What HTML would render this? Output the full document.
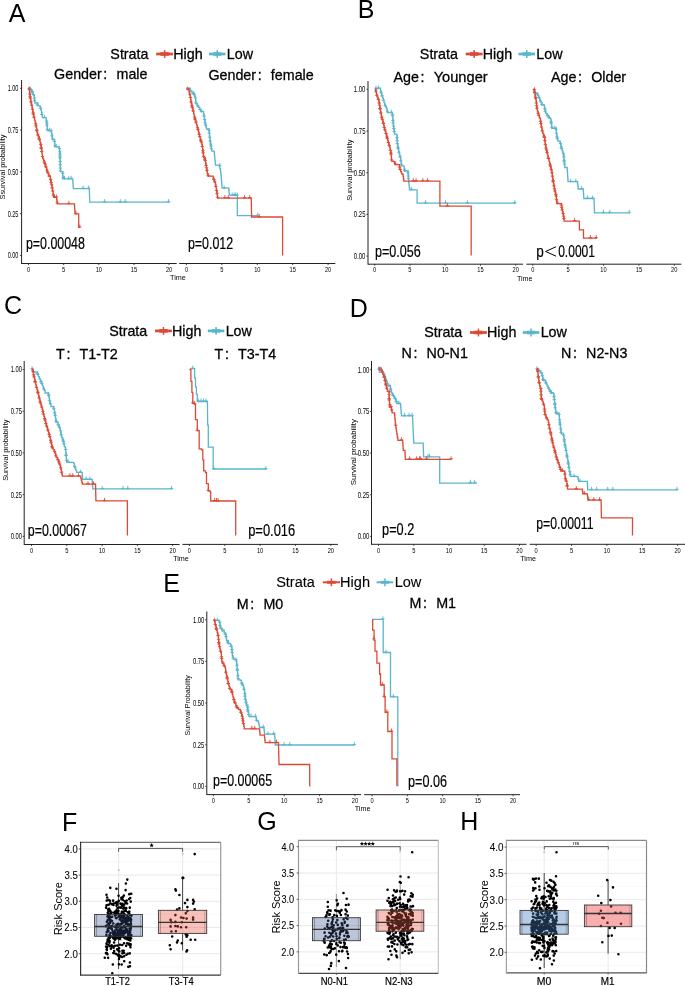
<!DOCTYPE html>
<html><head><meta charset="utf-8"><style>
html,body{margin:0;padding:0;background:#fff;width:685px;height:986px;overflow:hidden;position:relative}
</style></head><body>
<svg width="685" height="986" viewBox="0 0 685 986" style="position:absolute;left:0;top:0;font-family:'Liberation Sans', sans-serif;will-change:transform">
<rect width="685" height="986" fill="#fff"/>
<text x="8.75" y="21.90" font-size="25" text-anchor="start" fill="#000" >A</text>
<text x="357.85" y="17.50" font-size="25" text-anchor="start" fill="#000" >B</text>
<text x="4.03" y="313.90" font-size="25" text-anchor="start" fill="#000" >C</text>
<text x="349.85" y="317.20" font-size="25" text-anchor="start" fill="#000" >D</text>
<text x="163.25" y="591.70" font-size="25" text-anchor="start" fill="#000" >E</text>
<text x="62.05" y="830.70" font-size="25" text-anchor="start" fill="#000" >F</text>
<text x="257.24" y="829.60" font-size="25" text-anchor="start" fill="#000" >G</text>
<text x="460.15" y="829.70" font-size="25" text-anchor="start" fill="#000" >H</text>
<text x="110.35" y="58.70" font-size="14.80" textLength="38.15" lengthAdjust="spacingAndGlyphs" stroke="#000" stroke-width="0.28">Strata</text>
<line x1="156.20" y1="54.00" x2="173.10" y2="54.00" stroke="#DC4A35" stroke-width="2.7"/>
<line x1="160.40" y1="54.00" x2="168.90" y2="54.00" stroke="#DC4A35" stroke-width="3.60"/>
<line x1="164.65" y1="50.10" x2="164.65" y2="57.90" stroke="#DC4A35" stroke-width="1.5"/>
<text x="173.23" y="58.70" font-size="14.80" textLength="29.41" lengthAdjust="spacingAndGlyphs" stroke="#000" stroke-width="0.28">High</text>
<line x1="209.01" y1="54.00" x2="225.51" y2="54.00" stroke="#5BB6CC" stroke-width="2.7"/>
<line x1="213.21" y1="54.00" x2="221.31" y2="54.00" stroke="#5BB6CC" stroke-width="3.60"/>
<line x1="217.26" y1="50.10" x2="217.26" y2="57.90" stroke="#5BB6CC" stroke-width="1.5"/>
<text x="226.84" y="58.70" font-size="14.80" textLength="26.23" lengthAdjust="spacingAndGlyphs" stroke="#000" stroke-width="0.28">Low</text>
<text x="419.85" y="58.70" font-size="14.80" textLength="38.15" lengthAdjust="spacingAndGlyphs" stroke="#000" stroke-width="0.28">Strata</text>
<line x1="465.70" y1="54.00" x2="482.60" y2="54.00" stroke="#DC4A35" stroke-width="2.7"/>
<line x1="469.90" y1="54.00" x2="478.40" y2="54.00" stroke="#DC4A35" stroke-width="3.60"/>
<line x1="474.15" y1="50.10" x2="474.15" y2="57.90" stroke="#DC4A35" stroke-width="1.5"/>
<text x="482.73" y="58.70" font-size="14.80" textLength="29.41" lengthAdjust="spacingAndGlyphs" stroke="#000" stroke-width="0.28">High</text>
<line x1="518.51" y1="54.00" x2="535.01" y2="54.00" stroke="#5BB6CC" stroke-width="2.7"/>
<line x1="522.71" y1="54.00" x2="530.81" y2="54.00" stroke="#5BB6CC" stroke-width="3.60"/>
<line x1="526.76" y1="50.10" x2="526.76" y2="57.90" stroke="#5BB6CC" stroke-width="1.5"/>
<text x="536.34" y="58.70" font-size="14.80" textLength="26.23" lengthAdjust="spacingAndGlyphs" stroke="#000" stroke-width="0.28">Low</text>
<text x="109.15" y="335.60" font-size="14.80" textLength="38.15" lengthAdjust="spacingAndGlyphs" stroke="#000" stroke-width="0.28">Strata</text>
<line x1="155.00" y1="330.90" x2="171.90" y2="330.90" stroke="#DC4A35" stroke-width="2.7"/>
<line x1="159.20" y1="330.90" x2="167.70" y2="330.90" stroke="#DC4A35" stroke-width="3.60"/>
<line x1="163.45" y1="327.00" x2="163.45" y2="334.80" stroke="#DC4A35" stroke-width="1.5"/>
<text x="172.03" y="335.60" font-size="14.80" textLength="29.41" lengthAdjust="spacingAndGlyphs" stroke="#000" stroke-width="0.28">High</text>
<line x1="207.81" y1="330.90" x2="224.31" y2="330.90" stroke="#5BB6CC" stroke-width="2.7"/>
<line x1="212.01" y1="330.90" x2="220.11" y2="330.90" stroke="#5BB6CC" stroke-width="3.60"/>
<line x1="216.06" y1="327.00" x2="216.06" y2="334.80" stroke="#5BB6CC" stroke-width="1.5"/>
<text x="225.64" y="335.60" font-size="14.80" textLength="26.23" lengthAdjust="spacingAndGlyphs" stroke="#000" stroke-width="0.28">Low</text>
<text x="424.15" y="337.20" font-size="14.80" textLength="38.15" lengthAdjust="spacingAndGlyphs" stroke="#000" stroke-width="0.28">Strata</text>
<line x1="470.00" y1="332.50" x2="486.90" y2="332.50" stroke="#DC4A35" stroke-width="2.7"/>
<line x1="474.20" y1="332.50" x2="482.70" y2="332.50" stroke="#DC4A35" stroke-width="3.60"/>
<line x1="478.45" y1="328.60" x2="478.45" y2="336.40" stroke="#DC4A35" stroke-width="1.5"/>
<text x="487.03" y="337.20" font-size="14.80" textLength="29.41" lengthAdjust="spacingAndGlyphs" stroke="#000" stroke-width="0.28">High</text>
<line x1="522.81" y1="332.50" x2="539.31" y2="332.50" stroke="#5BB6CC" stroke-width="2.7"/>
<line x1="527.01" y1="332.50" x2="535.11" y2="332.50" stroke="#5BB6CC" stroke-width="3.60"/>
<line x1="531.06" y1="328.60" x2="531.06" y2="336.40" stroke="#5BB6CC" stroke-width="1.5"/>
<text x="540.64" y="337.20" font-size="14.80" textLength="26.23" lengthAdjust="spacingAndGlyphs" stroke="#000" stroke-width="0.28">Low</text>
<text x="276.14" y="587.00" font-size="15.06" textLength="38.82" lengthAdjust="spacingAndGlyphs" stroke="#000" stroke-width="0.1">Strata</text>
<line x1="322.79" y1="582.30" x2="339.99" y2="582.30" stroke="#DC4A35" stroke-width="2.0"/>
<line x1="326.99" y1="582.30" x2="335.79" y2="582.30" stroke="#DC4A35" stroke-width="2.90"/>
<line x1="331.39" y1="578.40" x2="331.39" y2="586.20" stroke="#DC4A35" stroke-width="1.5"/>
<text x="340.12" y="587.00" font-size="15.06" textLength="29.92" lengthAdjust="spacingAndGlyphs" stroke="#000" stroke-width="0.1">High</text>
<line x1="376.52" y1="582.30" x2="393.31" y2="582.30" stroke="#5BB6CC" stroke-width="2.0"/>
<line x1="380.72" y1="582.30" x2="389.11" y2="582.30" stroke="#5BB6CC" stroke-width="2.90"/>
<line x1="384.92" y1="578.40" x2="384.92" y2="586.20" stroke="#5BB6CC" stroke-width="1.5"/>
<text x="394.66" y="587.00" font-size="15.06" textLength="26.69" lengthAdjust="spacingAndGlyphs" stroke="#000" stroke-width="0.1">Low</text>
<text x="54.08" y="78.90" font-size="14.80" textLength="47.70" lengthAdjust="spacingAndGlyphs" stroke="#000" stroke-width="0.28">Gender</text>
<text x="103.37" y="78.90" font-size="14.80" textLength="3.97" lengthAdjust="spacingAndGlyphs" stroke="#000" stroke-width="0.28">:</text>
<text x="116.51" y="78.90" font-size="14.80" textLength="30.99" lengthAdjust="spacingAndGlyphs" stroke="#000" stroke-width="0.28">male</text>
<text x="208.38" y="80.40" font-size="14.80" textLength="47.70" lengthAdjust="spacingAndGlyphs" stroke="#000" stroke-width="0.28">Gender</text>
<text x="257.67" y="80.40" font-size="14.80" textLength="3.97" lengthAdjust="spacingAndGlyphs" stroke="#000" stroke-width="0.28">:</text>
<text x="270.81" y="80.40" font-size="14.80" textLength="42.92" lengthAdjust="spacingAndGlyphs" stroke="#000" stroke-width="0.28">female</text>
<text x="393.47" y="82.00" font-size="14.80" textLength="25.44" lengthAdjust="spacingAndGlyphs" stroke="#000" stroke-width="0.28">Age</text>
<text x="420.50" y="82.00" font-size="14.80" textLength="3.97" lengthAdjust="spacingAndGlyphs" stroke="#000" stroke-width="0.28">:</text>
<text x="433.65" y="82.00" font-size="14.80" textLength="54.06" lengthAdjust="spacingAndGlyphs" stroke="#000" stroke-width="0.28">Younger</text>
<text x="550.97" y="82.00" font-size="14.80" textLength="25.44" lengthAdjust="spacingAndGlyphs" stroke="#000" stroke-width="0.28">Age</text>
<text x="578.00" y="82.00" font-size="14.80" textLength="3.97" lengthAdjust="spacingAndGlyphs" stroke="#000" stroke-width="0.28">:</text>
<text x="591.15" y="82.00" font-size="14.80" textLength="34.97" lengthAdjust="spacingAndGlyphs" stroke="#000" stroke-width="0.28">Older</text>
<text x="56.08" y="359.20" font-size="14.80" textLength="8.74" lengthAdjust="spacingAndGlyphs" stroke="#000" stroke-width="0.28">T</text>
<text x="66.40" y="359.20" font-size="14.80" textLength="3.97" lengthAdjust="spacingAndGlyphs" stroke="#000" stroke-width="0.28">:</text>
<text x="79.54" y="359.20" font-size="14.80" textLength="38.14" lengthAdjust="spacingAndGlyphs" stroke="#000" stroke-width="0.28">T1-T2</text>
<text x="214.58" y="359.40" font-size="14.80" textLength="8.74" lengthAdjust="spacingAndGlyphs" stroke="#000" stroke-width="0.28">T</text>
<text x="224.90" y="359.40" font-size="14.80" textLength="3.97" lengthAdjust="spacingAndGlyphs" stroke="#000" stroke-width="0.28">:</text>
<text x="238.04" y="359.40" font-size="14.80" textLength="38.14" lengthAdjust="spacingAndGlyphs" stroke="#000" stroke-width="0.28">T3-T4</text>
<text x="401.53" y="358.20" font-size="14.80" textLength="10.33" lengthAdjust="spacingAndGlyphs" stroke="#000" stroke-width="0.28">N</text>
<text x="413.44" y="358.20" font-size="14.80" textLength="3.97" lengthAdjust="spacingAndGlyphs" stroke="#000" stroke-width="0.28">:</text>
<text x="426.58" y="358.20" font-size="14.80" textLength="41.32" lengthAdjust="spacingAndGlyphs" stroke="#000" stroke-width="0.28">N0-N1</text>
<text x="561.03" y="358.20" font-size="14.80" textLength="10.33" lengthAdjust="spacingAndGlyphs" stroke="#000" stroke-width="0.28">N</text>
<text x="572.94" y="358.20" font-size="14.80" textLength="3.97" lengthAdjust="spacingAndGlyphs" stroke="#000" stroke-width="0.28">:</text>
<text x="586.08" y="358.20" font-size="14.80" textLength="41.32" lengthAdjust="spacingAndGlyphs" stroke="#000" stroke-width="0.28">N2-N3</text>
<text x="236.83" y="608.70" font-size="14.80" textLength="11.91" lengthAdjust="spacingAndGlyphs" stroke="#000" stroke-width="0.28">M</text>
<text x="250.33" y="608.70" font-size="14.80" textLength="3.97" lengthAdjust="spacingAndGlyphs" stroke="#000" stroke-width="0.28">:</text>
<text x="263.47" y="608.70" font-size="14.80" textLength="19.86" lengthAdjust="spacingAndGlyphs" stroke="#000" stroke-width="0.28">M0</text>
<text x="409.53" y="608.00" font-size="14.80" textLength="11.91" lengthAdjust="spacingAndGlyphs" stroke="#000" stroke-width="0.28">M</text>
<text x="423.03" y="608.00" font-size="14.80" textLength="3.97" lengthAdjust="spacingAndGlyphs" stroke="#000" stroke-width="0.28">:</text>
<text x="436.17" y="608.00" font-size="14.80" textLength="19.86" lengthAdjust="spacingAndGlyphs" stroke="#000" stroke-width="0.28">M1</text>
<line x1="21.60" y1="80.00" x2="21.60" y2="264.00" stroke="#222" stroke-width="1.0" />
<line x1="20.00" y1="88.30" x2="21.60" y2="88.30" stroke="#222" stroke-width="0.8" />
<text x="7.67" y="91.25" font-size="8.4" fill="#000" textLength="10.75" lengthAdjust="spacingAndGlyphs">1.00</text>
<line x1="20.00" y1="130.10" x2="21.60" y2="130.10" stroke="#222" stroke-width="0.8" />
<text x="7.68" y="133.05" font-size="8.4" fill="#000" textLength="10.75" lengthAdjust="spacingAndGlyphs">0.75</text>
<line x1="20.00" y1="171.90" x2="21.60" y2="171.90" stroke="#222" stroke-width="0.8" />
<text x="7.67" y="174.85" font-size="8.4" fill="#000" textLength="10.75" lengthAdjust="spacingAndGlyphs">0.50</text>
<line x1="20.00" y1="213.70" x2="21.60" y2="213.70" stroke="#222" stroke-width="0.8" />
<text x="7.68" y="216.65" font-size="8.4" fill="#000" textLength="10.75" lengthAdjust="spacingAndGlyphs">0.25</text>
<line x1="20.00" y1="255.50" x2="21.60" y2="255.50" stroke="#222" stroke-width="0.8" />
<text x="7.67" y="258.45" font-size="8.4" fill="#000" textLength="10.75" lengthAdjust="spacingAndGlyphs">0.00</text>
<line x1="21.60" y1="263.50" x2="176.70" y2="263.50" stroke="#222" stroke-width="1.0" />
<line x1="28.50" y1="263.50" x2="28.50" y2="265.10" stroke="#222" stroke-width="0.8" />
<text x="28.50" y="271.75" font-size="7.7" text-anchor="middle" fill="#000" transform-origin="28.50 263.50" style="transform:scaleX(0.74)">0</text>
<line x1="63.65" y1="263.50" x2="63.65" y2="265.10" stroke="#222" stroke-width="0.8" />
<text x="63.65" y="271.75" font-size="7.7" text-anchor="middle" fill="#000" transform-origin="63.65 263.50" style="transform:scaleX(0.74)">5</text>
<line x1="98.80" y1="263.50" x2="98.80" y2="265.10" stroke="#222" stroke-width="0.8" />
<text x="98.80" y="271.75" font-size="7.7" text-anchor="middle" fill="#000" transform-origin="98.80 263.50" style="transform:scaleX(0.74)">10</text>
<line x1="133.95" y1="263.50" x2="133.95" y2="265.10" stroke="#222" stroke-width="0.8" />
<text x="133.95" y="271.75" font-size="7.7" text-anchor="middle" fill="#000" transform-origin="133.95 263.50" style="transform:scaleX(0.74)">15</text>
<line x1="169.10" y1="263.50" x2="169.10" y2="265.10" stroke="#222" stroke-width="0.8" />
<text x="169.10" y="271.75" font-size="7.7" text-anchor="middle" fill="#000" transform-origin="169.10 263.50" style="transform:scaleX(0.74)">20</text>
<line x1="179.20" y1="263.50" x2="335.30" y2="263.50" stroke="#222" stroke-width="1.0" />
<line x1="186.50" y1="263.50" x2="186.50" y2="265.10" stroke="#222" stroke-width="0.8" />
<text x="186.50" y="271.75" font-size="7.7" text-anchor="middle" fill="#000" transform-origin="186.50 263.50" style="transform:scaleX(0.74)">0</text>
<line x1="221.90" y1="263.50" x2="221.90" y2="265.10" stroke="#222" stroke-width="0.8" />
<text x="221.90" y="271.75" font-size="7.7" text-anchor="middle" fill="#000" transform-origin="221.90 263.50" style="transform:scaleX(0.74)">5</text>
<line x1="257.30" y1="263.50" x2="257.30" y2="265.10" stroke="#222" stroke-width="0.8" />
<text x="257.30" y="271.75" font-size="7.7" text-anchor="middle" fill="#000" transform-origin="257.30 263.50" style="transform:scaleX(0.74)">10</text>
<line x1="292.70" y1="263.50" x2="292.70" y2="265.10" stroke="#222" stroke-width="0.8" />
<text x="292.70" y="271.75" font-size="7.7" text-anchor="middle" fill="#000" transform-origin="292.70 263.50" style="transform:scaleX(0.74)">15</text>
<line x1="328.10" y1="263.50" x2="328.10" y2="265.10" stroke="#222" stroke-width="0.8" />
<text x="328.10" y="271.75" font-size="7.7" text-anchor="middle" fill="#000" transform-origin="328.10 263.50" style="transform:scaleX(0.74)">20</text>
<text x="0" y="0" font-size="7.3" text-anchor="middle" transform="translate(5.20,167.00) rotate(-90)">Ssurvival probability</text>
<text x="177.95" y="280.00" font-size="7.2" text-anchor="middle" fill="#000" >Time</text>
<line x1="368.00" y1="81.00" x2="368.00" y2="264.70" stroke="#222" stroke-width="1.0" />
<line x1="366.40" y1="89.30" x2="368.00" y2="89.30" stroke="#222" stroke-width="0.8" />
<text x="353.85" y="92.25" font-size="8.4" fill="#000" textLength="11.58" lengthAdjust="spacingAndGlyphs">1.00</text>
<line x1="366.40" y1="131.00" x2="368.00" y2="131.00" stroke="#222" stroke-width="0.8" />
<text x="353.87" y="133.95" font-size="8.4" fill="#000" textLength="11.58" lengthAdjust="spacingAndGlyphs">0.75</text>
<line x1="366.40" y1="172.70" x2="368.00" y2="172.70" stroke="#222" stroke-width="0.8" />
<text x="353.85" y="175.65" font-size="8.4" fill="#000" textLength="11.58" lengthAdjust="spacingAndGlyphs">0.50</text>
<line x1="366.40" y1="214.40" x2="368.00" y2="214.40" stroke="#222" stroke-width="0.8" />
<text x="353.87" y="217.35" font-size="8.4" fill="#000" textLength="11.58" lengthAdjust="spacingAndGlyphs">0.25</text>
<line x1="366.40" y1="256.10" x2="368.00" y2="256.10" stroke="#222" stroke-width="0.8" />
<text x="353.85" y="259.05" font-size="8.4" fill="#000" textLength="11.58" lengthAdjust="spacingAndGlyphs">0.00</text>
<line x1="368.00" y1="264.20" x2="523.10" y2="264.20" stroke="#222" stroke-width="1.0" />
<line x1="374.70" y1="264.20" x2="374.70" y2="265.80" stroke="#222" stroke-width="0.8" />
<text x="374.70" y="272.45" font-size="7.7" text-anchor="middle" fill="#000" transform-origin="374.70 264.20" style="transform:scaleX(0.74)">0</text>
<line x1="409.95" y1="264.20" x2="409.95" y2="265.80" stroke="#222" stroke-width="0.8" />
<text x="409.95" y="272.45" font-size="7.7" text-anchor="middle" fill="#000" transform-origin="409.95 264.20" style="transform:scaleX(0.74)">5</text>
<line x1="445.20" y1="264.20" x2="445.20" y2="265.80" stroke="#222" stroke-width="0.8" />
<text x="445.20" y="272.45" font-size="7.7" text-anchor="middle" fill="#000" transform-origin="445.20 264.20" style="transform:scaleX(0.74)">10</text>
<line x1="480.45" y1="264.20" x2="480.45" y2="265.80" stroke="#222" stroke-width="0.8" />
<text x="480.45" y="272.45" font-size="7.7" text-anchor="middle" fill="#000" transform-origin="480.45 264.20" style="transform:scaleX(0.74)">15</text>
<line x1="515.70" y1="264.20" x2="515.70" y2="265.80" stroke="#222" stroke-width="0.8" />
<text x="515.70" y="272.45" font-size="7.7" text-anchor="middle" fill="#000" transform-origin="515.70 264.20" style="transform:scaleX(0.74)">20</text>
<line x1="526.40" y1="264.20" x2="681.40" y2="264.20" stroke="#222" stroke-width="1.0" />
<line x1="532.80" y1="264.20" x2="532.80" y2="265.80" stroke="#222" stroke-width="0.8" />
<text x="532.80" y="272.45" font-size="7.7" text-anchor="middle" fill="#000" transform-origin="532.80 264.20" style="transform:scaleX(0.74)">0</text>
<line x1="568.17" y1="264.20" x2="568.17" y2="265.80" stroke="#222" stroke-width="0.8" />
<text x="568.17" y="272.45" font-size="7.7" text-anchor="middle" fill="#000" transform-origin="568.17 264.20" style="transform:scaleX(0.74)">5</text>
<line x1="603.55" y1="264.20" x2="603.55" y2="265.80" stroke="#222" stroke-width="0.8" />
<text x="603.55" y="272.45" font-size="7.7" text-anchor="middle" fill="#000" transform-origin="603.55 264.20" style="transform:scaleX(0.74)">10</text>
<line x1="638.92" y1="264.20" x2="638.92" y2="265.80" stroke="#222" stroke-width="0.8" />
<text x="638.92" y="272.45" font-size="7.7" text-anchor="middle" fill="#000" transform-origin="638.92 264.20" style="transform:scaleX(0.74)">15</text>
<line x1="674.30" y1="264.20" x2="674.30" y2="265.80" stroke="#222" stroke-width="0.8" />
<text x="674.30" y="272.45" font-size="7.7" text-anchor="middle" fill="#000" transform-origin="674.30 264.20" style="transform:scaleX(0.74)">20</text>
<text x="0" y="0" font-size="7.3" text-anchor="middle" transform="translate(352.40,170.20) rotate(-90)">Survival probability</text>
<text x="524.75" y="280.70" font-size="7.2" text-anchor="middle" fill="#000" >Time</text>
<line x1="24.20" y1="361.00" x2="24.20" y2="545.00" stroke="#222" stroke-width="1.0" />
<line x1="22.60" y1="369.50" x2="24.20" y2="369.50" stroke="#222" stroke-width="0.8" />
<text x="10.65" y="372.45" font-size="8.4" fill="#000" textLength="11.37" lengthAdjust="spacingAndGlyphs">1.00</text>
<line x1="22.60" y1="411.23" x2="24.20" y2="411.23" stroke="#222" stroke-width="0.8" />
<text x="10.67" y="414.18" font-size="8.4" fill="#000" textLength="11.37" lengthAdjust="spacingAndGlyphs">0.75</text>
<line x1="22.60" y1="452.95" x2="24.20" y2="452.95" stroke="#222" stroke-width="0.8" />
<text x="10.65" y="455.90" font-size="8.4" fill="#000" textLength="11.37" lengthAdjust="spacingAndGlyphs">0.50</text>
<line x1="22.60" y1="494.67" x2="24.20" y2="494.67" stroke="#222" stroke-width="0.8" />
<text x="10.67" y="497.62" font-size="8.4" fill="#000" textLength="11.37" lengthAdjust="spacingAndGlyphs">0.25</text>
<line x1="22.60" y1="536.40" x2="24.20" y2="536.40" stroke="#222" stroke-width="0.8" />
<text x="10.65" y="539.35" font-size="8.4" fill="#000" textLength="11.37" lengthAdjust="spacingAndGlyphs">0.00</text>
<line x1="24.20" y1="544.50" x2="179.60" y2="544.50" stroke="#222" stroke-width="1.0" />
<line x1="31.50" y1="544.50" x2="31.50" y2="546.10" stroke="#222" stroke-width="0.8" />
<text x="31.50" y="552.75" font-size="7.7" text-anchor="middle" fill="#000" transform-origin="31.50 544.50" style="transform:scaleX(0.74)">0</text>
<line x1="66.80" y1="544.50" x2="66.80" y2="546.10" stroke="#222" stroke-width="0.8" />
<text x="66.80" y="552.75" font-size="7.7" text-anchor="middle" fill="#000" transform-origin="66.80 544.50" style="transform:scaleX(0.74)">5</text>
<line x1="102.10" y1="544.50" x2="102.10" y2="546.10" stroke="#222" stroke-width="0.8" />
<text x="102.10" y="552.75" font-size="7.7" text-anchor="middle" fill="#000" transform-origin="102.10 544.50" style="transform:scaleX(0.74)">10</text>
<line x1="137.40" y1="544.50" x2="137.40" y2="546.10" stroke="#222" stroke-width="0.8" />
<text x="137.40" y="552.75" font-size="7.7" text-anchor="middle" fill="#000" transform-origin="137.40 544.50" style="transform:scaleX(0.74)">15</text>
<line x1="172.70" y1="544.50" x2="172.70" y2="546.10" stroke="#222" stroke-width="0.8" />
<text x="172.70" y="552.75" font-size="7.7" text-anchor="middle" fill="#000" transform-origin="172.70 544.50" style="transform:scaleX(0.74)">20</text>
<line x1="182.40" y1="544.40" x2="337.90" y2="544.40" stroke="#222" stroke-width="1.0" />
<line x1="189.40" y1="544.40" x2="189.40" y2="546.00" stroke="#222" stroke-width="0.8" />
<text x="189.40" y="552.65" font-size="7.7" text-anchor="middle" fill="#000" transform-origin="189.40 544.40" style="transform:scaleX(0.74)">0</text>
<line x1="224.75" y1="544.40" x2="224.75" y2="546.00" stroke="#222" stroke-width="0.8" />
<text x="224.75" y="552.65" font-size="7.7" text-anchor="middle" fill="#000" transform-origin="224.75 544.40" style="transform:scaleX(0.74)">5</text>
<line x1="260.10" y1="544.40" x2="260.10" y2="546.00" stroke="#222" stroke-width="0.8" />
<text x="260.10" y="552.65" font-size="7.7" text-anchor="middle" fill="#000" transform-origin="260.10 544.40" style="transform:scaleX(0.74)">10</text>
<line x1="295.45" y1="544.40" x2="295.45" y2="546.00" stroke="#222" stroke-width="0.8" />
<text x="295.45" y="552.65" font-size="7.7" text-anchor="middle" fill="#000" transform-origin="295.45 544.40" style="transform:scaleX(0.74)">15</text>
<line x1="330.80" y1="544.40" x2="330.80" y2="546.00" stroke="#222" stroke-width="0.8" />
<text x="330.80" y="552.65" font-size="7.7" text-anchor="middle" fill="#000" transform-origin="330.80 544.40" style="transform:scaleX(0.74)">20</text>
<text x="0" y="0" font-size="7.3" text-anchor="middle" transform="translate(8.00,450.20) rotate(-90)">Survival probability</text>
<text x="181.00" y="561.00" font-size="7.2" text-anchor="middle" fill="#000" >Time</text>
<line x1="371.50" y1="361.00" x2="371.50" y2="544.80" stroke="#222" stroke-width="1.0" />
<line x1="369.90" y1="369.70" x2="371.50" y2="369.70" stroke="#222" stroke-width="0.8" />
<text x="357.75" y="372.65" font-size="8.4" fill="#000" textLength="11.58" lengthAdjust="spacingAndGlyphs">1.00</text>
<line x1="369.90" y1="411.38" x2="371.50" y2="411.38" stroke="#222" stroke-width="0.8" />
<text x="357.77" y="414.32" font-size="8.4" fill="#000" textLength="11.58" lengthAdjust="spacingAndGlyphs">0.75</text>
<line x1="369.90" y1="453.05" x2="371.50" y2="453.05" stroke="#222" stroke-width="0.8" />
<text x="357.75" y="456.00" font-size="8.4" fill="#000" textLength="11.58" lengthAdjust="spacingAndGlyphs">0.50</text>
<line x1="369.90" y1="494.72" x2="371.50" y2="494.72" stroke="#222" stroke-width="0.8" />
<text x="357.77" y="497.67" font-size="8.4" fill="#000" textLength="11.58" lengthAdjust="spacingAndGlyphs">0.25</text>
<line x1="369.90" y1="536.40" x2="371.50" y2="536.40" stroke="#222" stroke-width="0.8" />
<text x="357.75" y="539.35" font-size="8.4" fill="#000" textLength="11.58" lengthAdjust="spacingAndGlyphs">0.00</text>
<line x1="371.50" y1="544.30" x2="526.60" y2="544.30" stroke="#222" stroke-width="1.0" />
<line x1="378.50" y1="544.30" x2="378.50" y2="545.90" stroke="#222" stroke-width="0.8" />
<text x="378.50" y="552.55" font-size="7.7" text-anchor="middle" fill="#000" transform-origin="378.50 544.30" style="transform:scaleX(0.74)">0</text>
<line x1="413.75" y1="544.30" x2="413.75" y2="545.90" stroke="#222" stroke-width="0.8" />
<text x="413.75" y="552.55" font-size="7.7" text-anchor="middle" fill="#000" transform-origin="413.75 544.30" style="transform:scaleX(0.74)">5</text>
<line x1="449.00" y1="544.30" x2="449.00" y2="545.90" stroke="#222" stroke-width="0.8" />
<text x="449.00" y="552.55" font-size="7.7" text-anchor="middle" fill="#000" transform-origin="449.00 544.30" style="transform:scaleX(0.74)">10</text>
<line x1="484.25" y1="544.30" x2="484.25" y2="545.90" stroke="#222" stroke-width="0.8" />
<text x="484.25" y="552.55" font-size="7.7" text-anchor="middle" fill="#000" transform-origin="484.25 544.30" style="transform:scaleX(0.74)">15</text>
<line x1="519.50" y1="544.30" x2="519.50" y2="545.90" stroke="#222" stroke-width="0.8" />
<text x="519.50" y="552.55" font-size="7.7" text-anchor="middle" fill="#000" transform-origin="519.50 544.30" style="transform:scaleX(0.74)">20</text>
<line x1="529.60" y1="544.30" x2="685.00" y2="544.30" stroke="#222" stroke-width="1.0" />
<line x1="536.20" y1="544.30" x2="536.20" y2="545.90" stroke="#222" stroke-width="0.8" />
<text x="536.20" y="552.55" font-size="7.7" text-anchor="middle" fill="#000" transform-origin="536.20 544.30" style="transform:scaleX(0.74)">0</text>
<line x1="571.55" y1="544.30" x2="571.55" y2="545.90" stroke="#222" stroke-width="0.8" />
<text x="571.55" y="552.55" font-size="7.7" text-anchor="middle" fill="#000" transform-origin="571.55 544.30" style="transform:scaleX(0.74)">5</text>
<line x1="606.90" y1="544.30" x2="606.90" y2="545.90" stroke="#222" stroke-width="0.8" />
<text x="606.90" y="552.55" font-size="7.7" text-anchor="middle" fill="#000" transform-origin="606.90 544.30" style="transform:scaleX(0.74)">10</text>
<line x1="642.25" y1="544.30" x2="642.25" y2="545.90" stroke="#222" stroke-width="0.8" />
<text x="642.25" y="552.55" font-size="7.7" text-anchor="middle" fill="#000" transform-origin="642.25 544.30" style="transform:scaleX(0.74)">15</text>
<line x1="677.60" y1="544.30" x2="677.60" y2="545.90" stroke="#222" stroke-width="0.8" />
<text x="677.60" y="552.55" font-size="7.7" text-anchor="middle" fill="#000" transform-origin="677.60 544.30" style="transform:scaleX(0.74)">20</text>
<text x="0" y="0" font-size="7.9" text-anchor="middle" transform="translate(355.70,452.20) rotate(-90)">Survival probability</text>
<text x="528.10" y="560.80" font-size="7.2" text-anchor="middle" fill="#000" >Time</text>
<line x1="206.80" y1="611.50" x2="206.80" y2="795.10" stroke="#222" stroke-width="1.0" />
<line x1="205.20" y1="619.70" x2="206.80" y2="619.70" stroke="#222" stroke-width="0.8" />
<text x="192.95" y="622.65" font-size="8.4" fill="#000" textLength="11.37" lengthAdjust="spacingAndGlyphs">1.00</text>
<line x1="205.20" y1="661.38" x2="206.80" y2="661.38" stroke="#222" stroke-width="0.8" />
<text x="192.97" y="664.33" font-size="8.4" fill="#000" textLength="11.37" lengthAdjust="spacingAndGlyphs">0.75</text>
<line x1="205.20" y1="703.05" x2="206.80" y2="703.05" stroke="#222" stroke-width="0.8" />
<text x="192.95" y="706.00" font-size="8.4" fill="#000" textLength="11.37" lengthAdjust="spacingAndGlyphs">0.50</text>
<line x1="205.20" y1="744.73" x2="206.80" y2="744.73" stroke="#222" stroke-width="0.8" />
<text x="192.97" y="747.68" font-size="8.4" fill="#000" textLength="11.37" lengthAdjust="spacingAndGlyphs">0.25</text>
<line x1="205.20" y1="786.40" x2="206.80" y2="786.40" stroke="#222" stroke-width="0.8" />
<text x="192.95" y="789.35" font-size="8.4" fill="#000" textLength="11.37" lengthAdjust="spacingAndGlyphs">0.00</text>
<line x1="206.80" y1="794.60" x2="361.00" y2="794.60" stroke="#222" stroke-width="1.0" />
<line x1="213.40" y1="794.60" x2="213.40" y2="796.20" stroke="#222" stroke-width="0.8" />
<text x="213.40" y="802.85" font-size="7.7" text-anchor="middle" fill="#000" transform-origin="213.40 794.60" style="transform:scaleX(0.74)">0</text>
<line x1="248.80" y1="794.60" x2="248.80" y2="796.20" stroke="#222" stroke-width="0.8" />
<text x="248.80" y="802.85" font-size="7.7" text-anchor="middle" fill="#000" transform-origin="248.80 794.60" style="transform:scaleX(0.74)">5</text>
<line x1="284.20" y1="794.60" x2="284.20" y2="796.20" stroke="#222" stroke-width="0.8" />
<text x="284.20" y="802.85" font-size="7.7" text-anchor="middle" fill="#000" transform-origin="284.20 794.60" style="transform:scaleX(0.74)">10</text>
<line x1="319.60" y1="794.60" x2="319.60" y2="796.20" stroke="#222" stroke-width="0.8" />
<text x="319.60" y="802.85" font-size="7.7" text-anchor="middle" fill="#000" transform-origin="319.60 794.60" style="transform:scaleX(0.74)">15</text>
<line x1="355.00" y1="794.60" x2="355.00" y2="796.20" stroke="#222" stroke-width="0.8" />
<text x="355.00" y="802.85" font-size="7.7" text-anchor="middle" fill="#000" transform-origin="355.00 794.60" style="transform:scaleX(0.74)">20</text>
<line x1="364.20" y1="794.70" x2="520.00" y2="794.70" stroke="#222" stroke-width="1.0" />
<line x1="372.10" y1="794.70" x2="372.10" y2="796.30" stroke="#222" stroke-width="0.8" />
<text x="372.10" y="802.95" font-size="7.7" text-anchor="middle" fill="#000" transform-origin="372.10 794.70" style="transform:scaleX(0.74)">0</text>
<line x1="407.35" y1="794.70" x2="407.35" y2="796.30" stroke="#222" stroke-width="0.8" />
<text x="407.35" y="802.95" font-size="7.7" text-anchor="middle" fill="#000" transform-origin="407.35 794.70" style="transform:scaleX(0.74)">5</text>
<line x1="442.60" y1="794.70" x2="442.60" y2="796.30" stroke="#222" stroke-width="0.8" />
<text x="442.60" y="802.95" font-size="7.7" text-anchor="middle" fill="#000" transform-origin="442.60 794.70" style="transform:scaleX(0.74)">10</text>
<line x1="477.85" y1="794.70" x2="477.85" y2="796.30" stroke="#222" stroke-width="0.8" />
<text x="477.85" y="802.95" font-size="7.7" text-anchor="middle" fill="#000" transform-origin="477.85 794.70" style="transform:scaleX(0.74)">15</text>
<line x1="513.10" y1="794.70" x2="513.10" y2="796.30" stroke="#222" stroke-width="0.8" />
<text x="513.10" y="802.95" font-size="7.7" text-anchor="middle" fill="#000" transform-origin="513.10 794.70" style="transform:scaleX(0.74)">20</text>
<text x="0" y="0" font-size="7.1" text-anchor="middle" transform="translate(190.30,705.30) rotate(-90)">Survival Probability</text>
<text x="362.60" y="811.10" font-size="7.2" text-anchor="middle" fill="#000" >Time</text>
<path d="M28.40,87.90H30.20V89.95H32.00V92.00H33.10V94.55H34.20V97.10H34.43V99.07H34.67V101.03H34.90V103.00H37.90V105.90H40.10V107.40H40.80V109.95H41.50V112.50H41.85V115.05H42.20V117.60H45.90V117.90H46.25V119.95H46.60V122.00H46.80V124.17H47.00V126.35H47.20V128.52H47.40V130.70L51.00,130.70H51.38V132.90H51.75V135.10H52.12V137.30H52.50V139.50H54.70V142.40L55.00,146.80L59.00,146.80H59.27V148.73H59.53V150.67H59.80V152.60H59.88V154.71H59.96V156.82H60.03V158.93H60.11V161.04H60.19V163.16H60.27V165.27H60.34V167.38H60.42V169.49H60.50V171.60H62.70V172.30L63.00,178.80L72.60,178.80H72.77V181.25H72.95V183.70H73.12V186.15H73.30V188.60L89.30,188.60H89.37V190.87H89.43V193.13H89.50V195.40H89.57V197.67H89.63V199.93H89.70V202.20L169.60,202.20" fill="none" stroke="#5BB6CC" stroke-width="1.3" stroke-linejoin="miter"/>
<path d="M62.80,178.30H66.20M64.50,175.80V179.50M81.40,188.10H84.80M83.10,185.60V189.30M86.90,188.10H90.30M88.60,185.60V189.30M102.90,201.70H106.30M104.60,199.20V202.90M118.60,201.70H122.00M120.30,199.20V202.90M123.50,201.70H126.90M125.20,199.20V202.90M166.80,201.70H170.20M168.50,199.20V202.90M28.22,89.13H31.62M29.92,86.63V90.33M29.86,91.00H33.26M31.56,88.50V92.20M30.76,92.57H34.16M32.46,90.07V93.77M31.68,94.71H35.08M33.38,92.21V95.91M32.68,98.11H36.08M34.38,95.61V99.31M32.99,100.74H36.39M34.69,98.24V101.94M35.55,104.77H38.95M37.25,102.27V105.97M38.82,108.45H42.22M40.52,105.95V109.65M40.13,114.43H43.53M41.83,111.93V115.63M42.66,117.28H46.06M44.36,114.78V118.48M44.84,121.12H48.24M46.54,118.62V122.32M45.03,122.96H48.43M46.73,120.46V124.16M45.24,125.22H48.64M46.94,122.72V126.42M45.63,129.49H49.03M47.33,126.99V130.69M47.93,130.20H51.33M49.63,127.70V131.40M49.43,130.93H52.83M51.13,128.43V132.13M50.25,135.80H53.65M51.95,133.30V137.00M50.79,138.95H54.19M52.49,136.45V140.15M52.58,141.35H55.98M54.28,138.85V142.55M53.27,145.87H56.67M54.97,143.37V147.07M54.54,146.30H57.94M56.24,143.80V147.50M57.59,148.42H60.99M59.29,145.92V149.62M58.06,151.81H61.46M59.76,149.31V153.01M58.17,153.96H61.57M59.87,151.46V155.16M58.25,156.10H61.65M59.95,153.60V157.30M58.31,157.80H61.71M60.01,155.30V159.00M58.44,161.42H61.84M60.14,158.92V162.62M58.56,164.62H61.96M60.26,162.12V165.82M58.69,168.15H62.09M60.39,165.65V169.35M58.80,171.01H62.20M60.50,168.51V172.21M61.07,173.35H64.47M62.77,170.85V174.55M61.28,177.86H64.68M62.98,175.36V179.06M62.13,178.30H65.53M63.83,175.80V179.50M67.08,178.30H70.48M68.78,175.80V179.50M69.46,178.30H72.86M71.16,175.80V179.50" fill="none" stroke="#5BB6CC" stroke-width="0.9"/>
<path d="M28.50,88.30H29.10V89.10H29.40V91.44H29.70V93.78H30.00V96.12H30.30V98.46H30.60V100.80H31.07V103.00H31.53V105.20H32.00V107.40H32.38V109.44H32.76V111.48H33.14V113.52H33.52V115.56H33.90V117.60H34.50V120.03H35.10V122.47H35.70V124.90H36.12V127.28H36.55V129.65H36.98V132.03H37.40V134.40H38.35V136.95H39.30V139.50H39.80V141.43H40.30V143.37H40.80V145.30H41.12V147.50H41.43V149.70H41.75V151.90H42.07V154.10H42.38V156.30H42.70V158.50H43.55V160.65H44.40V162.80H45.13V165.23H45.87V167.67H46.60V170.10H47.33V172.07H48.07V174.03H48.80V176.00H50.30V178.80H50.72V180.98H51.15V183.15H51.58V185.32H52.00V187.50H52.32V189.48H52.64V191.46H52.96V193.44H53.28V195.42H53.60V197.40L56.40,197.40H56.70V199.57H57.00V201.73H57.30V203.90L74.40,203.90H74.52V205.88H74.64V207.86H74.76V209.84H74.88V211.82H75.00V213.80L78.70,213.80L78.70,227.40L79.80,227.40" fill="none" stroke="#DC4A35" stroke-width="1.3" stroke-linejoin="miter"/>
<path d="M67.20,203.40H70.60M68.90,200.90V204.60M74.20,213.30H77.60M75.90,210.80V214.50M78.10,226.90H81.50M79.80,224.40V228.10M27.45,88.99H30.85M29.15,86.49V90.19M28.09,94.00H31.49M29.79,91.50V95.20M28.44,96.68H31.84M30.14,94.18V97.88M28.62,98.12H32.02M30.32,95.62V99.32M29.25,101.93H32.65M30.95,99.43V103.13M29.91,105.08H33.31M31.61,102.58V106.28M30.71,109.12H34.11M32.41,106.62V110.32M31.43,112.98H34.83M33.13,110.48V114.18M31.63,114.02H35.03M33.33,111.52V115.22M32.23,117.20H35.63M33.93,114.70V118.40M33.85,123.80H37.25M35.55,121.30V125.00M34.25,125.77H37.65M35.95,123.27V126.97M35.00,129.98H38.40M36.70,127.48V131.18M35.13,130.74H38.53M36.83,128.24V131.94M36.12,135.04H39.52M37.82,132.54V136.24M37.34,138.29H40.74M39.04,135.79V139.49M37.77,139.66H41.17M39.47,137.16V140.86M39.06,144.64H42.46M40.76,142.14V145.84M39.53,147.77H42.93M41.23,145.27V148.97M39.59,148.20H42.99M41.29,145.70V149.40M40.06,151.48H43.46M41.76,148.98V152.68M40.78,156.49H44.18M42.48,153.99V157.69M42.60,162.04H46.00M44.30,159.54V163.24M43.12,163.69H46.52M44.82,161.19V164.89M44.04,166.74H47.44M45.74,164.24V167.94M45.36,170.85H48.76M47.06,168.35V172.05M46.03,172.64H49.43M47.73,170.14V173.84M47.43,176.12H50.83M49.13,173.62V177.32M48.85,179.57H52.25M50.55,177.07V180.77M49.45,182.64H52.85M51.15,180.14V183.84M49.87,184.78H53.27M51.57,182.28V185.98M50.42,187.76H53.82M52.12,185.26V188.96M50.95,191.02H54.35M52.65,188.52V192.22M51.61,195.12H55.01M53.31,192.62V196.32M52.71,196.90H56.11M54.41,194.40V198.10M54.71,196.97H58.11M56.41,194.47V198.17M55.53,202.87H58.93M57.23,200.37V204.07" fill="none" stroke="#DC4A35" stroke-width="0.9"/>
<path d="M186.70,88.10H190.20V91.00H191.95V92.75H193.70V94.50H194.55V96.25H195.40V98.00H195.60V99.97H195.80V101.93H196.00V103.90H197.20V105.65H198.40V107.40H199.55V109.40H200.70V111.40H203.60V113.80H203.90V115.85H204.20V117.90H204.60V120.23H205.00V122.57H205.40V124.90H205.95V126.95H206.50V129.00H208.90V129.50H209.07V131.47H209.23V133.43H209.40V135.40H209.70V137.72H210.00V140.05H210.30V142.38H210.60V144.70H211.00V146.87H211.40V149.03H211.80V151.20H214.10V151.70H214.32V153.95H214.53V156.20H214.75V158.45H214.97V160.70H215.18V162.95H215.40V165.20H219.10V166.00H219.80V168.55H220.50V171.10H220.77V173.53H221.03V175.97H221.30V178.40H221.48V180.75H221.65V183.10H221.82V185.45H222.00V187.80H228.60V188.60H228.83V190.77H229.07V192.93H229.30V195.10H237.30V195.90L237.30,215.60L257.80,215.60" fill="none" stroke="#5BB6CC" stroke-width="1.3" stroke-linejoin="miter"/>
<path d="M218.10,165.50H221.50M219.80,163.00V166.70M222.50,188.10H225.90M224.20,185.60V189.30M230.50,195.00H233.90M232.20,192.50V196.20M232.50,195.00H235.90M234.20,192.50V196.20M233.90,195.00H237.30M235.60,192.50V196.20M235.60,195.00H239.00M237.30,192.50V196.20M256.10,215.10H259.50M257.80,212.60V216.30M188.35,90.37H191.75M190.05,87.87V91.57M191.82,93.82H195.22M193.52,91.32V95.02M192.10,94.20H195.50M193.80,91.70V95.40M193.73,97.75H197.13M195.43,95.25V98.95M194.25,102.91H197.65M195.95,100.41V104.11M196.07,105.98H199.47M197.77,103.48V107.18M198.24,109.58H201.64M199.94,107.08V110.78M199.89,111.64H203.29M201.59,109.14V112.84M202.26,115.78H205.66M203.96,113.28V116.98M202.86,119.52H206.26M204.56,117.02V120.72M203.45,122.93H206.85M205.15,120.43V124.13M203.87,125.05H207.27M205.57,122.55V126.25M207.31,130.27H210.71M209.01,127.77V131.47M207.55,133.11H210.95M209.25,130.61V134.31M207.99,137.14H211.39M209.69,134.64V138.34M208.50,141.08H211.90M210.20,138.58V142.28M208.88,144.04H212.28M210.58,141.54V145.24M209.23,145.97H212.63M210.93,143.47V147.17M209.77,148.90H213.17M211.47,146.40V150.10" fill="none" stroke="#5BB6CC" stroke-width="0.9"/>
<path d="M186.50,88.30H187.30V88.90H189.00V92.20H189.60V94.50H190.20V96.80H190.57V99.17H190.93V101.53H191.30V103.90H191.90V106.40H192.50V108.90H193.10V111.40H193.67V113.93H194.23V116.47H194.80V119.00H195.40V120.97H196.00V122.93H196.60V124.90H197.20V127.23H197.80V129.57H198.40V131.90H198.97V134.23H199.53V136.57H200.10V138.90H200.70V140.83H201.30V142.77H201.90V144.70H202.27V147.03H202.63V149.37H203.00V151.70H203.20V153.67H203.40V155.63H203.60V157.60H205.20V160.80H205.57V163.00H205.95V165.20H206.32V167.40H206.70V169.60H207.05V171.80H207.40V174.00H208.10V176.20L212.50,176.20H213.25V178.35H214.00V180.50H214.70V182.35H215.40V184.20H215.80V186.63H216.20V189.07H216.60V191.50H216.93V193.70H217.27V195.90H217.60V198.10L251.20,198.10H251.24V200.20H251.29V202.30H251.33V204.40H251.38V206.50H251.42V208.60H251.47V210.70H251.51V212.80H251.56V214.90H251.60V217.00L282.60,217.00L282.60,255.40" fill="none" stroke="#DC4A35" stroke-width="1.3" stroke-linejoin="miter"/>
<path d="M223.20,197.60H226.60M224.90,195.10V198.80M226.60,197.60H230.00M228.30,195.10V198.80M242.90,197.60H246.30M244.60,195.10V198.80M248.00,197.60H251.40M249.70,195.10V198.80M257.50,216.50H260.90M259.20,214.00V217.70M186.00,89.19H189.40M187.70,86.69V90.39M187.95,94.20H191.35M189.65,91.70V95.40M188.70,97.61H192.10M190.40,95.11V98.81M189.38,101.99H192.78M191.08,99.49V103.19M190.16,105.75H193.56M191.86,103.25V106.95M190.56,107.40H193.96M192.26,104.90V108.60M191.41,110.95H194.81M193.11,108.45V112.15M192.96,117.88H196.36M194.66,115.38V119.08M193.33,119.27H196.73M195.03,116.77V120.47M194.21,122.14H197.61M195.91,119.64V123.34M195.80,127.88H199.20M197.50,125.38V129.08M196.22,129.55H199.62M197.92,127.05V130.75M197.41,134.33H200.81M199.11,131.83V135.53M197.95,136.57H201.35M199.65,134.07V137.77M198.98,140.25H202.38M200.68,137.75V141.45M199.44,141.74H202.84M201.14,139.24V142.94M200.55,146.42H203.95M202.25,143.92V147.62M201.23,150.74H204.63M202.93,148.24V151.94M201.46,152.74H204.86M203.16,150.24V153.94M201.82,156.34H205.22M203.52,153.84V157.54M202.97,159.25H206.37M204.67,156.75V160.45M203.53,160.49H206.93M205.23,157.99V161.69M204.38,165.46H207.78M206.08,162.96V166.66M204.80,167.90H208.20M206.50,165.40V169.10M205.21,170.43H208.61M206.91,167.93V171.63M206.54,175.70H209.94M208.24,173.20V176.90M212.10,179.42H215.50M213.80,176.92V180.62M212.96,181.75H216.36M214.66,179.25V182.95M214.13,186.32H217.53M215.83,183.82V187.52M214.83,190.56H218.23M216.53,188.06V191.76M215.26,193.36H218.66M216.96,190.86V194.56M215.86,197.34H219.26M217.56,194.84V198.54" fill="none" stroke="#DC4A35" stroke-width="0.9"/>
<path d="M375.30,88.70H378.20V88.10H380.50V91.00H381.10V93.35H381.70V95.70H382.55V98.05H383.40V100.40H384.00V102.70H384.60V105.00H385.50V106.75H386.40V108.50H386.95V110.55H387.50V112.60L392.20,112.60H392.40V114.73H392.60V116.87H392.80V119.00H393.00V121.33H393.20V123.67H393.40V126.00H393.67V128.05H393.95V130.10H394.23V132.15H394.50V134.20H396.90V135.40H397.02V137.72H397.15V140.05H397.27V142.38H397.40V144.70H397.80V147.03H398.20V149.37H398.60V151.70H399.20V154.03H399.80V156.37H400.40V158.70H400.77V161.07H401.13V163.43H401.50V165.80H403.90V166.30H404.20V168.65H404.50V171.00H408.00V171.60H408.12V173.80H408.25V176.00H408.38V178.20H408.50V180.40H408.75V182.78H409.00V185.15H409.25V187.53H409.50V189.90L417.10,189.90L417.10,203.20L515.80,203.20" fill="none" stroke="#5BB6CC" stroke-width="1.3" stroke-linejoin="miter"/>
<path d="M409.70,189.40H413.10M411.40,186.90V190.60M423.90,202.70H427.30M425.60,200.20V203.90M443.80,202.70H447.20M445.50,200.20V203.90M465.70,202.70H469.10M467.40,200.20V203.90M513.10,202.70H516.50M514.80,200.20V203.90M374.28,88.06H377.68M375.98,85.56V89.26M376.74,87.90H380.14M378.44,85.40V89.10M379.28,92.36H382.68M380.98,89.86V93.56M380.26,95.93H383.66M381.96,93.43V97.13M381.78,100.21H385.18M383.48,97.71V101.41M383.62,105.91H387.02M385.32,103.41V107.11M385.71,111.76H389.11M387.41,109.26V112.96M389.56,112.10H392.96M391.26,109.60V113.30M390.73,114.55H394.13M392.43,112.05V115.75M390.87,116.01H394.27M392.57,113.51V117.21M391.26,120.38H394.66M392.96,117.88V121.58M391.48,122.97H394.88M393.18,120.47V124.17M391.76,125.97H395.16M393.46,123.47V127.17M392.11,128.52H395.51M393.81,126.02V129.72M392.51,131.55H395.91M394.21,129.05V132.75M395.35,137.78H398.75M397.05,135.28V138.98M395.50,140.57H398.90M397.20,138.07V141.77M395.67,143.60H399.07M397.37,141.10V144.80M396.18,147.00H399.58M397.88,144.50V148.20M396.42,148.38H399.82M398.12,145.88V149.58M397.18,152.28H400.58M398.88,149.78V153.48M398.36,156.89H401.76M400.06,154.39V158.09M399.10,160.80H402.50M400.80,158.30V162.00M399.72,164.78H403.12M401.42,162.28V165.98M402.73,169.94H406.13M404.43,167.44V171.14M403.10,170.55H406.50M404.80,168.05V171.75M406.40,172.88H409.80M408.10,170.38V174.08M406.58,176.00H409.98M408.28,173.50V177.20M406.72,178.45H410.12M408.42,175.95V179.65" fill="none" stroke="#5BB6CC" stroke-width="0.9"/>
<path d="M374.70,89.30L375.30,89.30H375.87V91.80H376.43V94.30H377.00V96.80H377.90V98.85H378.80V100.90H379.14V103.12H379.48V105.34H379.82V107.56H380.16V109.78H380.50V112.00H380.90V113.97H381.30V115.93H381.70V117.90H382.27V119.83H382.83V121.77H383.40V123.70H383.80V125.63H384.20V127.57H384.60V129.50H385.20V131.47H385.80V133.43H386.40V135.40H386.97V137.73H387.53V140.07H388.10V142.40H388.70V144.33H389.30V146.27H389.90V148.20H390.27V150.17H390.63V152.13H391.00V154.10H391.20V156.43H391.40V158.77H391.60V161.10H393.40V161.70H394.50V163.40H395.10V164.60L399.20,164.60H399.50V166.95H399.80V169.30H400.65V171.60H401.50V173.90H402.80V174.50H403.13V176.73H403.47V178.97H403.80V181.20L439.90,181.20L439.90,206.10L471.20,206.10L471.20,255.40" fill="none" stroke="#DC4A35" stroke-width="1.3" stroke-linejoin="miter"/>
<path d="M411.60,180.70H415.00M413.30,178.20V181.90M414.40,180.70H417.80M416.10,178.20V181.90M421.10,180.70H424.50M422.80,178.20V181.90M425.80,180.70H429.20M427.50,178.20V181.90M445.70,205.60H449.10M447.40,203.10V206.80M374.13,91.14H377.53M375.83,88.64V92.34M375.08,95.33H378.48M376.78,92.83V96.53M376.73,99.56H380.13M378.43,97.06V100.76M377.50,103.02H380.90M379.20,100.52V104.22M377.84,105.23H381.24M379.54,102.73V106.43M378.34,108.51H381.74M380.04,106.01V109.71M378.39,108.81H381.79M380.09,106.31V110.01M379.08,112.87H382.48M380.78,110.37V114.07M379.97,117.23H383.37M381.67,114.73V118.43M380.55,119.28H383.95M382.25,116.78V120.48M381.62,122.91H385.02M383.32,120.41V124.11M381.77,123.53H385.17M383.47,121.03V124.73M382.58,127.46H385.98M384.28,124.96V128.66M383.12,129.73H386.52M384.82,127.23V130.93M384.29,133.55H387.69M385.99,131.05V134.75M385.19,136.91H388.59M386.89,134.41V138.11M385.56,138.45H388.96M387.26,135.95V139.65M386.60,142.53H390.00M388.30,140.03V143.73M387.55,145.61H390.95M389.25,143.11V146.81M388.70,150.40H392.10M390.40,147.90V151.60M389.17,152.91H392.57M390.87,150.41V154.11M389.35,154.16H392.75M391.05,151.66V155.36M389.84,159.89H393.24M391.54,157.39V161.09M393.97,164.10H397.37M395.67,161.60V165.30M397.87,167.00H401.27M399.57,164.50V168.20M398.32,169.38H401.72M400.02,166.88V170.58" fill="none" stroke="#DC4A35" stroke-width="0.9"/>
<path d="M533.30,89.30H533.85V91.30H534.40V93.30H537.90V95.70H538.80V98.05H539.70V100.40H540.85V102.70H542.00V105.00H544.40V107.40H544.77V109.33H545.13V111.27H545.50V113.20H546.70V114.95H547.90V116.70H549.35V118.45H550.80V120.20H551.07V122.25H551.35V124.30H551.62V126.35H551.90V128.40L556.00,128.40H556.20V130.73H556.40V133.07H556.60V135.40H557.00V137.33H557.40V139.27H557.80V141.20H560.10V142.40H560.50V144.33H560.90V146.27H561.30V148.20H562.07V150.53H562.83V152.87H563.60V155.20H563.80V157.25H564.00V159.30H564.20V161.35H564.40V163.40H564.60V165.45H564.80V167.50L567.10,167.50H567.25V169.87H567.40V172.23H567.55V174.60H567.70V176.97H567.85V179.33H568.00V181.70L577.20,181.70H577.53V184.13H577.87V186.57H578.20V189.00L583.10,189.00H583.27V191.38H583.45V193.75H583.62V196.12H583.80V198.50L594.00,198.50H594.07V200.54H594.14V202.59H594.21V204.63H594.29V206.67H594.36V208.71H594.43V210.76H594.50V212.80L629.80,212.80" fill="none" stroke="#5BB6CC" stroke-width="1.3" stroke-linejoin="miter"/>
<path d="M569.00,181.20H572.40M570.70,178.70V182.40M574.10,181.20H577.50M575.80,178.70V182.40M579.90,188.50H583.30M581.60,186.00V189.70M585.70,198.00H589.10M587.40,195.50V199.20M590.90,198.00H594.30M592.60,195.50V199.20M601.80,212.30H605.20M603.50,209.80V213.50M608.10,212.30H611.50M609.80,209.80V213.50M627.60,212.30H631.00M629.30,209.80V213.50M532.47,91.97H535.87M534.17,89.47V93.17M535.58,94.77H538.98M537.28,92.27V95.97M537.07,97.48H540.47M538.77,94.98V98.68M538.60,101.10H542.00M540.30,98.60V102.30M540.30,104.50H543.70M542.00,102.00V105.70M543.06,108.82H546.46M544.76,106.32V110.02M543.51,111.16H546.91M545.21,108.66V112.36M545.62,115.36H549.02M547.32,112.86V116.56M547.28,117.51H550.68M548.98,115.01V118.71M549.38,121.81H552.78M551.08,119.31V123.01M549.57,123.18H552.97M551.27,120.68V124.38M550.13,127.36H553.53M551.83,124.86V128.56M553.19,127.90H556.59M554.89,125.40V129.10M554.42,129.35H557.82M556.12,126.85V130.55M554.76,133.28H558.16M556.46,130.78V134.48M555.31,136.88H558.71M557.01,134.38V138.08M555.62,138.36H559.02M557.32,135.86V139.56M558.73,143.51H562.13M560.43,141.01V144.71M559.48,147.13H562.88M561.18,144.63V148.33M559.91,148.63H563.31M561.61,146.13V149.83M561.67,154.01H565.07M563.37,151.51V155.21M562.11,156.81H565.51M563.81,154.31V158.01M562.45,160.37H565.85M564.15,157.87V161.57M562.60,161.88H566.00M564.30,159.38V163.08M562.83,164.21H566.23M564.53,161.71V165.41" fill="none" stroke="#5BB6CC" stroke-width="0.9"/>
<path d="M532.80,89.30L534.40,89.30H534.60V91.43H534.80V93.57H535.00V95.70H535.40V97.63H535.80V99.57H536.20V101.50H536.40V103.83H536.60V106.17H536.80V108.50H537.37V110.83H537.93V113.17H538.50V115.50H539.40V117.85H540.30V120.20H540.67V122.53H541.03V124.87H541.40V127.20H541.80V129.17H542.20V131.13H542.60V133.10H543.50V135.40H544.40V137.70H544.67V139.75H544.95V141.80H545.23V143.85H545.50V145.90H545.90V147.83H546.30V149.77H546.70V151.70H547.27V154.03H547.83V156.37H548.40V158.70H549.00V161.07H549.60V163.43H550.20V165.80H550.77V168.13H551.33V170.47H551.90V172.80H552.20V175.03H552.50V177.25H552.80V179.47H553.10V181.70H553.48V183.88H553.85V186.05H554.23V188.22H554.60V190.40H555.10V192.37H555.60V194.33H556.10V196.30H556.33V198.73H556.57V201.17H556.80V203.60L561.20,203.60H561.43V205.53H561.67V207.47H561.90V209.40H562.40V211.37H562.90V213.33H563.40V215.30H563.63V217.23H563.87V219.17H564.10V221.10L579.40,221.10L579.40,229.90L583.50,229.90L583.50,238.10L596.90,238.10" fill="none" stroke="#DC4A35" stroke-width="1.3" stroke-linejoin="miter"/>
<path d="M572.90,220.60H576.30M574.60,218.10V221.80M588.70,237.60H592.10M590.40,235.10V238.80M594.50,237.60H597.90M596.20,235.10V238.80M532.80,89.84H536.20M534.50,87.34V91.04M533.05,92.48H536.45M534.75,89.98V93.68M533.69,97.09H537.09M535.39,94.59V98.29M533.94,98.31H537.34M535.64,95.81V99.51M534.66,102.88H538.06M536.36,100.38V104.08M534.91,105.78H538.31M536.61,103.28V106.98M535.15,108.20H538.55M536.85,105.70V109.40M536.38,113.28H539.78M538.08,110.78V114.48M536.87,115.18H540.27M538.57,112.68V116.38M538.84,121.22H542.24M540.54,118.72V122.42M539.19,123.44H542.59M540.89,120.94V124.64M539.75,126.97H543.15M541.45,124.47V128.17M540.55,130.90H543.95M542.25,128.40V132.10M542.39,136.40H545.79M544.09,133.90V137.60M542.75,137.54H546.15M544.45,135.04V138.74M543.15,140.54H546.55M544.85,138.04V141.74M543.66,144.38H547.06M545.36,141.88V145.58M544.37,148.15H547.77M546.07,145.65V149.35M544.75,149.97H548.15M546.45,147.47V151.17M545.34,152.59H548.74M547.04,150.09V153.79M546.68,158.12H550.08M548.38,155.62V159.32M546.74,158.37H550.14M548.44,155.87V159.57M548.37,164.80H551.77M550.07,162.30V166.00M548.75,166.31H552.15M550.45,163.81V167.51M549.47,169.30H552.87M551.17,166.80V170.50M550.25,172.65H553.65M551.95,170.15V173.85M550.72,176.18H554.12M552.42,173.68V177.38M551.33,180.65H554.73M553.03,178.15V181.85M551.49,181.72H554.89M553.19,179.22V182.92M552.19,185.79H555.59M553.89,183.29V186.99M552.72,188.85H556.12M554.42,186.35V190.05M553.18,191.00H556.58M554.88,188.50V192.20M554.06,194.47H557.46M555.76,191.97V195.67M554.42,196.03H557.82M556.12,193.53V197.23M554.77,199.67H558.17M556.47,197.17V200.87M556.01,203.10H559.41M557.71,200.60V204.30M559.74,205.07H563.14M561.44,202.57V206.27M560.00,207.24H563.40M561.70,204.74V208.44M560.44,209.83H563.84M562.14,207.33V211.03M561.39,213.58H564.79M563.09,211.08V214.78M561.86,216.11H565.26M563.56,213.61V217.31M562.15,218.57H565.55M563.85,216.07V219.77" fill="none" stroke="#DC4A35" stroke-width="0.9"/>
<path d="M31.70,368.50H32.55V370.25H33.40V372.00H37.50V374.30H38.40V376.65H39.30V379.00H40.45V381.35H41.60V383.70H42.50V386.05H43.40V388.40H44.25V390.70H45.10V393.00H48.60V395.40H49.00V397.73H49.40V400.07H49.80V402.40H50.35V404.45H50.90V406.50H53.30V407.00H53.85V409.35H54.40V411.70H54.76V413.80H55.12V415.90H55.48V418.00H55.84V420.10H56.20V422.20H57.90V424.60H58.70V426.53H59.50V428.47H60.30V430.40H60.70V432.73H61.10V435.07H61.50V437.40H62.35V439.15H63.20V440.90H63.60V442.87H64.00V444.83H64.40V446.80H65.50V449.10H65.70V451.30H65.90V453.50H66.10V455.70H66.30V457.90H66.50V460.10H66.70V462.30H73.70V463.30H74.20V465.65H74.70V468.00H75.65V470.20H76.60V472.40L82.30,472.40L82.60,479.40L92.10,479.40H92.25V481.77H92.40V484.15H92.55V486.52H92.70V488.90L172.40,488.90" fill="none" stroke="#5BB6CC" stroke-width="1.3" stroke-linejoin="miter"/>
<path d="M66.30,461.80H69.70M68.00,459.30V463.00M73.00,466.50H76.40M74.70,464.00V467.70M78.70,471.90H82.10M80.40,469.40V473.10M84.40,478.90H87.80M86.10,476.40V480.10M88.20,478.90H91.60M89.90,476.40V480.10M100.50,488.40H103.90M102.20,485.90V489.60M121.40,488.40H124.80M123.10,485.90V489.60M126.10,488.40H129.50M127.80,485.90V489.60M169.80,488.40H173.20M171.50,485.90V489.60M30.39,368.79H33.79M32.09,366.29V369.99M35.65,373.71H39.05M37.35,371.21V374.91M36.03,374.39H39.43M37.73,371.89V375.59M39.22,381.81H42.62M40.92,379.31V383.01M40.05,383.60H43.45M41.75,381.10V384.80M42.12,389.04H45.52M43.82,386.54V390.24M46.90,394.90H50.30M48.60,392.40V396.10M47.03,395.63H50.43M48.73,393.13V396.83M47.89,400.65H51.29M49.59,398.15V401.85M48.61,403.78H52.01M50.31,401.28V404.98M52.10,408.63H55.50M53.80,406.13V409.83M53.00,412.93H56.40M54.70,410.43V414.13M53.42,415.37H56.82M55.12,412.87V416.57M54.40,421.11H57.80M56.10,418.61V422.31M54.65,421.91H58.05M56.35,419.41V423.11M56.48,424.78H59.88M58.18,422.28V425.98M57.42,427.06H60.82M59.12,424.56V428.26M58.76,430.83H62.16M60.46,428.33V432.03M59.44,434.83H62.84M61.14,432.33V436.03M61.33,440.06H64.73M63.03,437.56V441.26M61.73,441.52H65.13M63.43,439.02V442.72M62.17,443.69H65.57M63.87,441.19V444.89M63.88,449.45H67.28M65.58,446.95V450.65M64.40,455.17H67.80M66.10,452.67V456.37M64.42,455.41H67.82M66.12,452.91V456.61M64.89,460.55H68.29M66.59,458.05V461.75" fill="none" stroke="#5BB6CC" stroke-width="0.9"/>
<path d="M31.50,369.50L32.30,369.50H32.85V371.90H33.40V374.30H33.85V376.35H34.30V378.40H34.75V380.45H35.20V382.50H35.77V384.83H36.33V387.17H36.90V389.50H37.50V391.83H38.10V394.17H38.70V396.50H39.27V398.83H39.83V401.17H40.40V403.50H41.00V405.47H41.60V407.43H42.20V409.40H42.77V411.73H43.33V414.07H43.90V416.40H44.50V418.73H45.10V421.07H45.70V423.40H46.27V425.33H46.83V427.27H47.40V429.20H48.00V431.17H48.60V433.13H49.20V435.10H49.77V437.43H50.33V439.77H50.90V442.10H51.30V444.03H51.70V445.97H52.10V447.90H53.25V449.65H54.40V451.40H55.00V453.37H55.60V455.33H56.20V457.30H57.35V459.35H58.50V461.40H59.13V463.30H59.77V465.20H60.40V467.10H60.90V469.45H61.40V471.80H61.85V474.00H62.30V476.20L80.40,476.20H80.85V478.30H81.30V480.40H81.80V482.30H82.30V484.20L95.50,484.20H95.55V486.29H95.60V488.38H95.65V490.46H95.70V492.55H95.75V494.64H95.80V496.72H95.85V498.81H95.90V500.90L127.40,500.90L127.40,535.40" fill="none" stroke="#DC4A35" stroke-width="1.3" stroke-linejoin="miter"/>
<path d="M68.20,475.70H71.60M69.90,473.20V476.90M71.10,475.70H74.50M72.80,473.20V476.90M76.80,475.70H80.20M78.50,473.20V476.90M86.30,483.70H89.70M88.00,481.20V484.90M91.90,483.70H95.30M93.60,481.20V484.90M102.80,500.40H106.20M104.50,497.90V501.60M31.11,371.22H34.51M32.81,368.72V372.42M31.92,374.82H35.32M33.62,372.32V376.02M32.38,376.91H35.78M34.08,374.41V378.11M33.42,381.64H36.82M35.12,379.14V382.84M33.51,382.02H36.91M35.21,379.52V383.22M34.78,387.26H38.18M36.48,384.76V388.46M36.01,392.14H39.41M37.71,389.64V393.34M36.17,392.78H39.57M37.87,390.28V393.98M37.47,397.94H40.87M39.17,395.44V399.14M38.37,401.66H41.77M40.07,399.16V402.86M38.74,403.12H42.14M40.44,400.62V404.32M39.94,407.07H43.34M41.64,404.57V408.27M41.10,411.36H44.50M42.80,408.86V412.56M41.73,413.98H45.13M43.43,411.48V415.18M42.85,418.44H46.25M44.55,415.94V419.64M43.24,419.95H46.64M44.94,417.45V421.15M44.20,423.59H47.60M45.90,421.09V424.79M44.94,426.12H48.34M46.64,423.62V427.32M46.16,430.19H49.56M47.86,427.69V431.39M47.43,434.38H50.83M49.13,431.88V435.58M48.00,436.67H51.40M49.70,434.17V437.87M49.01,440.81H52.41M50.71,438.31V442.01M49.43,442.71H52.83M51.13,440.21V443.91M50.25,446.66H53.65M51.95,444.16V447.86M50.63,447.76H54.03M52.33,445.26V448.96M52.96,451.76H56.36M54.66,449.26V452.96M54.21,455.84H57.61M55.91,453.34V457.04M56.17,459.78H59.57M57.87,457.28V460.98M57.20,462.10H60.60M58.90,459.60V463.30M57.83,464.00H61.23M59.53,461.50V465.20M58.97,467.85H62.37M60.67,465.35V469.05M59.89,472.22H63.29M61.59,469.72V473.42" fill="none" stroke="#DC4A35" stroke-width="0.9"/>
<path d="M190.00,368.60L193.70,368.60H194.60V377.80H195.50V386.90H196.40V394.20H197.30V401.50L207.40,401.50L207.70,425.20H208.30V447.10L212.80,447.10H213.20V469.00L266.70,469.00" fill="none" stroke="#5BB6CC" stroke-width="1.3" stroke-linejoin="miter"/>
<path d="M191.10,368.10H194.50M192.80,365.60V369.30M196.50,401.00H199.90M198.20,398.50V402.20M199.30,401.00H202.70M201.00,398.50V402.20M201.80,401.00H205.20M203.50,398.50V402.20M204.30,401.00H207.70M206.00,398.50V402.20M212.10,468.50H215.50M213.80,466.00V469.70M264.10,468.50H267.50M265.80,466.00V469.70" fill="none" stroke="#5BB6CC" stroke-width="0.9"/>
<path d="M189.40,369.50L190.00,369.60H190.90V381.40H191.90V392.40H192.80V403.30H194.60V404.20H195.50V419.70H197.30V430.70H199.20V448.90H201.50V449.90H202.80V459.90H203.70V470.80H205.50V472.70H206.50V483.60H208.30V490.90H210.10V491.80H210.70V501.00L235.70,501.00L235.70,535.60" fill="none" stroke="#DC4A35" stroke-width="1.3" stroke-linejoin="miter"/>
<path d="M213.00,500.50H216.40M214.70,498.00V501.70M214.80,500.50H218.20M216.50,498.00V501.70M216.30,500.50H219.70M218.00,498.00V501.70M206.60,490.40H210.00M208.30,487.90V491.60M195.60,430.20H199.00M197.30,427.70V431.40M192.90,403.70H196.30M194.60,401.20V404.90M191.10,402.80H194.50M192.80,400.30V404.00" fill="none" stroke="#DC4A35" stroke-width="0.9"/>
<path d="M378.70,367.30H379.00V369.65H379.30V372.00H383.30V373.20H383.90V374.95H384.50V376.70H385.40V379.05H386.30V381.40H387.15V383.40H388.00V385.40H390.40V388.40H390.95V390.70H391.50V393.00H392.40V394.75H393.30V396.50H394.45V398.25H395.60V400.00H396.20V401.75H396.80V403.50L400.30,403.50H400.50V405.47H400.70V407.43H400.90V409.40H401.07V411.53H401.23V413.67H401.40V415.80L412.50,415.80H412.59V417.89H412.67V419.97H412.76V422.06H412.84V424.14H412.93V426.23H413.01V428.31H413.10V430.40H413.20V432.53H413.30V434.67H413.40V436.80H413.50V438.93H413.60V441.07H413.70V443.20L423.10,443.20H423.18V445.47H423.27V447.73H423.35V450.00H423.43V452.27H423.52V454.53H423.60V456.80L439.70,456.80L439.70,483.10H476.20V482.80" fill="none" stroke="#5BB6CC" stroke-width="1.3" stroke-linejoin="miter"/>
<path d="M402.70,415.30H406.10M404.40,412.80V416.50M407.30,415.30H410.70M409.00,412.80V416.50M410.30,415.30H413.70M412.00,412.80V416.50M426.30,456.30H429.70M428.00,453.80V457.50M427.80,456.30H431.20M429.50,453.80V457.50M468.70,482.30H472.10M470.40,479.80V483.50M473.00,482.30H476.40M474.70,479.80V483.50M377.28,369.03H380.68M378.98,366.53V370.23M380.23,372.29H383.63M381.93,369.79V373.49M382.40,375.03H385.80M384.10,372.53V376.23M383.06,376.87H386.46M384.76,374.37V378.07M384.62,380.94H388.02M386.32,378.44V382.14M387.20,386.02H390.60M388.90,383.52V387.22M389.00,389.16H392.40M390.70,386.66V390.36M391.26,395.34H394.66M392.96,392.84V396.54M393.19,398.42H396.59M394.89,395.92V399.62M394.62,401.61H398.02M396.32,399.11V402.81M397.05,403.00H400.45M398.75,400.50V404.20" fill="none" stroke="#5BB6CC" stroke-width="0.9"/>
<path d="M378.50,369.70H379.30V367.90H381.00V369.70H381.90V372.00H382.80V374.30H383.65V376.65H384.50V379.00H384.90V380.97H385.30V382.93H385.70V384.90H386.27V387.03H386.83V389.17H387.40V391.30H389.20V391.90L389.20,400.00H389.40V402.33H389.60V404.67H389.80V407.00H391.50V409.40H391.80V411.15H392.10V412.90L394.40,412.90H394.60V415.23H394.80V417.57H395.00V419.90H395.20V421.83H395.40V423.77H395.60V425.70H395.90V427.75H396.20V429.80H396.50V431.85H396.80V433.90H397.17V436.03H397.53V438.17H397.90V440.30L402.60,440.30H402.72V442.30H402.84V444.30H402.96V446.30H403.08V448.30H403.20V450.30H404.90V450.80H405.00V452.93H405.10V455.05H405.20V457.18H405.30V459.30L451.10,459.30" fill="none" stroke="#DC4A35" stroke-width="1.3" stroke-linejoin="miter"/>
<path d="M407.90,458.80H411.30M409.60,456.30V460.00M414.90,458.80H418.30M416.60,456.30V460.00M417.80,458.80H421.20M419.50,456.30V460.00M419.00,458.80H422.40M420.70,456.30V460.00M424.90,458.80H428.30M426.60,456.30V460.00M449.40,458.80H452.80M451.10,456.30V460.00M399.70,439.80H403.10M401.40,437.30V441.00M393.90,425.20H397.30M395.60,422.70V426.40M389.20,406.50H392.60M390.90,404.00V407.70M379.77,370.39H383.17M381.47,367.89V371.59M382.26,377.02H385.66M383.96,374.52V378.22M383.21,380.52H386.61M384.91,378.02V381.72M383.91,383.96H387.31M385.61,381.46V385.16M384.16,384.99H387.56M385.86,382.49V386.19M385.05,388.34H388.45M386.75,385.84V389.54M387.50,391.80H390.90M389.20,389.30V393.00M387.50,394.71H390.90M389.20,392.21V395.91M387.50,398.78H390.90M389.20,396.28V399.98M387.54,399.96H390.94M389.24,397.46V401.16M387.96,404.86H391.36M389.66,402.36V406.06M388.46,407.01H391.86M390.16,404.51V408.21M389.98,409.93H393.38M391.68,407.43V411.13" fill="none" stroke="#DC4A35" stroke-width="0.9"/>
<path d="M536.70,369.10H539.00V370.80H540.45V372.55H541.90V374.30H542.30V376.27H542.70V378.23H543.10V380.20H545.40V382.50H546.30V384.25H547.20V386.00H548.05V387.75H548.90V389.50H549.80V391.25H550.70V393.00H553.60V393.60H553.90V396.25H554.20V398.90H554.40V400.83H554.60V402.77H554.80V404.70H555.07V406.90H555.35V409.10H555.62V411.30H555.90V413.50H558.90V414.10H559.12V416.20H559.34V418.30H559.56V420.40H559.78V422.50H560.00V424.60H560.30V426.93H560.60V429.25H560.90V431.57H561.20V433.90H563.50V435.10H563.80V437.43H564.10V439.75H564.40V442.07H564.70V444.40H565.10V446.37H565.50V448.33H565.90V450.30H566.35V453.05H566.80V455.80H567.27V458.23H567.73V460.67H568.20V463.10H568.47V465.07H568.73V467.03H569.00V469.00H569.47V471.43H569.93V473.87H570.40V476.30H577.70V477.00H578.10V479.20H578.50V481.40H587.20V482.10H587.37V484.67H587.53V487.23H587.70V489.80L677.60,489.80" fill="none" stroke="#5BB6CC" stroke-width="1.3" stroke-linejoin="miter"/>
<path d="M572.40,476.10H575.80M574.10,473.60V477.30M578.20,481.10H581.60M579.90,478.60V482.30M589.90,489.30H593.30M591.60,486.80V490.50M595.00,489.30H598.40M596.70,486.80V490.50M606.00,489.30H609.40M607.70,486.80V490.50M611.10,489.30H614.50M612.80,486.80V490.50M675.30,489.30H678.70M677.00,486.80V490.50M535.25,368.78H538.65M536.95,366.28V369.98M539.34,372.76H542.74M541.04,370.26V373.96M540.59,375.72H543.99M542.29,373.22V376.92M541.36,379.52H544.76M543.06,377.02V380.72M542.02,380.32H545.42M543.72,377.82V381.52M544.16,382.90H547.56M545.86,380.40V384.10M546.75,388.07H550.15M548.45,385.57V389.27M548.39,391.30H551.79M550.09,388.80V392.50M549.88,392.68H553.28M551.58,390.18V393.88M552.31,396.73H555.71M554.01,394.23V397.93M552.62,399.55H556.02M554.32,397.05V400.75M553.03,403.55H556.43M554.73,401.05V404.75M553.14,404.55H556.54M554.84,402.05V405.75M553.55,407.79H556.95M555.25,405.29V408.99M554.16,412.71H557.56M555.86,410.21V413.91M555.27,413.21H558.67M556.97,410.71V414.41M557.30,414.51H560.70M559.00,412.01V415.71M557.86,419.91H561.26M559.56,417.41V421.11M558.16,422.81H561.56M559.86,420.31V424.01M558.36,424.56H561.76M560.06,422.06V425.76M558.92,428.91H562.32M560.62,426.41V430.11M559.37,432.36H562.77M561.07,429.86V433.56M561.87,435.11H565.27M563.57,432.61V436.31M562.46,439.72H565.86M564.16,437.22V440.92M562.65,441.18H566.05M564.35,438.68V442.38M563.20,444.89H566.60M564.90,442.39V446.09M563.65,447.10H567.05M565.35,444.60V448.30M564.29,450.36H567.69M565.99,447.86V451.56M565.09,455.24H568.49M566.79,452.74V456.44M565.38,456.77H568.78M567.08,454.27V457.97M566.49,462.57H569.89M568.19,460.07V463.77M566.68,463.89H570.08M568.38,461.39V465.09M567.14,467.34H570.54M568.84,464.84V468.54M567.91,471.68H571.31M569.61,469.18V472.88M568.48,474.66H571.88M570.18,472.16V475.86" fill="none" stroke="#5BB6CC" stroke-width="0.9"/>
<path d="M536.20,369.70H537.30V368.50H537.57V370.82H537.85V373.15H538.12V375.48H538.40V377.80H538.70V379.85H539.00V381.90H539.30V383.95H539.60V386.00H540.20V387.75H540.80V389.50H540.92V391.85H541.05V394.20H541.17V396.55H541.30V398.90H542.20V401.20H543.10V403.50H543.70V405.25H544.30V407.00H544.47V409.37H544.63V411.73H544.80V414.10H545.40V415.85H546.00V417.60H547.20V419.90H548.40V422.20H548.77V424.53H549.13V426.87H549.50V429.20H550.10V431.55H550.70V433.90H551.10V435.83H551.50V437.77H551.90V439.70H552.27V441.67H552.63V443.63H553.00V445.60H553.70V447.80H554.40V450.00H554.95V452.20H555.50V454.40H556.05V456.60H556.60V458.80H557.33V460.73H558.07V462.67H558.80V464.60H559.50V466.80H560.20V469.00H560.90V471.20L564.60,471.20H564.77V473.20H564.95V475.20H565.12V477.20H565.30V479.20H566.05V481.40H566.80V483.60H567.15V486.35H567.50V489.10L582.10,489.10H582.45V491.45H582.80V493.80H587.20V494.50H587.47V496.37H587.73V498.23H588.00V500.10L601.10,500.10L601.40,517.90L632.50,517.90L632.50,535.40" fill="none" stroke="#DC4A35" stroke-width="1.3" stroke-linejoin="miter"/>
<path d="M574.60,488.60H578.00M576.30,486.10V489.80M582.60,493.30H586.00M584.30,490.80V494.50M587.00,499.60H590.40M588.70,497.10V500.80M592.10,499.60H595.50M593.80,497.10V500.80M597.90,499.60H601.30M599.60,497.10V500.80M535.95,370.99H539.35M537.65,368.49V372.19M535.97,371.14H539.37M537.67,368.64V372.34M536.60,376.48H540.00M538.30,373.98V377.68M536.76,377.73H540.16M538.46,375.23V378.93M537.49,382.73H540.89M539.19,380.23V383.93M537.51,382.81H540.91M539.21,380.31V384.01M538.96,388.58H542.36M540.66,386.08V389.78M539.21,391.13H542.61M540.91,388.63V392.33M539.41,394.82H542.81M541.11,392.32V396.02M539.60,398.40H543.00M541.30,395.90V399.60M540.03,399.50H543.43M541.73,397.00V400.70M541.81,404.18H545.21M543.51,401.68V405.38M542.78,409.01H546.18M544.48,406.51V410.21M542.92,411.05H546.32M544.62,408.55V412.25M543.42,414.52H546.82M545.12,412.02V415.72M544.85,418.15H548.25M546.55,415.65V419.35M547.17,424.70H550.57M548.87,422.20V425.90M547.73,428.26H551.13M549.43,425.76V429.46M548.76,432.45H552.16M550.46,429.95V433.65M549.13,434.05H552.53M550.83,431.55V435.25M550.15,438.98H553.55M551.85,436.48V440.18M550.48,440.71H553.88M552.18,438.21V441.91M550.88,442.83H554.28M552.58,440.33V444.03M551.94,447.10H555.34M553.64,444.60V448.30M553.01,450.73H556.41M554.71,448.23V451.93M553.49,452.66H556.89M555.19,450.16V453.86M554.58,457.02H557.98M556.28,454.52V458.22M555.30,459.34H558.70M557.00,456.84V460.54M556.63,462.85H560.03M558.33,460.35V464.05M558.08,467.17H561.48M559.78,464.67V468.37M558.83,469.53H562.23M560.53,467.03V470.73M560.70,470.70H564.10M562.40,468.20V471.90M563.20,474.15H566.60M564.90,471.65V475.35M563.60,478.68H567.00M565.30,476.18V479.88M564.34,480.86H567.74M566.04,478.36V482.06M565.43,485.70H568.83M567.13,483.20V486.90M565.46,485.90H568.86M567.16,483.40V487.10" fill="none" stroke="#DC4A35" stroke-width="0.9"/>
<path d="M213.70,620.30L216.00,620.30H219.50V621.20H219.70V623.40H219.90V625.60H220.10V627.80H221.80V630.20H224.20V633.10H225.90V636.00H226.20V638.35H226.50V640.70H228.30V643.60H230.60V645.90H231.80V648.90H232.00V651.23H232.20V653.57H232.40V655.90H232.95V657.65H233.50V659.40L235.90,659.40H236.27V661.73H236.63V664.07H237.00V666.40H237.20V668.73H237.40V671.07H237.60V673.40H237.80V675.53H238.00V677.67H238.20V679.80H240.50V680.40H241.40V682.75H242.30V685.10H243.50V688.00H244.05V690.05H244.60V692.10H244.80V694.43H245.00V696.77H245.20V699.10H245.67V701.23H246.15V703.35H246.62V705.48H247.10V707.60H247.57V709.88H248.05V712.15H248.53V714.43H249.00V716.70L255.60,716.70H256.10V718.80H256.60V720.90H258.50V722.80H258.95V725.15H259.40V727.50L263.80,727.50H264.03V729.73H264.27V731.97H264.50V734.20L274.60,734.20H274.72V736.36H274.84V738.52H274.96V740.68H275.08V742.84H275.20V745.00L354.30,745.00" fill="none" stroke="#5BB6CC" stroke-width="1.3" stroke-linejoin="miter"/>
<path d="M246.30,707.10H249.70M248.00,704.60V708.30M254.90,720.40H258.30M256.60,717.90V721.60M261.50,727.00H264.90M263.20,724.50V728.20M266.30,733.70H269.70M268.00,731.20V734.90M272.00,733.70H275.40M273.70,731.20V734.90M282.40,744.50H285.80M284.10,742.00V745.70M288.10,744.50H291.50M289.80,742.00V745.70M352.60,744.50H356.00M354.30,742.00V745.70M215.57,620.13H218.97M217.27,617.63V621.33M217.94,622.29H221.34M219.64,619.79V623.49M218.23,625.38H221.63M219.93,622.88V626.58M219.16,628.37H222.56M220.86,625.87V629.57M221.08,630.89H224.48M222.78,628.39V632.09M223.62,634.51H227.02M225.32,632.01V635.71M224.36,636.72H227.76M226.06,634.22V637.92M225.94,642.04H229.34M227.64,639.54V643.24M226.62,643.12H230.02M228.32,640.62V644.32M229.26,646.31H232.66M230.96,643.81V647.51M230.20,649.57H233.60M231.90,647.07V650.77M230.44,652.40H233.84M232.14,649.90V653.60M231.52,658.00H234.92M233.22,655.50V659.20M234.37,659.99H237.77M236.07,657.49V661.19M235.18,665.16H238.58M236.88,662.66V666.36M235.59,669.25H238.99M237.29,666.75V670.45M235.68,670.29H239.08M237.38,667.79V671.49M236.17,675.76H239.57M237.87,673.26V676.96M236.44,678.68H239.84M238.14,676.18V679.88M240.00,683.04H243.40M241.70,680.54V684.24M240.63,684.68H244.03M242.33,682.18V685.88M242.30,689.37H245.70M244.00,686.87V690.57M243.09,693.79H246.49M244.79,691.29V694.99M243.29,696.14H246.69M244.99,693.64V697.34M243.64,699.24H247.04M245.34,696.74V700.44M244.33,702.31H247.73M246.03,699.81V703.51M244.93,705.00H248.33M246.63,702.50V706.20M245.90,709.49H249.30M247.60,706.99V710.69M246.25,711.19H249.65M247.95,708.69V712.39M246.93,714.45H250.33M248.63,711.95V715.65M249.42,716.20H252.82M251.12,713.70V717.40M253.73,716.20H257.13M255.43,713.70V717.40" fill="none" stroke="#5BB6CC" stroke-width="0.9"/>
<path d="M213.40,619.70L214.30,619.70H214.67V621.63H215.03V623.57H215.40V625.50H216.00V627.83H216.60V630.17H217.20V632.50H217.75V634.85H218.30V637.20H218.50V639.53H218.70V641.87H218.90V644.20H219.30V646.13H219.70V648.07H220.10V650.00H220.70V652.35H221.30V654.70H221.47V657.03H221.63V659.37H221.80V661.70H222.70V663.45H223.60V665.20H224.50V666.95H225.40V668.70H225.65V671.05H225.90V673.40H226.50V675.75H227.10V678.10H227.50V680.03H227.90V681.97H228.30V683.90H228.87V685.83H229.43V687.77H230.00V689.70H231.80V692.10H232.35V694.45H232.90V696.80H233.50V699.10H234.10V701.40H234.93V703.47H235.77V705.53H236.60V707.60H238.50V709.50H240.40V711.40H241.03V713.30H241.67V715.20H242.30V717.10H242.63V719.30H242.97V721.50H243.30V723.70H243.75V726.25H244.20V728.80L259.40,728.80H259.60V730.90H259.80V733.00H260.00V735.10L264.20,735.10H264.50V737.63H264.80V740.17H265.10V742.70L278.40,742.70H278.46V744.88H278.52V747.06H278.58V749.24H278.64V751.42H278.70V753.60H278.76V755.78H278.82V757.96H278.88V760.14H278.94V762.32H279.00V764.50L309.70,764.50L309.70,786.40" fill="none" stroke="#DC4A35" stroke-width="1.3" stroke-linejoin="miter"/>
<path d="M250.10,728.30H253.50M251.80,725.80V729.50M253.00,728.30H256.40M254.70,725.80V729.50M268.20,742.20H271.60M269.90,739.70V743.40M274.80,742.20H278.20M276.50,739.70V743.40M212.89,620.71H216.29M214.59,618.21V621.91M213.59,624.44H216.99M215.29,621.94V625.64M214.56,628.36H217.96M216.26,625.86V629.56M214.86,629.51H218.26M216.56,627.01V630.71M216.34,635.60H219.74M218.04,633.10V636.80M216.81,639.16H220.21M218.51,636.66V640.36M217.10,642.51H220.50M218.80,640.01V643.71M217.27,644.02H220.67M218.97,641.52V645.22M217.82,646.68H221.22M219.52,644.18V647.88M218.86,651.31H222.26M220.56,648.81V652.51M219.79,656.81H223.19M221.49,654.31V658.01M219.91,658.58H223.31M221.61,656.08V659.78M221.00,662.96H224.40M222.70,660.46V664.16M222.47,665.81H225.87M224.17,663.31V667.01M224.12,672.18H227.52M225.82,669.68V673.38M225.33,677.34H228.73M227.03,674.84V678.54M225.64,678.76H229.04M227.34,676.26V679.96M226.60,683.40H230.00M228.30,680.90V684.60M226.65,683.58H230.05M228.35,681.08V684.78M228.14,688.66H231.54M229.84,686.16V689.86M229.88,691.30H233.28M231.58,688.80V692.50M230.27,692.31H233.67M231.97,689.81V693.51M232.05,699.55H235.45M233.75,697.05V700.75M233.10,702.63H236.50M234.80,700.13V703.83M234.84,706.96H238.24M236.54,704.46V708.16M235.70,707.90H239.10M237.40,705.40V709.10M239.21,712.44H242.61M240.91,709.94V713.64M240.49,716.26H243.89M242.19,713.76V717.46M240.92,718.71H244.32M242.62,716.21V719.91M241.25,720.92H244.65M242.95,718.42V722.12M241.67,723.62H245.07M243.37,721.12V724.82" fill="none" stroke="#DC4A35" stroke-width="0.9"/>
<path d="M372.30,619.30L383.20,619.30L383.20,652.50L390.50,652.50L390.50,696.90L397.80,696.90L397.80,786.30" fill="none" stroke="#5BB6CC" stroke-width="1.3" stroke-linejoin="miter"/>
<path d="M381.20,618.80H384.60M382.90,616.30V620.00M384.30,652.00H387.70M386.00,649.50V653.20M391.60,696.40H395.00M393.30,693.90V697.60" fill="none" stroke="#5BB6CC" stroke-width="0.9"/>
<path d="M372.10,619.70L372.70,619.70L372.70,630.20L373.80,630.20H374.10V640.30H375.00V651.20L376.30,651.20H376.90V663.10L379.20,663.10H379.60V674.00H380.50V685.00L383.20,685.00H384.20V696.90H385.10V712.40L386.90,712.40H387.80V731.50L391.50,731.50H392.00V758.90L396.90,758.90L396.90,786.30" fill="none" stroke="#DC4A35" stroke-width="1.3" stroke-linejoin="miter"/>
<path d="M372.10,638.90H375.50M373.80,636.40V640.10M380.60,684.50H384.00M382.30,682.00V685.70M382.50,696.40H385.90M384.20,693.90V697.60M385.20,711.90H388.60M386.90,709.40V713.10M389.80,731.00H393.20M391.50,728.50V732.20" fill="none" stroke="#DC4A35" stroke-width="0.9"/>
<line x1="80.60" y1="966.80" x2="220.70" y2="966.80" stroke="#F3F3F3" stroke-width="0.6" />
<line x1="80.60" y1="940.60" x2="220.70" y2="940.60" stroke="#F3F3F3" stroke-width="0.6" />
<line x1="80.60" y1="914.40" x2="220.70" y2="914.40" stroke="#F3F3F3" stroke-width="0.6" />
<line x1="80.60" y1="888.20" x2="220.70" y2="888.20" stroke="#F3F3F3" stroke-width="0.6" />
<line x1="80.60" y1="862.00" x2="220.70" y2="862.00" stroke="#F3F3F3" stroke-width="0.6" />
<line x1="80.60" y1="953.70" x2="220.70" y2="953.70" stroke="#E6E6E6" stroke-width="0.9" />
<line x1="80.60" y1="927.50" x2="220.70" y2="927.50" stroke="#E6E6E6" stroke-width="0.9" />
<line x1="80.60" y1="901.30" x2="220.70" y2="901.30" stroke="#E6E6E6" stroke-width="0.9" />
<line x1="80.60" y1="875.10" x2="220.70" y2="875.10" stroke="#E6E6E6" stroke-width="0.9" />
<line x1="80.60" y1="848.90" x2="220.70" y2="848.90" stroke="#E6E6E6" stroke-width="0.9" />
<line x1="118.60" y1="842.30" x2="118.60" y2="975.10" stroke="#E6E6E6" stroke-width="0.9" />
<line x1="182.60" y1="842.30" x2="182.60" y2="975.10" stroke="#E6E6E6" stroke-width="0.9" />
<line x1="118.60" y1="883.00" x2="118.60" y2="914.50" stroke="#333" stroke-width="0.9" />
<line x1="118.60" y1="936.30" x2="118.60" y2="969.00" stroke="#333" stroke-width="0.9" />
<circle cx="118.80" cy="870.00" r="1.1" fill="#C8C8C8"/>
<path d="M118.52,919.48a1.3,1.3 0 1,0 2.6,0a1.3,1.3 0 1,0 -2.6,0M121.97,915.80a1.3,1.3 0 1,0 2.6,0a1.3,1.3 0 1,0 -2.6,0M113.16,953.25a1.3,1.3 0 1,0 2.6,0a1.3,1.3 0 1,0 -2.6,0M116.07,902.60a1.3,1.3 0 1,0 2.6,0a1.3,1.3 0 1,0 -2.6,0M124.29,920.00a1.3,1.3 0 1,0 2.6,0a1.3,1.3 0 1,0 -2.6,0M113.62,931.55a1.3,1.3 0 1,0 2.6,0a1.3,1.3 0 1,0 -2.6,0M123.03,913.99a1.3,1.3 0 1,0 2.6,0a1.3,1.3 0 1,0 -2.6,0M120.89,945.02a1.3,1.3 0 1,0 2.6,0a1.3,1.3 0 1,0 -2.6,0M124.33,890.14a1.3,1.3 0 1,0 2.6,0a1.3,1.3 0 1,0 -2.6,0M129.38,944.25a1.3,1.3 0 1,0 2.6,0a1.3,1.3 0 1,0 -2.6,0M107.53,940.11a1.3,1.3 0 1,0 2.6,0a1.3,1.3 0 1,0 -2.6,0M129.19,947.20a1.3,1.3 0 1,0 2.6,0a1.3,1.3 0 1,0 -2.6,0M129.82,938.35a1.3,1.3 0 1,0 2.6,0a1.3,1.3 0 1,0 -2.6,0M116.51,926.47a1.3,1.3 0 1,0 2.6,0a1.3,1.3 0 1,0 -2.6,0M117.36,936.85a1.3,1.3 0 1,0 2.6,0a1.3,1.3 0 1,0 -2.6,0M118.62,944.80a1.3,1.3 0 1,0 2.6,0a1.3,1.3 0 1,0 -2.6,0M127.83,894.25a1.3,1.3 0 1,0 2.6,0a1.3,1.3 0 1,0 -2.6,0M115.22,901.93a1.3,1.3 0 1,0 2.6,0a1.3,1.3 0 1,0 -2.6,0M111.87,900.67a1.3,1.3 0 1,0 2.6,0a1.3,1.3 0 1,0 -2.6,0M109.07,920.72a1.3,1.3 0 1,0 2.6,0a1.3,1.3 0 1,0 -2.6,0M107.27,944.89a1.3,1.3 0 1,0 2.6,0a1.3,1.3 0 1,0 -2.6,0M106.33,920.21a1.3,1.3 0 1,0 2.6,0a1.3,1.3 0 1,0 -2.6,0M111.87,934.08a1.3,1.3 0 1,0 2.6,0a1.3,1.3 0 1,0 -2.6,0M118.85,931.32a1.3,1.3 0 1,0 2.6,0a1.3,1.3 0 1,0 -2.6,0M108.15,942.59a1.3,1.3 0 1,0 2.6,0a1.3,1.3 0 1,0 -2.6,0M107.09,911.18a1.3,1.3 0 1,0 2.6,0a1.3,1.3 0 1,0 -2.6,0M122.60,895.62a1.3,1.3 0 1,0 2.6,0a1.3,1.3 0 1,0 -2.6,0M120.36,964.49a1.3,1.3 0 1,0 2.6,0a1.3,1.3 0 1,0 -2.6,0M124.09,930.47a1.3,1.3 0 1,0 2.6,0a1.3,1.3 0 1,0 -2.6,0M117.83,954.87a1.3,1.3 0 1,0 2.6,0a1.3,1.3 0 1,0 -2.6,0M120.18,899.26a1.3,1.3 0 1,0 2.6,0a1.3,1.3 0 1,0 -2.6,0M109.10,920.78a1.3,1.3 0 1,0 2.6,0a1.3,1.3 0 1,0 -2.6,0M119.15,903.60a1.3,1.3 0 1,0 2.6,0a1.3,1.3 0 1,0 -2.6,0M116.04,945.58a1.3,1.3 0 1,0 2.6,0a1.3,1.3 0 1,0 -2.6,0M118.40,907.57a1.3,1.3 0 1,0 2.6,0a1.3,1.3 0 1,0 -2.6,0M107.78,936.59a1.3,1.3 0 1,0 2.6,0a1.3,1.3 0 1,0 -2.6,0M127.02,935.08a1.3,1.3 0 1,0 2.6,0a1.3,1.3 0 1,0 -2.6,0M114.39,926.81a1.3,1.3 0 1,0 2.6,0a1.3,1.3 0 1,0 -2.6,0M129.26,944.94a1.3,1.3 0 1,0 2.6,0a1.3,1.3 0 1,0 -2.6,0M108.26,934.83a1.3,1.3 0 1,0 2.6,0a1.3,1.3 0 1,0 -2.6,0M129.76,926.56a1.3,1.3 0 1,0 2.6,0a1.3,1.3 0 1,0 -2.6,0M107.06,917.59a1.3,1.3 0 1,0 2.6,0a1.3,1.3 0 1,0 -2.6,0M116.61,927.06a1.3,1.3 0 1,0 2.6,0a1.3,1.3 0 1,0 -2.6,0M127.69,933.32a1.3,1.3 0 1,0 2.6,0a1.3,1.3 0 1,0 -2.6,0M121.13,921.18a1.3,1.3 0 1,0 2.6,0a1.3,1.3 0 1,0 -2.6,0M110.36,945.36a1.3,1.3 0 1,0 2.6,0a1.3,1.3 0 1,0 -2.6,0M121.27,932.41a1.3,1.3 0 1,0 2.6,0a1.3,1.3 0 1,0 -2.6,0M123.22,938.03a1.3,1.3 0 1,0 2.6,0a1.3,1.3 0 1,0 -2.6,0M121.69,917.47a1.3,1.3 0 1,0 2.6,0a1.3,1.3 0 1,0 -2.6,0M104.82,946.66a1.3,1.3 0 1,0 2.6,0a1.3,1.3 0 1,0 -2.6,0M107.38,937.92a1.3,1.3 0 1,0 2.6,0a1.3,1.3 0 1,0 -2.6,0M113.13,938.49a1.3,1.3 0 1,0 2.6,0a1.3,1.3 0 1,0 -2.6,0M116.70,932.06a1.3,1.3 0 1,0 2.6,0a1.3,1.3 0 1,0 -2.6,0M127.97,911.53a1.3,1.3 0 1,0 2.6,0a1.3,1.3 0 1,0 -2.6,0M121.60,927.58a1.3,1.3 0 1,0 2.6,0a1.3,1.3 0 1,0 -2.6,0M114.12,934.78a1.3,1.3 0 1,0 2.6,0a1.3,1.3 0 1,0 -2.6,0M108.25,940.90a1.3,1.3 0 1,0 2.6,0a1.3,1.3 0 1,0 -2.6,0M112.85,951.01a1.3,1.3 0 1,0 2.6,0a1.3,1.3 0 1,0 -2.6,0M127.87,899.10a1.3,1.3 0 1,0 2.6,0a1.3,1.3 0 1,0 -2.6,0M121.06,903.98a1.3,1.3 0 1,0 2.6,0a1.3,1.3 0 1,0 -2.6,0M119.14,924.21a1.3,1.3 0 1,0 2.6,0a1.3,1.3 0 1,0 -2.6,0M124.42,902.72a1.3,1.3 0 1,0 2.6,0a1.3,1.3 0 1,0 -2.6,0M119.87,916.55a1.3,1.3 0 1,0 2.6,0a1.3,1.3 0 1,0 -2.6,0M115.21,918.14a1.3,1.3 0 1,0 2.6,0a1.3,1.3 0 1,0 -2.6,0M106.81,909.65a1.3,1.3 0 1,0 2.6,0a1.3,1.3 0 1,0 -2.6,0M127.10,918.66a1.3,1.3 0 1,0 2.6,0a1.3,1.3 0 1,0 -2.6,0M124.70,923.65a1.3,1.3 0 1,0 2.6,0a1.3,1.3 0 1,0 -2.6,0M126.17,932.19a1.3,1.3 0 1,0 2.6,0a1.3,1.3 0 1,0 -2.6,0M120.54,911.92a1.3,1.3 0 1,0 2.6,0a1.3,1.3 0 1,0 -2.6,0M121.00,953.35a1.3,1.3 0 1,0 2.6,0a1.3,1.3 0 1,0 -2.6,0M116.46,931.27a1.3,1.3 0 1,0 2.6,0a1.3,1.3 0 1,0 -2.6,0M110.70,920.96a1.3,1.3 0 1,0 2.6,0a1.3,1.3 0 1,0 -2.6,0M123.01,904.56a1.3,1.3 0 1,0 2.6,0a1.3,1.3 0 1,0 -2.6,0M105.45,953.01a1.3,1.3 0 1,0 2.6,0a1.3,1.3 0 1,0 -2.6,0M126.03,915.76a1.3,1.3 0 1,0 2.6,0a1.3,1.3 0 1,0 -2.6,0M113.69,939.73a1.3,1.3 0 1,0 2.6,0a1.3,1.3 0 1,0 -2.6,0M123.39,933.19a1.3,1.3 0 1,0 2.6,0a1.3,1.3 0 1,0 -2.6,0M126.14,917.26a1.3,1.3 0 1,0 2.6,0a1.3,1.3 0 1,0 -2.6,0M108.98,887.85a1.3,1.3 0 1,0 2.6,0a1.3,1.3 0 1,0 -2.6,0M126.29,953.70a1.3,1.3 0 1,0 2.6,0a1.3,1.3 0 1,0 -2.6,0M119.93,932.61a1.3,1.3 0 1,0 2.6,0a1.3,1.3 0 1,0 -2.6,0M114.13,927.19a1.3,1.3 0 1,0 2.6,0a1.3,1.3 0 1,0 -2.6,0M121.05,903.68a1.3,1.3 0 1,0 2.6,0a1.3,1.3 0 1,0 -2.6,0M112.06,938.37a1.3,1.3 0 1,0 2.6,0a1.3,1.3 0 1,0 -2.6,0M107.51,924.53a1.3,1.3 0 1,0 2.6,0a1.3,1.3 0 1,0 -2.6,0M114.32,902.94a1.3,1.3 0 1,0 2.6,0a1.3,1.3 0 1,0 -2.6,0M119.89,904.30a1.3,1.3 0 1,0 2.6,0a1.3,1.3 0 1,0 -2.6,0M119.64,914.34a1.3,1.3 0 1,0 2.6,0a1.3,1.3 0 1,0 -2.6,0M129.43,928.75a1.3,1.3 0 1,0 2.6,0a1.3,1.3 0 1,0 -2.6,0M118.18,929.39a1.3,1.3 0 1,0 2.6,0a1.3,1.3 0 1,0 -2.6,0M112.28,947.68a1.3,1.3 0 1,0 2.6,0a1.3,1.3 0 1,0 -2.6,0M112.46,935.80a1.3,1.3 0 1,0 2.6,0a1.3,1.3 0 1,0 -2.6,0M106.32,929.85a1.3,1.3 0 1,0 2.6,0a1.3,1.3 0 1,0 -2.6,0M128.30,933.97a1.3,1.3 0 1,0 2.6,0a1.3,1.3 0 1,0 -2.6,0M122.79,953.04a1.3,1.3 0 1,0 2.6,0a1.3,1.3 0 1,0 -2.6,0M111.98,923.54a1.3,1.3 0 1,0 2.6,0a1.3,1.3 0 1,0 -2.6,0M104.66,953.13a1.3,1.3 0 1,0 2.6,0a1.3,1.3 0 1,0 -2.6,0M105.40,900.61a1.3,1.3 0 1,0 2.6,0a1.3,1.3 0 1,0 -2.6,0M126.80,938.34a1.3,1.3 0 1,0 2.6,0a1.3,1.3 0 1,0 -2.6,0M120.84,957.04a1.3,1.3 0 1,0 2.6,0a1.3,1.3 0 1,0 -2.6,0M115.81,949.33a1.3,1.3 0 1,0 2.6,0a1.3,1.3 0 1,0 -2.6,0M115.54,905.02a1.3,1.3 0 1,0 2.6,0a1.3,1.3 0 1,0 -2.6,0M105.19,894.68a1.3,1.3 0 1,0 2.6,0a1.3,1.3 0 1,0 -2.6,0M125.83,943.22a1.3,1.3 0 1,0 2.6,0a1.3,1.3 0 1,0 -2.6,0M111.66,933.61a1.3,1.3 0 1,0 2.6,0a1.3,1.3 0 1,0 -2.6,0M105.75,946.98a1.3,1.3 0 1,0 2.6,0a1.3,1.3 0 1,0 -2.6,0M123.76,927.10a1.3,1.3 0 1,0 2.6,0a1.3,1.3 0 1,0 -2.6,0M105.73,947.60a1.3,1.3 0 1,0 2.6,0a1.3,1.3 0 1,0 -2.6,0M106.34,924.45a1.3,1.3 0 1,0 2.6,0a1.3,1.3 0 1,0 -2.6,0M112.00,952.94a1.3,1.3 0 1,0 2.6,0a1.3,1.3 0 1,0 -2.6,0M113.69,930.46a1.3,1.3 0 1,0 2.6,0a1.3,1.3 0 1,0 -2.6,0M122.85,956.29a1.3,1.3 0 1,0 2.6,0a1.3,1.3 0 1,0 -2.6,0M127.43,919.11a1.3,1.3 0 1,0 2.6,0a1.3,1.3 0 1,0 -2.6,0M115.87,933.41a1.3,1.3 0 1,0 2.6,0a1.3,1.3 0 1,0 -2.6,0M110.66,929.41a1.3,1.3 0 1,0 2.6,0a1.3,1.3 0 1,0 -2.6,0M119.22,916.99a1.3,1.3 0 1,0 2.6,0a1.3,1.3 0 1,0 -2.6,0M122.11,934.94a1.3,1.3 0 1,0 2.6,0a1.3,1.3 0 1,0 -2.6,0M106.18,954.20a1.3,1.3 0 1,0 2.6,0a1.3,1.3 0 1,0 -2.6,0M113.63,915.55a1.3,1.3 0 1,0 2.6,0a1.3,1.3 0 1,0 -2.6,0M115.59,912.91a1.3,1.3 0 1,0 2.6,0a1.3,1.3 0 1,0 -2.6,0M119.47,936.97a1.3,1.3 0 1,0 2.6,0a1.3,1.3 0 1,0 -2.6,0M107.74,908.71a1.3,1.3 0 1,0 2.6,0a1.3,1.3 0 1,0 -2.6,0M121.61,936.40a1.3,1.3 0 1,0 2.6,0a1.3,1.3 0 1,0 -2.6,0M118.74,938.89a1.3,1.3 0 1,0 2.6,0a1.3,1.3 0 1,0 -2.6,0M119.83,933.07a1.3,1.3 0 1,0 2.6,0a1.3,1.3 0 1,0 -2.6,0M117.59,937.94a1.3,1.3 0 1,0 2.6,0a1.3,1.3 0 1,0 -2.6,0M119.72,934.72a1.3,1.3 0 1,0 2.6,0a1.3,1.3 0 1,0 -2.6,0M123.88,910.68a1.3,1.3 0 1,0 2.6,0a1.3,1.3 0 1,0 -2.6,0M109.82,926.30a1.3,1.3 0 1,0 2.6,0a1.3,1.3 0 1,0 -2.6,0M121.62,936.58a1.3,1.3 0 1,0 2.6,0a1.3,1.3 0 1,0 -2.6,0M113.50,911.88a1.3,1.3 0 1,0 2.6,0a1.3,1.3 0 1,0 -2.6,0M113.45,935.28a1.3,1.3 0 1,0 2.6,0a1.3,1.3 0 1,0 -2.6,0M120.20,924.16a1.3,1.3 0 1,0 2.6,0a1.3,1.3 0 1,0 -2.6,0M122.39,919.75a1.3,1.3 0 1,0 2.6,0a1.3,1.3 0 1,0 -2.6,0M127.56,913.19a1.3,1.3 0 1,0 2.6,0a1.3,1.3 0 1,0 -2.6,0M119.09,936.59a1.3,1.3 0 1,0 2.6,0a1.3,1.3 0 1,0 -2.6,0M113.02,931.72a1.3,1.3 0 1,0 2.6,0a1.3,1.3 0 1,0 -2.6,0M108.36,919.14a1.3,1.3 0 1,0 2.6,0a1.3,1.3 0 1,0 -2.6,0M125.11,954.68a1.3,1.3 0 1,0 2.6,0a1.3,1.3 0 1,0 -2.6,0M119.40,936.66a1.3,1.3 0 1,0 2.6,0a1.3,1.3 0 1,0 -2.6,0M129.04,937.90a1.3,1.3 0 1,0 2.6,0a1.3,1.3 0 1,0 -2.6,0M122.89,911.29a1.3,1.3 0 1,0 2.6,0a1.3,1.3 0 1,0 -2.6,0M115.97,936.11a1.3,1.3 0 1,0 2.6,0a1.3,1.3 0 1,0 -2.6,0M123.14,907.88a1.3,1.3 0 1,0 2.6,0a1.3,1.3 0 1,0 -2.6,0M119.29,915.79a1.3,1.3 0 1,0 2.6,0a1.3,1.3 0 1,0 -2.6,0M127.44,944.41a1.3,1.3 0 1,0 2.6,0a1.3,1.3 0 1,0 -2.6,0M108.43,946.12a1.3,1.3 0 1,0 2.6,0a1.3,1.3 0 1,0 -2.6,0M110.29,928.81a1.3,1.3 0 1,0 2.6,0a1.3,1.3 0 1,0 -2.6,0M118.50,914.97a1.3,1.3 0 1,0 2.6,0a1.3,1.3 0 1,0 -2.6,0M129.86,919.67a1.3,1.3 0 1,0 2.6,0a1.3,1.3 0 1,0 -2.6,0M113.53,936.92a1.3,1.3 0 1,0 2.6,0a1.3,1.3 0 1,0 -2.6,0M127.83,933.47a1.3,1.3 0 1,0 2.6,0a1.3,1.3 0 1,0 -2.6,0M127.67,912.59a1.3,1.3 0 1,0 2.6,0a1.3,1.3 0 1,0 -2.6,0M105.37,949.46a1.3,1.3 0 1,0 2.6,0a1.3,1.3 0 1,0 -2.6,0M108.65,926.23a1.3,1.3 0 1,0 2.6,0a1.3,1.3 0 1,0 -2.6,0M118.11,926.20a1.3,1.3 0 1,0 2.6,0a1.3,1.3 0 1,0 -2.6,0M117.81,948.02a1.3,1.3 0 1,0 2.6,0a1.3,1.3 0 1,0 -2.6,0M127.44,917.19a1.3,1.3 0 1,0 2.6,0a1.3,1.3 0 1,0 -2.6,0M114.89,938.49a1.3,1.3 0 1,0 2.6,0a1.3,1.3 0 1,0 -2.6,0M105.23,905.34a1.3,1.3 0 1,0 2.6,0a1.3,1.3 0 1,0 -2.6,0M126.81,931.92a1.3,1.3 0 1,0 2.6,0a1.3,1.3 0 1,0 -2.6,0M122.61,913.87a1.3,1.3 0 1,0 2.6,0a1.3,1.3 0 1,0 -2.6,0M116.66,955.47a1.3,1.3 0 1,0 2.6,0a1.3,1.3 0 1,0 -2.6,0M120.83,905.94a1.3,1.3 0 1,0 2.6,0a1.3,1.3 0 1,0 -2.6,0M128.58,893.96a1.3,1.3 0 1,0 2.6,0a1.3,1.3 0 1,0 -2.6,0M128.50,907.63a1.3,1.3 0 1,0 2.6,0a1.3,1.3 0 1,0 -2.6,0M120.01,927.32a1.3,1.3 0 1,0 2.6,0a1.3,1.3 0 1,0 -2.6,0M121.70,896.82a1.3,1.3 0 1,0 2.6,0a1.3,1.3 0 1,0 -2.6,0M129.00,920.48a1.3,1.3 0 1,0 2.6,0a1.3,1.3 0 1,0 -2.6,0M129.94,893.75a1.3,1.3 0 1,0 2.6,0a1.3,1.3 0 1,0 -2.6,0M127.45,924.76a1.3,1.3 0 1,0 2.6,0a1.3,1.3 0 1,0 -2.6,0M112.80,942.57a1.3,1.3 0 1,0 2.6,0a1.3,1.3 0 1,0 -2.6,0M123.63,921.98a1.3,1.3 0 1,0 2.6,0a1.3,1.3 0 1,0 -2.6,0M109.21,913.40a1.3,1.3 0 1,0 2.6,0a1.3,1.3 0 1,0 -2.6,0M123.67,933.06a1.3,1.3 0 1,0 2.6,0a1.3,1.3 0 1,0 -2.6,0M128.68,966.19a1.3,1.3 0 1,0 2.6,0a1.3,1.3 0 1,0 -2.6,0M107.17,930.99a1.3,1.3 0 1,0 2.6,0a1.3,1.3 0 1,0 -2.6,0M125.49,918.05a1.3,1.3 0 1,0 2.6,0a1.3,1.3 0 1,0 -2.6,0M106.78,928.53a1.3,1.3 0 1,0 2.6,0a1.3,1.3 0 1,0 -2.6,0M125.60,939.00a1.3,1.3 0 1,0 2.6,0a1.3,1.3 0 1,0 -2.6,0M110.74,946.21a1.3,1.3 0 1,0 2.6,0a1.3,1.3 0 1,0 -2.6,0M120.19,921.40a1.3,1.3 0 1,0 2.6,0a1.3,1.3 0 1,0 -2.6,0M106.18,916.57a1.3,1.3 0 1,0 2.6,0a1.3,1.3 0 1,0 -2.6,0M122.45,950.80a1.3,1.3 0 1,0 2.6,0a1.3,1.3 0 1,0 -2.6,0M107.79,918.46a1.3,1.3 0 1,0 2.6,0a1.3,1.3 0 1,0 -2.6,0M115.32,905.84a1.3,1.3 0 1,0 2.6,0a1.3,1.3 0 1,0 -2.6,0M123.17,915.43a1.3,1.3 0 1,0 2.6,0a1.3,1.3 0 1,0 -2.6,0M114.26,927.46a1.3,1.3 0 1,0 2.6,0a1.3,1.3 0 1,0 -2.6,0M117.11,911.03a1.3,1.3 0 1,0 2.6,0a1.3,1.3 0 1,0 -2.6,0M108.08,923.03a1.3,1.3 0 1,0 2.6,0a1.3,1.3 0 1,0 -2.6,0M107.75,915.14a1.3,1.3 0 1,0 2.6,0a1.3,1.3 0 1,0 -2.6,0M124.63,931.65a1.3,1.3 0 1,0 2.6,0a1.3,1.3 0 1,0 -2.6,0M109.10,903.18a1.3,1.3 0 1,0 2.6,0a1.3,1.3 0 1,0 -2.6,0M120.57,918.34a1.3,1.3 0 1,0 2.6,0a1.3,1.3 0 1,0 -2.6,0M119.61,907.80a1.3,1.3 0 1,0 2.6,0a1.3,1.3 0 1,0 -2.6,0M117.14,933.54a1.3,1.3 0 1,0 2.6,0a1.3,1.3 0 1,0 -2.6,0M127.01,966.83a1.3,1.3 0 1,0 2.6,0a1.3,1.3 0 1,0 -2.6,0M105.66,946.80a1.3,1.3 0 1,0 2.6,0a1.3,1.3 0 1,0 -2.6,0M116.93,923.78a1.3,1.3 0 1,0 2.6,0a1.3,1.3 0 1,0 -2.6,0M112.92,938.51a1.3,1.3 0 1,0 2.6,0a1.3,1.3 0 1,0 -2.6,0M105.56,921.68a1.3,1.3 0 1,0 2.6,0a1.3,1.3 0 1,0 -2.6,0M115.18,888.74a1.3,1.3 0 1,0 2.6,0a1.3,1.3 0 1,0 -2.6,0M120.47,932.30a1.3,1.3 0 1,0 2.6,0a1.3,1.3 0 1,0 -2.6,0M117.58,964.33a1.3,1.3 0 1,0 2.6,0a1.3,1.3 0 1,0 -2.6,0M129.45,921.65a1.3,1.3 0 1,0 2.6,0a1.3,1.3 0 1,0 -2.6,0M105.11,935.08a1.3,1.3 0 1,0 2.6,0a1.3,1.3 0 1,0 -2.6,0M105.61,949.95a1.3,1.3 0 1,0 2.6,0a1.3,1.3 0 1,0 -2.6,0M108.05,941.24a1.3,1.3 0 1,0 2.6,0a1.3,1.3 0 1,0 -2.6,0M108.68,937.69a1.3,1.3 0 1,0 2.6,0a1.3,1.3 0 1,0 -2.6,0M128.13,944.46a1.3,1.3 0 1,0 2.6,0a1.3,1.3 0 1,0 -2.6,0M115.69,936.51a1.3,1.3 0 1,0 2.6,0a1.3,1.3 0 1,0 -2.6,0M107.79,914.91a1.3,1.3 0 1,0 2.6,0a1.3,1.3 0 1,0 -2.6,0M115.20,924.49a1.3,1.3 0 1,0 2.6,0a1.3,1.3 0 1,0 -2.6,0M117.43,900.88a1.3,1.3 0 1,0 2.6,0a1.3,1.3 0 1,0 -2.6,0M125.18,920.71a1.3,1.3 0 1,0 2.6,0a1.3,1.3 0 1,0 -2.6,0M124.81,945.84a1.3,1.3 0 1,0 2.6,0a1.3,1.3 0 1,0 -2.6,0M118.52,931.96a1.3,1.3 0 1,0 2.6,0a1.3,1.3 0 1,0 -2.6,0M122.03,951.58a1.3,1.3 0 1,0 2.6,0a1.3,1.3 0 1,0 -2.6,0M109.19,911.31a1.3,1.3 0 1,0 2.6,0a1.3,1.3 0 1,0 -2.6,0M124.53,922.67a1.3,1.3 0 1,0 2.6,0a1.3,1.3 0 1,0 -2.6,0M122.75,930.51a1.3,1.3 0 1,0 2.6,0a1.3,1.3 0 1,0 -2.6,0M108.24,941.85a1.3,1.3 0 1,0 2.6,0a1.3,1.3 0 1,0 -2.6,0M121.62,935.62a1.3,1.3 0 1,0 2.6,0a1.3,1.3 0 1,0 -2.6,0M113.00,934.20a1.3,1.3 0 1,0 2.6,0a1.3,1.3 0 1,0 -2.6,0M106.95,904.82a1.3,1.3 0 1,0 2.6,0a1.3,1.3 0 1,0 -2.6,0M108.71,900.85a1.3,1.3 0 1,0 2.6,0a1.3,1.3 0 1,0 -2.6,0M118.30,957.05a1.3,1.3 0 1,0 2.6,0a1.3,1.3 0 1,0 -2.6,0M110.39,912.46a1.3,1.3 0 1,0 2.6,0a1.3,1.3 0 1,0 -2.6,0M126.40,912.30a1.3,1.3 0 1,0 2.6,0a1.3,1.3 0 1,0 -2.6,0M106.12,941.53a1.3,1.3 0 1,0 2.6,0a1.3,1.3 0 1,0 -2.6,0M112.18,904.95a1.3,1.3 0 1,0 2.6,0a1.3,1.3 0 1,0 -2.6,0M129.62,924.20a1.3,1.3 0 1,0 2.6,0a1.3,1.3 0 1,0 -2.6,0M120.90,911.71a1.3,1.3 0 1,0 2.6,0a1.3,1.3 0 1,0 -2.6,0M121.38,922.91a1.3,1.3 0 1,0 2.6,0a1.3,1.3 0 1,0 -2.6,0M114.55,917.81a1.3,1.3 0 1,0 2.6,0a1.3,1.3 0 1,0 -2.6,0M115.18,954.05a1.3,1.3 0 1,0 2.6,0a1.3,1.3 0 1,0 -2.6,0M128.10,924.52a1.3,1.3 0 1,0 2.6,0a1.3,1.3 0 1,0 -2.6,0M128.97,940.46a1.3,1.3 0 1,0 2.6,0a1.3,1.3 0 1,0 -2.6,0M104.81,907.67a1.3,1.3 0 1,0 2.6,0a1.3,1.3 0 1,0 -2.6,0M126.81,936.08a1.3,1.3 0 1,0 2.6,0a1.3,1.3 0 1,0 -2.6,0M106.22,931.65a1.3,1.3 0 1,0 2.6,0a1.3,1.3 0 1,0 -2.6,0M108.65,910.29a1.3,1.3 0 1,0 2.6,0a1.3,1.3 0 1,0 -2.6,0M128.90,945.69a1.3,1.3 0 1,0 2.6,0a1.3,1.3 0 1,0 -2.6,0M110.64,926.14a1.3,1.3 0 1,0 2.6,0a1.3,1.3 0 1,0 -2.6,0M124.37,937.04a1.3,1.3 0 1,0 2.6,0a1.3,1.3 0 1,0 -2.6,0M122.88,961.29a1.3,1.3 0 1,0 2.6,0a1.3,1.3 0 1,0 -2.6,0M128.18,928.48a1.3,1.3 0 1,0 2.6,0a1.3,1.3 0 1,0 -2.6,0M129.02,930.41a1.3,1.3 0 1,0 2.6,0a1.3,1.3 0 1,0 -2.6,0M129.14,935.56a1.3,1.3 0 1,0 2.6,0a1.3,1.3 0 1,0 -2.6,0M123.47,917.46a1.3,1.3 0 1,0 2.6,0a1.3,1.3 0 1,0 -2.6,0M118.05,934.44a1.3,1.3 0 1,0 2.6,0a1.3,1.3 0 1,0 -2.6,0M116.58,926.57a1.3,1.3 0 1,0 2.6,0a1.3,1.3 0 1,0 -2.6,0M123.11,931.71a1.3,1.3 0 1,0 2.6,0a1.3,1.3 0 1,0 -2.6,0M117.41,950.66a1.3,1.3 0 1,0 2.6,0a1.3,1.3 0 1,0 -2.6,0M127.38,913.10a1.3,1.3 0 1,0 2.6,0a1.3,1.3 0 1,0 -2.6,0M113.89,932.79a1.3,1.3 0 1,0 2.6,0a1.3,1.3 0 1,0 -2.6,0M121.10,950.72a1.3,1.3 0 1,0 2.6,0a1.3,1.3 0 1,0 -2.6,0M108.86,916.63a1.3,1.3 0 1,0 2.6,0a1.3,1.3 0 1,0 -2.6,0M125.56,919.56a1.3,1.3 0 1,0 2.6,0a1.3,1.3 0 1,0 -2.6,0M124.89,908.11a1.3,1.3 0 1,0 2.6,0a1.3,1.3 0 1,0 -2.6,0M105.20,943.67a1.3,1.3 0 1,0 2.6,0a1.3,1.3 0 1,0 -2.6,0M121.97,908.61a1.3,1.3 0 1,0 2.6,0a1.3,1.3 0 1,0 -2.6,0M122.30,932.81a1.3,1.3 0 1,0 2.6,0a1.3,1.3 0 1,0 -2.6,0M126.50,921.09a1.3,1.3 0 1,0 2.6,0a1.3,1.3 0 1,0 -2.6,0M128.92,897.94a1.3,1.3 0 1,0 2.6,0a1.3,1.3 0 1,0 -2.6,0M115.64,938.25a1.3,1.3 0 1,0 2.6,0a1.3,1.3 0 1,0 -2.6,0M111.53,964.56a1.3,1.3 0 1,0 2.6,0a1.3,1.3 0 1,0 -2.6,0M108.85,923.06a1.3,1.3 0 1,0 2.6,0a1.3,1.3 0 1,0 -2.6,0M109.58,913.40a1.3,1.3 0 1,0 2.6,0a1.3,1.3 0 1,0 -2.6,0M127.12,939.71a1.3,1.3 0 1,0 2.6,0a1.3,1.3 0 1,0 -2.6,0M119.22,928.88a1.3,1.3 0 1,0 2.6,0a1.3,1.3 0 1,0 -2.6,0M113.51,935.41a1.3,1.3 0 1,0 2.6,0a1.3,1.3 0 1,0 -2.6,0M115.18,910.26a1.3,1.3 0 1,0 2.6,0a1.3,1.3 0 1,0 -2.6,0M105.44,932.32a1.3,1.3 0 1,0 2.6,0a1.3,1.3 0 1,0 -2.6,0M109.13,932.94a1.3,1.3 0 1,0 2.6,0a1.3,1.3 0 1,0 -2.6,0M129.00,915.06a1.3,1.3 0 1,0 2.6,0a1.3,1.3 0 1,0 -2.6,0M119.42,918.81a1.3,1.3 0 1,0 2.6,0a1.3,1.3 0 1,0 -2.6,0M129.49,901.58a1.3,1.3 0 1,0 2.6,0a1.3,1.3 0 1,0 -2.6,0M123.38,901.24a1.3,1.3 0 1,0 2.6,0a1.3,1.3 0 1,0 -2.6,0M128.74,935.11a1.3,1.3 0 1,0 2.6,0a1.3,1.3 0 1,0 -2.6,0M111.35,936.80a1.3,1.3 0 1,0 2.6,0a1.3,1.3 0 1,0 -2.6,0M107.77,923.35a1.3,1.3 0 1,0 2.6,0a1.3,1.3 0 1,0 -2.6,0M116.17,908.05a1.3,1.3 0 1,0 2.6,0a1.3,1.3 0 1,0 -2.6,0M111.44,931.43a1.3,1.3 0 1,0 2.6,0a1.3,1.3 0 1,0 -2.6,0M105.88,897.54a1.3,1.3 0 1,0 2.6,0a1.3,1.3 0 1,0 -2.6,0M126.73,916.76a1.3,1.3 0 1,0 2.6,0a1.3,1.3 0 1,0 -2.6,0M109.61,936.26a1.3,1.3 0 1,0 2.6,0a1.3,1.3 0 1,0 -2.6,0M112.60,933.34a1.3,1.3 0 1,0 2.6,0a1.3,1.3 0 1,0 -2.6,0M115.58,929.45a1.3,1.3 0 1,0 2.6,0a1.3,1.3 0 1,0 -2.6,0M115.42,936.93a1.3,1.3 0 1,0 2.6,0a1.3,1.3 0 1,0 -2.6,0M115.71,925.70a1.3,1.3 0 1,0 2.6,0a1.3,1.3 0 1,0 -2.6,0M127.63,937.74a1.3,1.3 0 1,0 2.6,0a1.3,1.3 0 1,0 -2.6,0M126.46,923.90a1.3,1.3 0 1,0 2.6,0a1.3,1.3 0 1,0 -2.6,0M118.87,907.43a1.3,1.3 0 1,0 2.6,0a1.3,1.3 0 1,0 -2.6,0M115.83,912.54a1.3,1.3 0 1,0 2.6,0a1.3,1.3 0 1,0 -2.6,0M114.62,914.89a1.3,1.3 0 1,0 2.6,0a1.3,1.3 0 1,0 -2.6,0M117.27,916.41a1.3,1.3 0 1,0 2.6,0a1.3,1.3 0 1,0 -2.6,0M120.05,897.74a1.3,1.3 0 1,0 2.6,0a1.3,1.3 0 1,0 -2.6,0M110.05,928.12a1.3,1.3 0 1,0 2.6,0a1.3,1.3 0 1,0 -2.6,0M107.58,909.09a1.3,1.3 0 1,0 2.6,0a1.3,1.3 0 1,0 -2.6,0M118.03,915.72a1.3,1.3 0 1,0 2.6,0a1.3,1.3 0 1,0 -2.6,0M106.52,912.84a1.3,1.3 0 1,0 2.6,0a1.3,1.3 0 1,0 -2.6,0M130.02,935.14a1.3,1.3 0 1,0 2.6,0a1.3,1.3 0 1,0 -2.6,0M128.45,930.03a1.3,1.3 0 1,0 2.6,0a1.3,1.3 0 1,0 -2.6,0M114.08,913.45a1.3,1.3 0 1,0 2.6,0a1.3,1.3 0 1,0 -2.6,0M118.88,915.29a1.3,1.3 0 1,0 2.6,0a1.3,1.3 0 1,0 -2.6,0M129.32,938.36a1.3,1.3 0 1,0 2.6,0a1.3,1.3 0 1,0 -2.6,0M110.72,904.32a1.3,1.3 0 1,0 2.6,0a1.3,1.3 0 1,0 -2.6,0M127.31,919.28a1.3,1.3 0 1,0 2.6,0a1.3,1.3 0 1,0 -2.6,0M106.91,915.43a1.3,1.3 0 1,0 2.6,0a1.3,1.3 0 1,0 -2.6,0M124.91,908.51a1.3,1.3 0 1,0 2.6,0a1.3,1.3 0 1,0 -2.6,0M122.75,943.29a1.3,1.3 0 1,0 2.6,0a1.3,1.3 0 1,0 -2.6,0M107.03,928.39a1.3,1.3 0 1,0 2.6,0a1.3,1.3 0 1,0 -2.6,0M117.22,950.66a1.3,1.3 0 1,0 2.6,0a1.3,1.3 0 1,0 -2.6,0M114.00,914.37a1.3,1.3 0 1,0 2.6,0a1.3,1.3 0 1,0 -2.6,0M129.21,918.19a1.3,1.3 0 1,0 2.6,0a1.3,1.3 0 1,0 -2.6,0M118.10,926.19a1.3,1.3 0 1,0 2.6,0a1.3,1.3 0 1,0 -2.6,0M127.64,943.51a1.3,1.3 0 1,0 2.6,0a1.3,1.3 0 1,0 -2.6,0M129.55,923.77a1.3,1.3 0 1,0 2.6,0a1.3,1.3 0 1,0 -2.6,0M125.79,903.49a1.3,1.3 0 1,0 2.6,0a1.3,1.3 0 1,0 -2.6,0M108.28,918.67a1.3,1.3 0 1,0 2.6,0a1.3,1.3 0 1,0 -2.6,0M129.57,915.25a1.3,1.3 0 1,0 2.6,0a1.3,1.3 0 1,0 -2.6,0M129.27,927.70a1.3,1.3 0 1,0 2.6,0a1.3,1.3 0 1,0 -2.6,0M108.49,922.48a1.3,1.3 0 1,0 2.6,0a1.3,1.3 0 1,0 -2.6,0M125.52,929.26a1.3,1.3 0 1,0 2.6,0a1.3,1.3 0 1,0 -2.6,0M121.56,899.76a1.3,1.3 0 1,0 2.6,0a1.3,1.3 0 1,0 -2.6,0M113.72,945.68a1.3,1.3 0 1,0 2.6,0a1.3,1.3 0 1,0 -2.6,0M121.01,897.76a1.3,1.3 0 1,0 2.6,0a1.3,1.3 0 1,0 -2.6,0M120.98,916.22a1.3,1.3 0 1,0 2.6,0a1.3,1.3 0 1,0 -2.6,0M107.89,904.55a1.3,1.3 0 1,0 2.6,0a1.3,1.3 0 1,0 -2.6,0M121.81,932.75a1.3,1.3 0 1,0 2.6,0a1.3,1.3 0 1,0 -2.6,0M120.79,930.64a1.3,1.3 0 1,0 2.6,0a1.3,1.3 0 1,0 -2.6,0M122.96,925.72a1.3,1.3 0 1,0 2.6,0a1.3,1.3 0 1,0 -2.6,0M112.17,903.46a1.3,1.3 0 1,0 2.6,0a1.3,1.3 0 1,0 -2.6,0M128.79,919.85a1.3,1.3 0 1,0 2.6,0a1.3,1.3 0 1,0 -2.6,0M119.02,936.13a1.3,1.3 0 1,0 2.6,0a1.3,1.3 0 1,0 -2.6,0M117.68,958.90a1.3,1.3 0 1,0 2.6,0a1.3,1.3 0 1,0 -2.6,0M113.34,926.64a1.3,1.3 0 1,0 2.6,0a1.3,1.3 0 1,0 -2.6,0M127.84,912.97a1.3,1.3 0 1,0 2.6,0a1.3,1.3 0 1,0 -2.6,0M124.43,910.79a1.3,1.3 0 1,0 2.6,0a1.3,1.3 0 1,0 -2.6,0M104.61,926.13a1.3,1.3 0 1,0 2.6,0a1.3,1.3 0 1,0 -2.6,0M109.30,928.09a1.3,1.3 0 1,0 2.6,0a1.3,1.3 0 1,0 -2.6,0M123.13,917.00a1.3,1.3 0 1,0 2.6,0a1.3,1.3 0 1,0 -2.6,0M118.10,951.44a1.3,1.3 0 1,0 2.6,0a1.3,1.3 0 1,0 -2.6,0M106.35,939.66a1.3,1.3 0 1,0 2.6,0a1.3,1.3 0 1,0 -2.6,0M126.50,925.66a1.3,1.3 0 1,0 2.6,0a1.3,1.3 0 1,0 -2.6,0M125.90,930.66a1.3,1.3 0 1,0 2.6,0a1.3,1.3 0 1,0 -2.6,0M122.36,905.52a1.3,1.3 0 1,0 2.6,0a1.3,1.3 0 1,0 -2.6,0M130.05,915.80a1.3,1.3 0 1,0 2.6,0a1.3,1.3 0 1,0 -2.6,0M126.74,925.53a1.3,1.3 0 1,0 2.6,0a1.3,1.3 0 1,0 -2.6,0M126.68,933.76a1.3,1.3 0 1,0 2.6,0a1.3,1.3 0 1,0 -2.6,0M106.83,957.86a1.3,1.3 0 1,0 2.6,0a1.3,1.3 0 1,0 -2.6,0M128.82,937.13a1.3,1.3 0 1,0 2.6,0a1.3,1.3 0 1,0 -2.6,0M124.37,928.20a1.3,1.3 0 1,0 2.6,0a1.3,1.3 0 1,0 -2.6,0M107.30,900.05a1.3,1.3 0 1,0 2.6,0a1.3,1.3 0 1,0 -2.6,0M109.11,919.50a1.3,1.3 0 1,0 2.6,0a1.3,1.3 0 1,0 -2.6,0M117.28,895.77a1.3,1.3 0 1,0 2.6,0a1.3,1.3 0 1,0 -2.6,0M121.02,931.27a1.3,1.3 0 1,0 2.6,0a1.3,1.3 0 1,0 -2.6,0M128.58,962.57a1.3,1.3 0 1,0 2.6,0a1.3,1.3 0 1,0 -2.6,0M125.40,900.47a1.3,1.3 0 1,0 2.6,0a1.3,1.3 0 1,0 -2.6,0M112.87,912.78a1.3,1.3 0 1,0 2.6,0a1.3,1.3 0 1,0 -2.6,0M119.12,956.08a1.3,1.3 0 1,0 2.6,0a1.3,1.3 0 1,0 -2.6,0M118.96,918.54a1.3,1.3 0 1,0 2.6,0a1.3,1.3 0 1,0 -2.6,0M124.30,938.43a1.3,1.3 0 1,0 2.6,0a1.3,1.3 0 1,0 -2.6,0M120.46,912.44a1.3,1.3 0 1,0 2.6,0a1.3,1.3 0 1,0 -2.6,0M128.44,953.40a1.3,1.3 0 1,0 2.6,0a1.3,1.3 0 1,0 -2.6,0M116.51,931.61a1.3,1.3 0 1,0 2.6,0a1.3,1.3 0 1,0 -2.6,0M109.61,948.64a1.3,1.3 0 1,0 2.6,0a1.3,1.3 0 1,0 -2.6,0M111.56,946.35a1.3,1.3 0 1,0 2.6,0a1.3,1.3 0 1,0 -2.6,0M112.81,932.58a1.3,1.3 0 1,0 2.6,0a1.3,1.3 0 1,0 -2.6,0M128.89,932.19a1.3,1.3 0 1,0 2.6,0a1.3,1.3 0 1,0 -2.6,0M117.27,913.79a1.3,1.3 0 1,0 2.6,0a1.3,1.3 0 1,0 -2.6,0M107.26,938.32a1.3,1.3 0 1,0 2.6,0a1.3,1.3 0 1,0 -2.6,0M109.27,921.49a1.3,1.3 0 1,0 2.6,0a1.3,1.3 0 1,0 -2.6,0M122.33,932.81a1.3,1.3 0 1,0 2.6,0a1.3,1.3 0 1,0 -2.6,0M119.39,918.43a1.3,1.3 0 1,0 2.6,0a1.3,1.3 0 1,0 -2.6,0M112.62,936.05a1.3,1.3 0 1,0 2.6,0a1.3,1.3 0 1,0 -2.6,0M115.74,936.08a1.3,1.3 0 1,0 2.6,0a1.3,1.3 0 1,0 -2.6,0M110.81,916.85a1.3,1.3 0 1,0 2.6,0a1.3,1.3 0 1,0 -2.6,0M126.54,933.25a1.3,1.3 0 1,0 2.6,0a1.3,1.3 0 1,0 -2.6,0M126.00,879.60a1.3,1.3 0 1,0 2.6,0a1.3,1.3 0 1,0 -2.6,0M124.60,883.50a1.3,1.3 0 1,0 2.6,0a1.3,1.3 0 1,0 -2.6,0M111.00,973.20a1.3,1.3 0 1,0 2.6,0a1.3,1.3 0 1,0 -2.6,0M103.50,957.80a1.3,1.3 0 1,0 2.6,0a1.3,1.3 0 1,0 -2.6,0" fill="#000"/>
<rect x="94.60" y="914.50" width="47.90" height="21.80" fill="rgba(55,80,140,0.33)" stroke="#3a3a3a" stroke-width="0.9"/>
<line x1="96.60" y1="914.50" x2="96.60" y2="936.30" stroke="rgba(40,40,60,0.45)" stroke-width="0.8" />
<line x1="140.50" y1="914.50" x2="140.50" y2="936.30" stroke="rgba(40,40,60,0.3)" stroke-width="0.8" />
<line x1="94.60" y1="926.50" x2="142.50" y2="926.50" stroke="#333" stroke-width="1.3" />
<text x="105.19" y="985.30" font-size="11" fill="#000" textLength="24.78" lengthAdjust="spacingAndGlyphs" stroke="#000" stroke-width="0.2">T1-T2</text>
<line x1="118.60" y1="975.10" x2="118.60" y2="976.70" stroke="#333" stroke-width="0.8" />
<line x1="182.60" y1="877.90" x2="182.60" y2="910.30" stroke="#333" stroke-width="0.9" />
<line x1="182.60" y1="933.40" x2="182.60" y2="950.40" stroke="#333" stroke-width="0.9" />
<circle cx="182.60" cy="854.10" r="1.1" fill="#C8C8C8"/>
<path d="M193.40,854.10a1.3,1.3 0 1,0 2.6,0a1.3,1.3 0 1,0 -2.6,0M181.30,877.90a1.3,1.3 0 1,0 2.6,0a1.3,1.3 0 1,0 -2.6,0M174.10,889.40a1.3,1.3 0 1,0 2.6,0a1.3,1.3 0 1,0 -2.6,0M174.60,890.60a1.3,1.3 0 1,0 2.6,0a1.3,1.3 0 1,0 -2.6,0M178.10,895.00a1.3,1.3 0 1,0 2.6,0a1.3,1.3 0 1,0 -2.6,0M186.10,899.90a1.3,1.3 0 1,0 2.6,0a1.3,1.3 0 1,0 -2.6,0M191.80,899.90a1.3,1.3 0 1,0 2.6,0a1.3,1.3 0 1,0 -2.6,0M192.60,901.50a1.3,1.3 0 1,0 2.6,0a1.3,1.3 0 1,0 -2.6,0M183.70,903.10a1.3,1.3 0 1,0 2.6,0a1.3,1.3 0 1,0 -2.6,0M191.80,903.60a1.3,1.3 0 1,0 2.6,0a1.3,1.3 0 1,0 -2.6,0M186.10,907.10a1.3,1.3 0 1,0 2.6,0a1.3,1.3 0 1,0 -2.6,0M178.10,908.40a1.3,1.3 0 1,0 2.6,0a1.3,1.3 0 1,0 -2.6,0M175.70,909.50a1.3,1.3 0 1,0 2.6,0a1.3,1.3 0 1,0 -2.6,0M193.40,909.20a1.3,1.3 0 1,0 2.6,0a1.3,1.3 0 1,0 -2.6,0M186.10,911.10a1.3,1.3 0 1,0 2.6,0a1.3,1.3 0 1,0 -2.6,0M184.50,913.20a1.3,1.3 0 1,0 2.6,0a1.3,1.3 0 1,0 -2.6,0M174.10,915.10a1.3,1.3 0 1,0 2.6,0a1.3,1.3 0 1,0 -2.6,0M179.70,917.50a1.3,1.3 0 1,0 2.6,0a1.3,1.3 0 1,0 -2.6,0M182.10,918.00a1.3,1.3 0 1,0 2.6,0a1.3,1.3 0 1,0 -2.6,0M185.30,918.60a1.3,1.3 0 1,0 2.6,0a1.3,1.3 0 1,0 -2.6,0M191.80,917.50a1.3,1.3 0 1,0 2.6,0a1.3,1.3 0 1,0 -2.6,0M191.80,919.60a1.3,1.3 0 1,0 2.6,0a1.3,1.3 0 1,0 -2.6,0M169.30,919.90a1.3,1.3 0 1,0 2.6,0a1.3,1.3 0 1,0 -2.6,0M170.10,922.30a1.3,1.3 0 1,0 2.6,0a1.3,1.3 0 1,0 -2.6,0M174.10,921.90a1.3,1.3 0 1,0 2.6,0a1.3,1.3 0 1,0 -2.6,0M180.50,922.30a1.3,1.3 0 1,0 2.6,0a1.3,1.3 0 1,0 -2.6,0M169.30,926.40a1.3,1.3 0 1,0 2.6,0a1.3,1.3 0 1,0 -2.6,0M174.10,926.00a1.3,1.3 0 1,0 2.6,0a1.3,1.3 0 1,0 -2.6,0M176.50,926.40a1.3,1.3 0 1,0 2.6,0a1.3,1.3 0 1,0 -2.6,0M179.70,927.20a1.3,1.3 0 1,0 2.6,0a1.3,1.3 0 1,0 -2.6,0M184.90,927.20a1.3,1.3 0 1,0 2.6,0a1.3,1.3 0 1,0 -2.6,0M170.10,931.50a1.3,1.3 0 1,0 2.6,0a1.3,1.3 0 1,0 -2.6,0M174.60,931.20a1.3,1.3 0 1,0 2.6,0a1.3,1.3 0 1,0 -2.6,0M184.50,934.40a1.3,1.3 0 1,0 2.6,0a1.3,1.3 0 1,0 -2.6,0M185.30,936.80a1.3,1.3 0 1,0 2.6,0a1.3,1.3 0 1,0 -2.6,0M186.10,935.20a1.3,1.3 0 1,0 2.6,0a1.3,1.3 0 1,0 -2.6,0M170.90,936.50a1.3,1.3 0 1,0 2.6,0a1.3,1.3 0 1,0 -2.6,0M176.50,940.50a1.3,1.3 0 1,0 2.6,0a1.3,1.3 0 1,0 -2.6,0M175.70,942.40a1.3,1.3 0 1,0 2.6,0a1.3,1.3 0 1,0 -2.6,0M180.50,943.20a1.3,1.3 0 1,0 2.6,0a1.3,1.3 0 1,0 -2.6,0M189.40,939.70a1.3,1.3 0 1,0 2.6,0a1.3,1.3 0 1,0 -2.6,0M193.90,939.70a1.3,1.3 0 1,0 2.6,0a1.3,1.3 0 1,0 -2.6,0M168.50,945.30a1.3,1.3 0 1,0 2.6,0a1.3,1.3 0 1,0 -2.6,0M169.30,949.20a1.3,1.3 0 1,0 2.6,0a1.3,1.3 0 1,0 -2.6,0M185.80,950.40a1.3,1.3 0 1,0 2.6,0a1.3,1.3 0 1,0 -2.6,0M181.90,877.90a1.3,1.3 0 1,0 2.6,0a1.3,1.3 0 1,0 -2.6,0M185.20,951.50a1.3,1.3 0 1,0 2.6,0a1.3,1.3 0 1,0 -2.6,0" fill="#000"/>
<rect x="158.40" y="910.30" width="48.30" height="23.10" fill="rgba(232,80,60,0.36)" stroke="#3a3a3a" stroke-width="0.9"/>
<line x1="160.40" y1="910.30" x2="160.40" y2="933.40" stroke="rgba(40,40,60,0.45)" stroke-width="0.8" />
<line x1="204.70" y1="910.30" x2="204.70" y2="933.40" stroke="rgba(40,40,60,0.3)" stroke-width="0.8" />
<line x1="158.40" y1="922.40" x2="206.70" y2="922.40" stroke="#333" stroke-width="1.3" />
<text x="168.69" y="985.30" font-size="11" fill="#000" textLength="24.88" lengthAdjust="spacingAndGlyphs" stroke="#000" stroke-width="0.2">T3-T4</text>
<line x1="182.60" y1="975.10" x2="182.60" y2="976.70" stroke="#333" stroke-width="0.8" />
<line x1="80.60" y1="842.30" x2="220.70" y2="842.30" stroke="#707070" stroke-width="1.2" />
<line x1="220.70" y1="842.30" x2="220.70" y2="975.10" stroke="#9a9a9a" stroke-width="1.2" />
<line x1="80.60" y1="975.10" x2="220.70" y2="975.10" stroke="#3a3a3a" stroke-width="1.2" />
<line x1="80.60" y1="841.70" x2="80.60" y2="975.70" stroke="#333" stroke-width="1.2" />
<line x1="78.80" y1="953.70" x2="80.60" y2="953.70" stroke="#333" stroke-width="0.8" />
<text x="64.31" y="957.50" font-size="10.8" fill="#000" textLength="13.47" lengthAdjust="spacingAndGlyphs" stroke="#000" stroke-width="0.08">2.0</text>
<line x1="78.80" y1="927.50" x2="80.60" y2="927.50" stroke="#333" stroke-width="0.8" />
<text x="64.31" y="931.30" font-size="10.8" fill="#000" textLength="13.50" lengthAdjust="spacingAndGlyphs" stroke="#000" stroke-width="0.08">2.5</text>
<line x1="78.80" y1="901.30" x2="80.60" y2="901.30" stroke="#333" stroke-width="0.8" />
<text x="64.43" y="905.10" font-size="10.8" fill="#000" textLength="13.34" lengthAdjust="spacingAndGlyphs" stroke="#000" stroke-width="0.08">3.0</text>
<line x1="78.80" y1="875.10" x2="80.60" y2="875.10" stroke="#333" stroke-width="0.8" />
<text x="64.43" y="878.90" font-size="10.8" fill="#000" textLength="13.37" lengthAdjust="spacingAndGlyphs" stroke="#000" stroke-width="0.08">3.5</text>
<line x1="78.80" y1="848.90" x2="80.60" y2="848.90" stroke="#333" stroke-width="0.8" />
<text x="64.58" y="852.70" font-size="10.8" fill="#000" textLength="13.19" lengthAdjust="spacingAndGlyphs" stroke="#000" stroke-width="0.08">4.0</text>
<path d="M118.60,851.80V848.40H182.60V851.80" fill="none" stroke="#333" stroke-width="0.8"/>
<polygon points="151.60,843.10 152.22,844.55 153.79,844.69 152.60,845.72 152.95,847.26 151.60,846.45 150.25,847.26 150.60,845.72 149.41,844.69 150.98,844.55" fill="#000"/>
<text x="0" y="0" font-size="11" text-anchor="middle" transform="translate(61.90,908.70) rotate(-90)">Risk Score</text>
<line x1="298.50" y1="965.05" x2="438.30" y2="965.05" stroke="#F3F3F3" stroke-width="0.6" />
<line x1="298.50" y1="938.75" x2="438.30" y2="938.75" stroke="#F3F3F3" stroke-width="0.6" />
<line x1="298.50" y1="912.45" x2="438.30" y2="912.45" stroke="#F3F3F3" stroke-width="0.6" />
<line x1="298.50" y1="886.15" x2="438.30" y2="886.15" stroke="#F3F3F3" stroke-width="0.6" />
<line x1="298.50" y1="859.85" x2="438.30" y2="859.85" stroke="#F3F3F3" stroke-width="0.6" />
<line x1="298.50" y1="951.90" x2="438.30" y2="951.90" stroke="#E6E6E6" stroke-width="0.9" />
<line x1="298.50" y1="925.60" x2="438.30" y2="925.60" stroke="#E6E6E6" stroke-width="0.9" />
<line x1="298.50" y1="899.30" x2="438.30" y2="899.30" stroke="#E6E6E6" stroke-width="0.9" />
<line x1="298.50" y1="873.00" x2="438.30" y2="873.00" stroke="#E6E6E6" stroke-width="0.9" />
<line x1="298.50" y1="846.70" x2="438.30" y2="846.70" stroke="#E6E6E6" stroke-width="0.9" />
<line x1="336.40" y1="840.40" x2="336.40" y2="973.30" stroke="#E6E6E6" stroke-width="0.9" />
<line x1="400.20" y1="840.40" x2="400.20" y2="973.30" stroke="#E6E6E6" stroke-width="0.9" />
<line x1="336.40" y1="894.00" x2="336.40" y2="917.70" stroke="#8a8a8a" stroke-width="0.9" />
<line x1="336.40" y1="940.70" x2="336.40" y2="967.00" stroke="#8a8a8a" stroke-width="0.9" />
<path d="M346.34,932.81a1.3,1.3 0 1,0 2.6,0a1.3,1.3 0 1,0 -2.6,0M339.18,947.12a1.3,1.3 0 1,0 2.6,0a1.3,1.3 0 1,0 -2.6,0M345.55,947.97a1.3,1.3 0 1,0 2.6,0a1.3,1.3 0 1,0 -2.6,0M338.24,942.26a1.3,1.3 0 1,0 2.6,0a1.3,1.3 0 1,0 -2.6,0M322.33,940.87a1.3,1.3 0 1,0 2.6,0a1.3,1.3 0 1,0 -2.6,0M322.91,938.72a1.3,1.3 0 1,0 2.6,0a1.3,1.3 0 1,0 -2.6,0M345.79,951.45a1.3,1.3 0 1,0 2.6,0a1.3,1.3 0 1,0 -2.6,0M336.74,910.98a1.3,1.3 0 1,0 2.6,0a1.3,1.3 0 1,0 -2.6,0M323.30,932.64a1.3,1.3 0 1,0 2.6,0a1.3,1.3 0 1,0 -2.6,0M340.70,951.36a1.3,1.3 0 1,0 2.6,0a1.3,1.3 0 1,0 -2.6,0M328.07,932.80a1.3,1.3 0 1,0 2.6,0a1.3,1.3 0 1,0 -2.6,0M338.53,928.37a1.3,1.3 0 1,0 2.6,0a1.3,1.3 0 1,0 -2.6,0M343.33,922.85a1.3,1.3 0 1,0 2.6,0a1.3,1.3 0 1,0 -2.6,0M329.48,965.88a1.3,1.3 0 1,0 2.6,0a1.3,1.3 0 1,0 -2.6,0M333.16,931.05a1.3,1.3 0 1,0 2.6,0a1.3,1.3 0 1,0 -2.6,0M343.41,942.96a1.3,1.3 0 1,0 2.6,0a1.3,1.3 0 1,0 -2.6,0M336.06,905.13a1.3,1.3 0 1,0 2.6,0a1.3,1.3 0 1,0 -2.6,0M324.95,916.56a1.3,1.3 0 1,0 2.6,0a1.3,1.3 0 1,0 -2.6,0M323.48,928.49a1.3,1.3 0 1,0 2.6,0a1.3,1.3 0 1,0 -2.6,0M336.46,924.92a1.3,1.3 0 1,0 2.6,0a1.3,1.3 0 1,0 -2.6,0M343.15,947.13a1.3,1.3 0 1,0 2.6,0a1.3,1.3 0 1,0 -2.6,0M331.55,919.36a1.3,1.3 0 1,0 2.6,0a1.3,1.3 0 1,0 -2.6,0M335.23,936.34a1.3,1.3 0 1,0 2.6,0a1.3,1.3 0 1,0 -2.6,0M327.13,928.18a1.3,1.3 0 1,0 2.6,0a1.3,1.3 0 1,0 -2.6,0M326.89,920.78a1.3,1.3 0 1,0 2.6,0a1.3,1.3 0 1,0 -2.6,0M325.10,915.36a1.3,1.3 0 1,0 2.6,0a1.3,1.3 0 1,0 -2.6,0M345.19,931.10a1.3,1.3 0 1,0 2.6,0a1.3,1.3 0 1,0 -2.6,0M341.81,947.15a1.3,1.3 0 1,0 2.6,0a1.3,1.3 0 1,0 -2.6,0M342.78,939.84a1.3,1.3 0 1,0 2.6,0a1.3,1.3 0 1,0 -2.6,0M345.03,932.88a1.3,1.3 0 1,0 2.6,0a1.3,1.3 0 1,0 -2.6,0M331.37,932.81a1.3,1.3 0 1,0 2.6,0a1.3,1.3 0 1,0 -2.6,0M344.91,947.98a1.3,1.3 0 1,0 2.6,0a1.3,1.3 0 1,0 -2.6,0M332.91,915.15a1.3,1.3 0 1,0 2.6,0a1.3,1.3 0 1,0 -2.6,0M334.85,922.47a1.3,1.3 0 1,0 2.6,0a1.3,1.3 0 1,0 -2.6,0M339.64,930.56a1.3,1.3 0 1,0 2.6,0a1.3,1.3 0 1,0 -2.6,0M336.88,928.53a1.3,1.3 0 1,0 2.6,0a1.3,1.3 0 1,0 -2.6,0M325.40,955.14a1.3,1.3 0 1,0 2.6,0a1.3,1.3 0 1,0 -2.6,0M324.30,936.25a1.3,1.3 0 1,0 2.6,0a1.3,1.3 0 1,0 -2.6,0M326.12,913.25a1.3,1.3 0 1,0 2.6,0a1.3,1.3 0 1,0 -2.6,0M346.83,958.02a1.3,1.3 0 1,0 2.6,0a1.3,1.3 0 1,0 -2.6,0M332.85,941.00a1.3,1.3 0 1,0 2.6,0a1.3,1.3 0 1,0 -2.6,0M340.65,923.91a1.3,1.3 0 1,0 2.6,0a1.3,1.3 0 1,0 -2.6,0M330.00,933.85a1.3,1.3 0 1,0 2.6,0a1.3,1.3 0 1,0 -2.6,0M342.29,930.19a1.3,1.3 0 1,0 2.6,0a1.3,1.3 0 1,0 -2.6,0M334.70,933.64a1.3,1.3 0 1,0 2.6,0a1.3,1.3 0 1,0 -2.6,0M337.72,951.31a1.3,1.3 0 1,0 2.6,0a1.3,1.3 0 1,0 -2.6,0M345.19,947.36a1.3,1.3 0 1,0 2.6,0a1.3,1.3 0 1,0 -2.6,0M333.93,910.33a1.3,1.3 0 1,0 2.6,0a1.3,1.3 0 1,0 -2.6,0M344.27,909.64a1.3,1.3 0 1,0 2.6,0a1.3,1.3 0 1,0 -2.6,0M340.67,931.36a1.3,1.3 0 1,0 2.6,0a1.3,1.3 0 1,0 -2.6,0M331.77,949.05a1.3,1.3 0 1,0 2.6,0a1.3,1.3 0 1,0 -2.6,0M327.76,945.43a1.3,1.3 0 1,0 2.6,0a1.3,1.3 0 1,0 -2.6,0M327.20,910.28a1.3,1.3 0 1,0 2.6,0a1.3,1.3 0 1,0 -2.6,0M344.52,917.68a1.3,1.3 0 1,0 2.6,0a1.3,1.3 0 1,0 -2.6,0M334.91,954.66a1.3,1.3 0 1,0 2.6,0a1.3,1.3 0 1,0 -2.6,0M331.12,929.63a1.3,1.3 0 1,0 2.6,0a1.3,1.3 0 1,0 -2.6,0M328.57,914.24a1.3,1.3 0 1,0 2.6,0a1.3,1.3 0 1,0 -2.6,0M347.27,904.64a1.3,1.3 0 1,0 2.6,0a1.3,1.3 0 1,0 -2.6,0M335.54,910.97a1.3,1.3 0 1,0 2.6,0a1.3,1.3 0 1,0 -2.6,0M326.49,947.56a1.3,1.3 0 1,0 2.6,0a1.3,1.3 0 1,0 -2.6,0M341.11,950.89a1.3,1.3 0 1,0 2.6,0a1.3,1.3 0 1,0 -2.6,0M329.63,946.80a1.3,1.3 0 1,0 2.6,0a1.3,1.3 0 1,0 -2.6,0M334.10,929.71a1.3,1.3 0 1,0 2.6,0a1.3,1.3 0 1,0 -2.6,0M323.20,939.08a1.3,1.3 0 1,0 2.6,0a1.3,1.3 0 1,0 -2.6,0M322.93,954.48a1.3,1.3 0 1,0 2.6,0a1.3,1.3 0 1,0 -2.6,0M335.45,938.94a1.3,1.3 0 1,0 2.6,0a1.3,1.3 0 1,0 -2.6,0M338.76,932.44a1.3,1.3 0 1,0 2.6,0a1.3,1.3 0 1,0 -2.6,0M346.71,935.73a1.3,1.3 0 1,0 2.6,0a1.3,1.3 0 1,0 -2.6,0M335.40,900.33a1.3,1.3 0 1,0 2.6,0a1.3,1.3 0 1,0 -2.6,0M332.11,930.02a1.3,1.3 0 1,0 2.6,0a1.3,1.3 0 1,0 -2.6,0M329.25,910.67a1.3,1.3 0 1,0 2.6,0a1.3,1.3 0 1,0 -2.6,0M339.24,927.70a1.3,1.3 0 1,0 2.6,0a1.3,1.3 0 1,0 -2.6,0M322.93,941.65a1.3,1.3 0 1,0 2.6,0a1.3,1.3 0 1,0 -2.6,0M326.53,901.99a1.3,1.3 0 1,0 2.6,0a1.3,1.3 0 1,0 -2.6,0M331.19,927.25a1.3,1.3 0 1,0 2.6,0a1.3,1.3 0 1,0 -2.6,0M330.69,940.32a1.3,1.3 0 1,0 2.6,0a1.3,1.3 0 1,0 -2.6,0M328.73,944.07a1.3,1.3 0 1,0 2.6,0a1.3,1.3 0 1,0 -2.6,0M342.76,946.26a1.3,1.3 0 1,0 2.6,0a1.3,1.3 0 1,0 -2.6,0M346.11,919.06a1.3,1.3 0 1,0 2.6,0a1.3,1.3 0 1,0 -2.6,0M328.40,928.05a1.3,1.3 0 1,0 2.6,0a1.3,1.3 0 1,0 -2.6,0M345.19,931.32a1.3,1.3 0 1,0 2.6,0a1.3,1.3 0 1,0 -2.6,0M339.37,928.64a1.3,1.3 0 1,0 2.6,0a1.3,1.3 0 1,0 -2.6,0M327.88,953.00a1.3,1.3 0 1,0 2.6,0a1.3,1.3 0 1,0 -2.6,0M340.90,929.80a1.3,1.3 0 1,0 2.6,0a1.3,1.3 0 1,0 -2.6,0M340.41,923.23a1.3,1.3 0 1,0 2.6,0a1.3,1.3 0 1,0 -2.6,0M326.18,924.31a1.3,1.3 0 1,0 2.6,0a1.3,1.3 0 1,0 -2.6,0M339.63,914.99a1.3,1.3 0 1,0 2.6,0a1.3,1.3 0 1,0 -2.6,0M325.90,926.56a1.3,1.3 0 1,0 2.6,0a1.3,1.3 0 1,0 -2.6,0M337.95,938.09a1.3,1.3 0 1,0 2.6,0a1.3,1.3 0 1,0 -2.6,0M344.65,904.96a1.3,1.3 0 1,0 2.6,0a1.3,1.3 0 1,0 -2.6,0M338.65,934.55a1.3,1.3 0 1,0 2.6,0a1.3,1.3 0 1,0 -2.6,0M329.97,934.62a1.3,1.3 0 1,0 2.6,0a1.3,1.3 0 1,0 -2.6,0M342.78,942.49a1.3,1.3 0 1,0 2.6,0a1.3,1.3 0 1,0 -2.6,0M330.32,923.33a1.3,1.3 0 1,0 2.6,0a1.3,1.3 0 1,0 -2.6,0M337.57,961.11a1.3,1.3 0 1,0 2.6,0a1.3,1.3 0 1,0 -2.6,0M338.47,912.63a1.3,1.3 0 1,0 2.6,0a1.3,1.3 0 1,0 -2.6,0M329.40,950.95a1.3,1.3 0 1,0 2.6,0a1.3,1.3 0 1,0 -2.6,0M328.83,936.60a1.3,1.3 0 1,0 2.6,0a1.3,1.3 0 1,0 -2.6,0M345.50,911.50a1.3,1.3 0 1,0 2.6,0a1.3,1.3 0 1,0 -2.6,0M324.27,917.04a1.3,1.3 0 1,0 2.6,0a1.3,1.3 0 1,0 -2.6,0M329.67,941.32a1.3,1.3 0 1,0 2.6,0a1.3,1.3 0 1,0 -2.6,0M333.57,948.33a1.3,1.3 0 1,0 2.6,0a1.3,1.3 0 1,0 -2.6,0M339.49,942.80a1.3,1.3 0 1,0 2.6,0a1.3,1.3 0 1,0 -2.6,0M331.90,936.44a1.3,1.3 0 1,0 2.6,0a1.3,1.3 0 1,0 -2.6,0M331.95,927.82a1.3,1.3 0 1,0 2.6,0a1.3,1.3 0 1,0 -2.6,0M341.07,925.34a1.3,1.3 0 1,0 2.6,0a1.3,1.3 0 1,0 -2.6,0M330.29,926.80a1.3,1.3 0 1,0 2.6,0a1.3,1.3 0 1,0 -2.6,0M341.86,927.97a1.3,1.3 0 1,0 2.6,0a1.3,1.3 0 1,0 -2.6,0M342.30,919.26a1.3,1.3 0 1,0 2.6,0a1.3,1.3 0 1,0 -2.6,0M329.19,941.56a1.3,1.3 0 1,0 2.6,0a1.3,1.3 0 1,0 -2.6,0M343.48,921.78a1.3,1.3 0 1,0 2.6,0a1.3,1.3 0 1,0 -2.6,0M331.02,921.85a1.3,1.3 0 1,0 2.6,0a1.3,1.3 0 1,0 -2.6,0M347.08,937.01a1.3,1.3 0 1,0 2.6,0a1.3,1.3 0 1,0 -2.6,0M330.40,924.03a1.3,1.3 0 1,0 2.6,0a1.3,1.3 0 1,0 -2.6,0M346.02,936.52a1.3,1.3 0 1,0 2.6,0a1.3,1.3 0 1,0 -2.6,0M347.48,936.45a1.3,1.3 0 1,0 2.6,0a1.3,1.3 0 1,0 -2.6,0M336.07,920.09a1.3,1.3 0 1,0 2.6,0a1.3,1.3 0 1,0 -2.6,0M344.50,939.47a1.3,1.3 0 1,0 2.6,0a1.3,1.3 0 1,0 -2.6,0M332.41,925.20a1.3,1.3 0 1,0 2.6,0a1.3,1.3 0 1,0 -2.6,0M345.87,925.83a1.3,1.3 0 1,0 2.6,0a1.3,1.3 0 1,0 -2.6,0M328.13,914.95a1.3,1.3 0 1,0 2.6,0a1.3,1.3 0 1,0 -2.6,0M335.58,915.90a1.3,1.3 0 1,0 2.6,0a1.3,1.3 0 1,0 -2.6,0M339.11,910.97a1.3,1.3 0 1,0 2.6,0a1.3,1.3 0 1,0 -2.6,0M336.17,929.56a1.3,1.3 0 1,0 2.6,0a1.3,1.3 0 1,0 -2.6,0M341.63,931.12a1.3,1.3 0 1,0 2.6,0a1.3,1.3 0 1,0 -2.6,0M326.49,906.71a1.3,1.3 0 1,0 2.6,0a1.3,1.3 0 1,0 -2.6,0M343.32,947.46a1.3,1.3 0 1,0 2.6,0a1.3,1.3 0 1,0 -2.6,0M328.66,947.54a1.3,1.3 0 1,0 2.6,0a1.3,1.3 0 1,0 -2.6,0M343.04,935.70a1.3,1.3 0 1,0 2.6,0a1.3,1.3 0 1,0 -2.6,0M336.61,945.57a1.3,1.3 0 1,0 2.6,0a1.3,1.3 0 1,0 -2.6,0M335.07,944.17a1.3,1.3 0 1,0 2.6,0a1.3,1.3 0 1,0 -2.6,0M323.40,942.68a1.3,1.3 0 1,0 2.6,0a1.3,1.3 0 1,0 -2.6,0M344.25,914.23a1.3,1.3 0 1,0 2.6,0a1.3,1.3 0 1,0 -2.6,0M330.48,944.36a1.3,1.3 0 1,0 2.6,0a1.3,1.3 0 1,0 -2.6,0M325.89,912.34a1.3,1.3 0 1,0 2.6,0a1.3,1.3 0 1,0 -2.6,0M331.23,917.38a1.3,1.3 0 1,0 2.6,0a1.3,1.3 0 1,0 -2.6,0M340.17,910.17a1.3,1.3 0 1,0 2.6,0a1.3,1.3 0 1,0 -2.6,0M338.14,937.64a1.3,1.3 0 1,0 2.6,0a1.3,1.3 0 1,0 -2.6,0M346.68,953.94a1.3,1.3 0 1,0 2.6,0a1.3,1.3 0 1,0 -2.6,0M331.61,930.77a1.3,1.3 0 1,0 2.6,0a1.3,1.3 0 1,0 -2.6,0M346.58,915.60a1.3,1.3 0 1,0 2.6,0a1.3,1.3 0 1,0 -2.6,0M335.11,943.26a1.3,1.3 0 1,0 2.6,0a1.3,1.3 0 1,0 -2.6,0M329.99,963.14a1.3,1.3 0 1,0 2.6,0a1.3,1.3 0 1,0 -2.6,0M346.31,925.39a1.3,1.3 0 1,0 2.6,0a1.3,1.3 0 1,0 -2.6,0M345.42,898.70a1.3,1.3 0 1,0 2.6,0a1.3,1.3 0 1,0 -2.6,0M328.92,952.19a1.3,1.3 0 1,0 2.6,0a1.3,1.3 0 1,0 -2.6,0M343.42,943.91a1.3,1.3 0 1,0 2.6,0a1.3,1.3 0 1,0 -2.6,0M330.15,948.76a1.3,1.3 0 1,0 2.6,0a1.3,1.3 0 1,0 -2.6,0M336.59,903.85a1.3,1.3 0 1,0 2.6,0a1.3,1.3 0 1,0 -2.6,0M326.83,937.48a1.3,1.3 0 1,0 2.6,0a1.3,1.3 0 1,0 -2.6,0M342.20,893.00a1.3,1.3 0 1,0 2.6,0a1.3,1.3 0 1,0 -2.6,0M344.70,968.00a1.3,1.3 0 1,0 2.6,0a1.3,1.3 0 1,0 -2.6,0M327.70,969.00a1.3,1.3 0 1,0 2.6,0a1.3,1.3 0 1,0 -2.6,0" fill="#000"/>
<rect x="312.50" y="917.70" width="47.90" height="23.00" fill="rgba(55,80,140,0.33)" stroke="#3a3a3a" stroke-width="0.9"/>
<line x1="314.50" y1="917.70" x2="314.50" y2="940.70" stroke="rgba(40,40,60,0.45)" stroke-width="0.8" />
<line x1="358.40" y1="917.70" x2="358.40" y2="940.70" stroke="rgba(40,40,60,0.3)" stroke-width="0.8" />
<line x1="312.50" y1="929.40" x2="360.40" y2="929.40" stroke="#333" stroke-width="1.3" />
<text x="320.73" y="985.30" font-size="11" fill="#000" textLength="27.23" lengthAdjust="spacingAndGlyphs" stroke="#000" stroke-width="0.2">N0-N1</text>
<line x1="336.40" y1="973.30" x2="336.40" y2="974.90" stroke="#333" stroke-width="0.8" />
<line x1="400.20" y1="881.40" x2="400.20" y2="910.00" stroke="#8a8a8a" stroke-width="0.9" />
<line x1="400.20" y1="931.20" x2="400.20" y2="959.30" stroke="#8a8a8a" stroke-width="0.9" />
<circle cx="400.20" cy="851.50" r="1.1" fill="#C8C8C8"/>
<path d="M393.28,897.97a1.3,1.3 0 1,0 2.6,0a1.3,1.3 0 1,0 -2.6,0M395.50,908.05a1.3,1.3 0 1,0 2.6,0a1.3,1.3 0 1,0 -2.6,0M395.50,918.21a1.3,1.3 0 1,0 2.6,0a1.3,1.3 0 1,0 -2.6,0M406.08,926.14a1.3,1.3 0 1,0 2.6,0a1.3,1.3 0 1,0 -2.6,0M406.61,921.89a1.3,1.3 0 1,0 2.6,0a1.3,1.3 0 1,0 -2.6,0M405.70,936.24a1.3,1.3 0 1,0 2.6,0a1.3,1.3 0 1,0 -2.6,0M396.45,916.90a1.3,1.3 0 1,0 2.6,0a1.3,1.3 0 1,0 -2.6,0M411.69,906.16a1.3,1.3 0 1,0 2.6,0a1.3,1.3 0 1,0 -2.6,0M395.58,922.52a1.3,1.3 0 1,0 2.6,0a1.3,1.3 0 1,0 -2.6,0M398.66,932.97a1.3,1.3 0 1,0 2.6,0a1.3,1.3 0 1,0 -2.6,0M396.47,916.25a1.3,1.3 0 1,0 2.6,0a1.3,1.3 0 1,0 -2.6,0M399.05,921.31a1.3,1.3 0 1,0 2.6,0a1.3,1.3 0 1,0 -2.6,0M402.02,939.66a1.3,1.3 0 1,0 2.6,0a1.3,1.3 0 1,0 -2.6,0M410.68,912.32a1.3,1.3 0 1,0 2.6,0a1.3,1.3 0 1,0 -2.6,0M411.37,937.81a1.3,1.3 0 1,0 2.6,0a1.3,1.3 0 1,0 -2.6,0M396.55,922.39a1.3,1.3 0 1,0 2.6,0a1.3,1.3 0 1,0 -2.6,0M399.91,943.10a1.3,1.3 0 1,0 2.6,0a1.3,1.3 0 1,0 -2.6,0M397.85,910.65a1.3,1.3 0 1,0 2.6,0a1.3,1.3 0 1,0 -2.6,0M390.37,912.50a1.3,1.3 0 1,0 2.6,0a1.3,1.3 0 1,0 -2.6,0M396.05,923.19a1.3,1.3 0 1,0 2.6,0a1.3,1.3 0 1,0 -2.6,0M390.05,942.21a1.3,1.3 0 1,0 2.6,0a1.3,1.3 0 1,0 -2.6,0M398.61,906.74a1.3,1.3 0 1,0 2.6,0a1.3,1.3 0 1,0 -2.6,0M404.48,915.97a1.3,1.3 0 1,0 2.6,0a1.3,1.3 0 1,0 -2.6,0M402.15,911.87a1.3,1.3 0 1,0 2.6,0a1.3,1.3 0 1,0 -2.6,0M395.05,955.66a1.3,1.3 0 1,0 2.6,0a1.3,1.3 0 1,0 -2.6,0M386.55,946.55a1.3,1.3 0 1,0 2.6,0a1.3,1.3 0 1,0 -2.6,0M397.40,929.09a1.3,1.3 0 1,0 2.6,0a1.3,1.3 0 1,0 -2.6,0M409.61,924.98a1.3,1.3 0 1,0 2.6,0a1.3,1.3 0 1,0 -2.6,0M411.20,896.73a1.3,1.3 0 1,0 2.6,0a1.3,1.3 0 1,0 -2.6,0M398.39,910.14a1.3,1.3 0 1,0 2.6,0a1.3,1.3 0 1,0 -2.6,0M390.97,917.07a1.3,1.3 0 1,0 2.6,0a1.3,1.3 0 1,0 -2.6,0M399.78,934.92a1.3,1.3 0 1,0 2.6,0a1.3,1.3 0 1,0 -2.6,0M388.56,933.11a1.3,1.3 0 1,0 2.6,0a1.3,1.3 0 1,0 -2.6,0M386.62,924.37a1.3,1.3 0 1,0 2.6,0a1.3,1.3 0 1,0 -2.6,0M388.80,901.70a1.3,1.3 0 1,0 2.6,0a1.3,1.3 0 1,0 -2.6,0M392.25,934.31a1.3,1.3 0 1,0 2.6,0a1.3,1.3 0 1,0 -2.6,0M401.21,919.57a1.3,1.3 0 1,0 2.6,0a1.3,1.3 0 1,0 -2.6,0M394.69,920.51a1.3,1.3 0 1,0 2.6,0a1.3,1.3 0 1,0 -2.6,0M400.90,919.90a1.3,1.3 0 1,0 2.6,0a1.3,1.3 0 1,0 -2.6,0M398.39,916.80a1.3,1.3 0 1,0 2.6,0a1.3,1.3 0 1,0 -2.6,0M386.26,889.76a1.3,1.3 0 1,0 2.6,0a1.3,1.3 0 1,0 -2.6,0M405.70,922.66a1.3,1.3 0 1,0 2.6,0a1.3,1.3 0 1,0 -2.6,0M400.65,910.22a1.3,1.3 0 1,0 2.6,0a1.3,1.3 0 1,0 -2.6,0M392.62,917.33a1.3,1.3 0 1,0 2.6,0a1.3,1.3 0 1,0 -2.6,0M402.31,922.82a1.3,1.3 0 1,0 2.6,0a1.3,1.3 0 1,0 -2.6,0M400.74,911.15a1.3,1.3 0 1,0 2.6,0a1.3,1.3 0 1,0 -2.6,0M395.58,923.86a1.3,1.3 0 1,0 2.6,0a1.3,1.3 0 1,0 -2.6,0M400.87,907.27a1.3,1.3 0 1,0 2.6,0a1.3,1.3 0 1,0 -2.6,0M389.69,905.47a1.3,1.3 0 1,0 2.6,0a1.3,1.3 0 1,0 -2.6,0M396.33,917.96a1.3,1.3 0 1,0 2.6,0a1.3,1.3 0 1,0 -2.6,0M399.40,905.11a1.3,1.3 0 1,0 2.6,0a1.3,1.3 0 1,0 -2.6,0M406.06,908.01a1.3,1.3 0 1,0 2.6,0a1.3,1.3 0 1,0 -2.6,0M389.25,937.64a1.3,1.3 0 1,0 2.6,0a1.3,1.3 0 1,0 -2.6,0M389.47,936.61a1.3,1.3 0 1,0 2.6,0a1.3,1.3 0 1,0 -2.6,0M402.24,920.25a1.3,1.3 0 1,0 2.6,0a1.3,1.3 0 1,0 -2.6,0M386.53,923.27a1.3,1.3 0 1,0 2.6,0a1.3,1.3 0 1,0 -2.6,0M404.95,944.73a1.3,1.3 0 1,0 2.6,0a1.3,1.3 0 1,0 -2.6,0M399.52,882.77a1.3,1.3 0 1,0 2.6,0a1.3,1.3 0 1,0 -2.6,0M390.92,905.88a1.3,1.3 0 1,0 2.6,0a1.3,1.3 0 1,0 -2.6,0M407.91,914.29a1.3,1.3 0 1,0 2.6,0a1.3,1.3 0 1,0 -2.6,0M400.12,931.57a1.3,1.3 0 1,0 2.6,0a1.3,1.3 0 1,0 -2.6,0M394.34,918.56a1.3,1.3 0 1,0 2.6,0a1.3,1.3 0 1,0 -2.6,0M389.45,914.51a1.3,1.3 0 1,0 2.6,0a1.3,1.3 0 1,0 -2.6,0M390.77,946.42a1.3,1.3 0 1,0 2.6,0a1.3,1.3 0 1,0 -2.6,0M400.73,931.14a1.3,1.3 0 1,0 2.6,0a1.3,1.3 0 1,0 -2.6,0M399.34,917.70a1.3,1.3 0 1,0 2.6,0a1.3,1.3 0 1,0 -2.6,0M387.85,930.37a1.3,1.3 0 1,0 2.6,0a1.3,1.3 0 1,0 -2.6,0M403.70,927.93a1.3,1.3 0 1,0 2.6,0a1.3,1.3 0 1,0 -2.6,0M405.66,919.61a1.3,1.3 0 1,0 2.6,0a1.3,1.3 0 1,0 -2.6,0M409.36,896.18a1.3,1.3 0 1,0 2.6,0a1.3,1.3 0 1,0 -2.6,0M405.06,922.43a1.3,1.3 0 1,0 2.6,0a1.3,1.3 0 1,0 -2.6,0M393.34,905.27a1.3,1.3 0 1,0 2.6,0a1.3,1.3 0 1,0 -2.6,0M391.37,923.14a1.3,1.3 0 1,0 2.6,0a1.3,1.3 0 1,0 -2.6,0M396.48,922.61a1.3,1.3 0 1,0 2.6,0a1.3,1.3 0 1,0 -2.6,0M405.93,947.29a1.3,1.3 0 1,0 2.6,0a1.3,1.3 0 1,0 -2.6,0M406.54,929.81a1.3,1.3 0 1,0 2.6,0a1.3,1.3 0 1,0 -2.6,0M410.28,952.32a1.3,1.3 0 1,0 2.6,0a1.3,1.3 0 1,0 -2.6,0M408.68,909.61a1.3,1.3 0 1,0 2.6,0a1.3,1.3 0 1,0 -2.6,0M409.02,920.19a1.3,1.3 0 1,0 2.6,0a1.3,1.3 0 1,0 -2.6,0M391.06,902.39a1.3,1.3 0 1,0 2.6,0a1.3,1.3 0 1,0 -2.6,0M390.08,911.60a1.3,1.3 0 1,0 2.6,0a1.3,1.3 0 1,0 -2.6,0M389.88,920.55a1.3,1.3 0 1,0 2.6,0a1.3,1.3 0 1,0 -2.6,0M399.47,925.89a1.3,1.3 0 1,0 2.6,0a1.3,1.3 0 1,0 -2.6,0M394.33,891.82a1.3,1.3 0 1,0 2.6,0a1.3,1.3 0 1,0 -2.6,0M387.46,898.02a1.3,1.3 0 1,0 2.6,0a1.3,1.3 0 1,0 -2.6,0M395.39,927.44a1.3,1.3 0 1,0 2.6,0a1.3,1.3 0 1,0 -2.6,0M389.23,906.12a1.3,1.3 0 1,0 2.6,0a1.3,1.3 0 1,0 -2.6,0M409.20,906.55a1.3,1.3 0 1,0 2.6,0a1.3,1.3 0 1,0 -2.6,0M387.00,919.98a1.3,1.3 0 1,0 2.6,0a1.3,1.3 0 1,0 -2.6,0M392.77,890.37a1.3,1.3 0 1,0 2.6,0a1.3,1.3 0 1,0 -2.6,0M397.84,925.03a1.3,1.3 0 1,0 2.6,0a1.3,1.3 0 1,0 -2.6,0M406.31,918.78a1.3,1.3 0 1,0 2.6,0a1.3,1.3 0 1,0 -2.6,0M400.46,919.99a1.3,1.3 0 1,0 2.6,0a1.3,1.3 0 1,0 -2.6,0M407.36,944.43a1.3,1.3 0 1,0 2.6,0a1.3,1.3 0 1,0 -2.6,0M403.85,943.33a1.3,1.3 0 1,0 2.6,0a1.3,1.3 0 1,0 -2.6,0M411.50,915.63a1.3,1.3 0 1,0 2.6,0a1.3,1.3 0 1,0 -2.6,0M402.14,945.21a1.3,1.3 0 1,0 2.6,0a1.3,1.3 0 1,0 -2.6,0M395.11,916.20a1.3,1.3 0 1,0 2.6,0a1.3,1.3 0 1,0 -2.6,0M406.22,930.52a1.3,1.3 0 1,0 2.6,0a1.3,1.3 0 1,0 -2.6,0M405.51,921.54a1.3,1.3 0 1,0 2.6,0a1.3,1.3 0 1,0 -2.6,0M391.70,895.50a1.3,1.3 0 1,0 2.6,0a1.3,1.3 0 1,0 -2.6,0M386.51,938.71a1.3,1.3 0 1,0 2.6,0a1.3,1.3 0 1,0 -2.6,0M390.18,954.71a1.3,1.3 0 1,0 2.6,0a1.3,1.3 0 1,0 -2.6,0M408.52,932.62a1.3,1.3 0 1,0 2.6,0a1.3,1.3 0 1,0 -2.6,0M394.67,910.23a1.3,1.3 0 1,0 2.6,0a1.3,1.3 0 1,0 -2.6,0M394.67,910.34a1.3,1.3 0 1,0 2.6,0a1.3,1.3 0 1,0 -2.6,0M405.69,905.08a1.3,1.3 0 1,0 2.6,0a1.3,1.3 0 1,0 -2.6,0M407.02,899.77a1.3,1.3 0 1,0 2.6,0a1.3,1.3 0 1,0 -2.6,0M407.41,953.33a1.3,1.3 0 1,0 2.6,0a1.3,1.3 0 1,0 -2.6,0M399.94,934.02a1.3,1.3 0 1,0 2.6,0a1.3,1.3 0 1,0 -2.6,0M400.19,936.01a1.3,1.3 0 1,0 2.6,0a1.3,1.3 0 1,0 -2.6,0M410.12,915.13a1.3,1.3 0 1,0 2.6,0a1.3,1.3 0 1,0 -2.6,0M396.02,927.81a1.3,1.3 0 1,0 2.6,0a1.3,1.3 0 1,0 -2.6,0M401.95,904.46a1.3,1.3 0 1,0 2.6,0a1.3,1.3 0 1,0 -2.6,0M407.49,949.89a1.3,1.3 0 1,0 2.6,0a1.3,1.3 0 1,0 -2.6,0M400.61,934.29a1.3,1.3 0 1,0 2.6,0a1.3,1.3 0 1,0 -2.6,0M388.59,925.47a1.3,1.3 0 1,0 2.6,0a1.3,1.3 0 1,0 -2.6,0M389.72,903.36a1.3,1.3 0 1,0 2.6,0a1.3,1.3 0 1,0 -2.6,0M393.67,920.53a1.3,1.3 0 1,0 2.6,0a1.3,1.3 0 1,0 -2.6,0M402.52,909.95a1.3,1.3 0 1,0 2.6,0a1.3,1.3 0 1,0 -2.6,0M400.06,933.48a1.3,1.3 0 1,0 2.6,0a1.3,1.3 0 1,0 -2.6,0M390.24,926.40a1.3,1.3 0 1,0 2.6,0a1.3,1.3 0 1,0 -2.6,0M386.75,939.68a1.3,1.3 0 1,0 2.6,0a1.3,1.3 0 1,0 -2.6,0M396.90,899.73a1.3,1.3 0 1,0 2.6,0a1.3,1.3 0 1,0 -2.6,0M411.34,915.42a1.3,1.3 0 1,0 2.6,0a1.3,1.3 0 1,0 -2.6,0M407.90,922.57a1.3,1.3 0 1,0 2.6,0a1.3,1.3 0 1,0 -2.6,0M409.49,909.92a1.3,1.3 0 1,0 2.6,0a1.3,1.3 0 1,0 -2.6,0M388.03,933.65a1.3,1.3 0 1,0 2.6,0a1.3,1.3 0 1,0 -2.6,0M409.19,921.69a1.3,1.3 0 1,0 2.6,0a1.3,1.3 0 1,0 -2.6,0M403.58,950.95a1.3,1.3 0 1,0 2.6,0a1.3,1.3 0 1,0 -2.6,0M398.17,941.13a1.3,1.3 0 1,0 2.6,0a1.3,1.3 0 1,0 -2.6,0M394.08,904.75a1.3,1.3 0 1,0 2.6,0a1.3,1.3 0 1,0 -2.6,0M395.45,891.46a1.3,1.3 0 1,0 2.6,0a1.3,1.3 0 1,0 -2.6,0M401.65,937.96a1.3,1.3 0 1,0 2.6,0a1.3,1.3 0 1,0 -2.6,0M386.12,916.71a1.3,1.3 0 1,0 2.6,0a1.3,1.3 0 1,0 -2.6,0M390.59,921.41a1.3,1.3 0 1,0 2.6,0a1.3,1.3 0 1,0 -2.6,0M389.64,927.18a1.3,1.3 0 1,0 2.6,0a1.3,1.3 0 1,0 -2.6,0M410.64,928.90a1.3,1.3 0 1,0 2.6,0a1.3,1.3 0 1,0 -2.6,0M391.64,938.37a1.3,1.3 0 1,0 2.6,0a1.3,1.3 0 1,0 -2.6,0M390.73,909.48a1.3,1.3 0 1,0 2.6,0a1.3,1.3 0 1,0 -2.6,0M401.24,940.69a1.3,1.3 0 1,0 2.6,0a1.3,1.3 0 1,0 -2.6,0M398.35,925.88a1.3,1.3 0 1,0 2.6,0a1.3,1.3 0 1,0 -2.6,0M405.85,933.43a1.3,1.3 0 1,0 2.6,0a1.3,1.3 0 1,0 -2.6,0M397.55,937.44a1.3,1.3 0 1,0 2.6,0a1.3,1.3 0 1,0 -2.6,0M402.90,906.92a1.3,1.3 0 1,0 2.6,0a1.3,1.3 0 1,0 -2.6,0M406.00,917.00a1.3,1.3 0 1,0 2.6,0a1.3,1.3 0 1,0 -2.6,0M409.84,923.41a1.3,1.3 0 1,0 2.6,0a1.3,1.3 0 1,0 -2.6,0M397.80,923.65a1.3,1.3 0 1,0 2.6,0a1.3,1.3 0 1,0 -2.6,0M404.45,920.50a1.3,1.3 0 1,0 2.6,0a1.3,1.3 0 1,0 -2.6,0M399.13,927.35a1.3,1.3 0 1,0 2.6,0a1.3,1.3 0 1,0 -2.6,0M402.19,934.09a1.3,1.3 0 1,0 2.6,0a1.3,1.3 0 1,0 -2.6,0M389.46,904.35a1.3,1.3 0 1,0 2.6,0a1.3,1.3 0 1,0 -2.6,0M386.14,900.77a1.3,1.3 0 1,0 2.6,0a1.3,1.3 0 1,0 -2.6,0M410.35,931.06a1.3,1.3 0 1,0 2.6,0a1.3,1.3 0 1,0 -2.6,0M401.31,923.68a1.3,1.3 0 1,0 2.6,0a1.3,1.3 0 1,0 -2.6,0M394.12,923.39a1.3,1.3 0 1,0 2.6,0a1.3,1.3 0 1,0 -2.6,0M394.62,927.90a1.3,1.3 0 1,0 2.6,0a1.3,1.3 0 1,0 -2.6,0M388.61,931.84a1.3,1.3 0 1,0 2.6,0a1.3,1.3 0 1,0 -2.6,0M391.59,899.29a1.3,1.3 0 1,0 2.6,0a1.3,1.3 0 1,0 -2.6,0M406.10,919.73a1.3,1.3 0 1,0 2.6,0a1.3,1.3 0 1,0 -2.6,0M391.14,941.80a1.3,1.3 0 1,0 2.6,0a1.3,1.3 0 1,0 -2.6,0M400.88,916.38a1.3,1.3 0 1,0 2.6,0a1.3,1.3 0 1,0 -2.6,0M406.78,901.39a1.3,1.3 0 1,0 2.6,0a1.3,1.3 0 1,0 -2.6,0M392.45,900.50a1.3,1.3 0 1,0 2.6,0a1.3,1.3 0 1,0 -2.6,0M398.77,891.28a1.3,1.3 0 1,0 2.6,0a1.3,1.3 0 1,0 -2.6,0M392.37,910.96a1.3,1.3 0 1,0 2.6,0a1.3,1.3 0 1,0 -2.6,0M386.12,920.23a1.3,1.3 0 1,0 2.6,0a1.3,1.3 0 1,0 -2.6,0M406.04,926.48a1.3,1.3 0 1,0 2.6,0a1.3,1.3 0 1,0 -2.6,0M391.22,925.43a1.3,1.3 0 1,0 2.6,0a1.3,1.3 0 1,0 -2.6,0M400.72,915.55a1.3,1.3 0 1,0 2.6,0a1.3,1.3 0 1,0 -2.6,0M411.51,894.85a1.3,1.3 0 1,0 2.6,0a1.3,1.3 0 1,0 -2.6,0M402.59,938.66a1.3,1.3 0 1,0 2.6,0a1.3,1.3 0 1,0 -2.6,0M390.49,925.71a1.3,1.3 0 1,0 2.6,0a1.3,1.3 0 1,0 -2.6,0M396.14,944.51a1.3,1.3 0 1,0 2.6,0a1.3,1.3 0 1,0 -2.6,0M398.62,922.54a1.3,1.3 0 1,0 2.6,0a1.3,1.3 0 1,0 -2.6,0M410.80,906.49a1.3,1.3 0 1,0 2.6,0a1.3,1.3 0 1,0 -2.6,0M395.20,911.72a1.3,1.3 0 1,0 2.6,0a1.3,1.3 0 1,0 -2.6,0M391.32,927.03a1.3,1.3 0 1,0 2.6,0a1.3,1.3 0 1,0 -2.6,0M389.94,938.90a1.3,1.3 0 1,0 2.6,0a1.3,1.3 0 1,0 -2.6,0M400.17,944.18a1.3,1.3 0 1,0 2.6,0a1.3,1.3 0 1,0 -2.6,0M398.32,903.36a1.3,1.3 0 1,0 2.6,0a1.3,1.3 0 1,0 -2.6,0M386.25,932.87a1.3,1.3 0 1,0 2.6,0a1.3,1.3 0 1,0 -2.6,0M408.20,899.50a1.3,1.3 0 1,0 2.6,0a1.3,1.3 0 1,0 -2.6,0M391.89,929.12a1.3,1.3 0 1,0 2.6,0a1.3,1.3 0 1,0 -2.6,0M406.16,940.05a1.3,1.3 0 1,0 2.6,0a1.3,1.3 0 1,0 -2.6,0M401.20,952.85a1.3,1.3 0 1,0 2.6,0a1.3,1.3 0 1,0 -2.6,0M411.02,944.13a1.3,1.3 0 1,0 2.6,0a1.3,1.3 0 1,0 -2.6,0M401.41,924.32a1.3,1.3 0 1,0 2.6,0a1.3,1.3 0 1,0 -2.6,0M393.07,904.63a1.3,1.3 0 1,0 2.6,0a1.3,1.3 0 1,0 -2.6,0M397.83,917.63a1.3,1.3 0 1,0 2.6,0a1.3,1.3 0 1,0 -2.6,0M393.48,949.38a1.3,1.3 0 1,0 2.6,0a1.3,1.3 0 1,0 -2.6,0M387.60,918.59a1.3,1.3 0 1,0 2.6,0a1.3,1.3 0 1,0 -2.6,0M393.33,928.43a1.3,1.3 0 1,0 2.6,0a1.3,1.3 0 1,0 -2.6,0M398.24,922.80a1.3,1.3 0 1,0 2.6,0a1.3,1.3 0 1,0 -2.6,0M404.41,905.20a1.3,1.3 0 1,0 2.6,0a1.3,1.3 0 1,0 -2.6,0M411.39,913.09a1.3,1.3 0 1,0 2.6,0a1.3,1.3 0 1,0 -2.6,0M392.88,929.59a1.3,1.3 0 1,0 2.6,0a1.3,1.3 0 1,0 -2.6,0M387.58,913.11a1.3,1.3 0 1,0 2.6,0a1.3,1.3 0 1,0 -2.6,0M398.57,897.60a1.3,1.3 0 1,0 2.6,0a1.3,1.3 0 1,0 -2.6,0M403.76,908.69a1.3,1.3 0 1,0 2.6,0a1.3,1.3 0 1,0 -2.6,0M405.24,917.10a1.3,1.3 0 1,0 2.6,0a1.3,1.3 0 1,0 -2.6,0M408.76,900.27a1.3,1.3 0 1,0 2.6,0a1.3,1.3 0 1,0 -2.6,0M397.07,926.74a1.3,1.3 0 1,0 2.6,0a1.3,1.3 0 1,0 -2.6,0M389.87,910.17a1.3,1.3 0 1,0 2.6,0a1.3,1.3 0 1,0 -2.6,0M387.36,938.59a1.3,1.3 0 1,0 2.6,0a1.3,1.3 0 1,0 -2.6,0M405.98,937.62a1.3,1.3 0 1,0 2.6,0a1.3,1.3 0 1,0 -2.6,0M401.09,890.73a1.3,1.3 0 1,0 2.6,0a1.3,1.3 0 1,0 -2.6,0M388.47,925.57a1.3,1.3 0 1,0 2.6,0a1.3,1.3 0 1,0 -2.6,0M407.76,925.64a1.3,1.3 0 1,0 2.6,0a1.3,1.3 0 1,0 -2.6,0M404.72,913.62a1.3,1.3 0 1,0 2.6,0a1.3,1.3 0 1,0 -2.6,0M396.83,925.15a1.3,1.3 0 1,0 2.6,0a1.3,1.3 0 1,0 -2.6,0M395.15,919.68a1.3,1.3 0 1,0 2.6,0a1.3,1.3 0 1,0 -2.6,0M387.71,929.65a1.3,1.3 0 1,0 2.6,0a1.3,1.3 0 1,0 -2.6,0M400.03,891.24a1.3,1.3 0 1,0 2.6,0a1.3,1.3 0 1,0 -2.6,0M398.99,917.25a1.3,1.3 0 1,0 2.6,0a1.3,1.3 0 1,0 -2.6,0M393.09,943.93a1.3,1.3 0 1,0 2.6,0a1.3,1.3 0 1,0 -2.6,0M402.73,928.86a1.3,1.3 0 1,0 2.6,0a1.3,1.3 0 1,0 -2.6,0M403.73,891.33a1.3,1.3 0 1,0 2.6,0a1.3,1.3 0 1,0 -2.6,0M402.87,894.62a1.3,1.3 0 1,0 2.6,0a1.3,1.3 0 1,0 -2.6,0M396.44,939.37a1.3,1.3 0 1,0 2.6,0a1.3,1.3 0 1,0 -2.6,0M404.95,927.22a1.3,1.3 0 1,0 2.6,0a1.3,1.3 0 1,0 -2.6,0M391.30,920.76a1.3,1.3 0 1,0 2.6,0a1.3,1.3 0 1,0 -2.6,0M387.33,920.33a1.3,1.3 0 1,0 2.6,0a1.3,1.3 0 1,0 -2.6,0M388.37,928.45a1.3,1.3 0 1,0 2.6,0a1.3,1.3 0 1,0 -2.6,0M405.02,927.81a1.3,1.3 0 1,0 2.6,0a1.3,1.3 0 1,0 -2.6,0M409.74,930.98a1.3,1.3 0 1,0 2.6,0a1.3,1.3 0 1,0 -2.6,0M388.12,932.99a1.3,1.3 0 1,0 2.6,0a1.3,1.3 0 1,0 -2.6,0M404.42,947.28a1.3,1.3 0 1,0 2.6,0a1.3,1.3 0 1,0 -2.6,0M408.80,914.29a1.3,1.3 0 1,0 2.6,0a1.3,1.3 0 1,0 -2.6,0M403.80,941.13a1.3,1.3 0 1,0 2.6,0a1.3,1.3 0 1,0 -2.6,0M405.12,927.18a1.3,1.3 0 1,0 2.6,0a1.3,1.3 0 1,0 -2.6,0M398.52,881.93a1.3,1.3 0 1,0 2.6,0a1.3,1.3 0 1,0 -2.6,0M399.14,914.69a1.3,1.3 0 1,0 2.6,0a1.3,1.3 0 1,0 -2.6,0M408.89,949.57a1.3,1.3 0 1,0 2.6,0a1.3,1.3 0 1,0 -2.6,0M402.14,925.82a1.3,1.3 0 1,0 2.6,0a1.3,1.3 0 1,0 -2.6,0M396.41,928.12a1.3,1.3 0 1,0 2.6,0a1.3,1.3 0 1,0 -2.6,0M399.24,917.51a1.3,1.3 0 1,0 2.6,0a1.3,1.3 0 1,0 -2.6,0M411.47,929.08a1.3,1.3 0 1,0 2.6,0a1.3,1.3 0 1,0 -2.6,0M400.66,916.57a1.3,1.3 0 1,0 2.6,0a1.3,1.3 0 1,0 -2.6,0M402.73,930.76a1.3,1.3 0 1,0 2.6,0a1.3,1.3 0 1,0 -2.6,0M409.44,921.38a1.3,1.3 0 1,0 2.6,0a1.3,1.3 0 1,0 -2.6,0M394.94,951.36a1.3,1.3 0 1,0 2.6,0a1.3,1.3 0 1,0 -2.6,0M401.40,929.17a1.3,1.3 0 1,0 2.6,0a1.3,1.3 0 1,0 -2.6,0M400.77,938.85a1.3,1.3 0 1,0 2.6,0a1.3,1.3 0 1,0 -2.6,0M406.64,923.42a1.3,1.3 0 1,0 2.6,0a1.3,1.3 0 1,0 -2.6,0M405.14,924.88a1.3,1.3 0 1,0 2.6,0a1.3,1.3 0 1,0 -2.6,0M392.91,898.58a1.3,1.3 0 1,0 2.6,0a1.3,1.3 0 1,0 -2.6,0M387.77,946.61a1.3,1.3 0 1,0 2.6,0a1.3,1.3 0 1,0 -2.6,0M391.35,929.09a1.3,1.3 0 1,0 2.6,0a1.3,1.3 0 1,0 -2.6,0M399.18,935.24a1.3,1.3 0 1,0 2.6,0a1.3,1.3 0 1,0 -2.6,0M390.96,912.81a1.3,1.3 0 1,0 2.6,0a1.3,1.3 0 1,0 -2.6,0M400.02,920.78a1.3,1.3 0 1,0 2.6,0a1.3,1.3 0 1,0 -2.6,0M406.68,933.41a1.3,1.3 0 1,0 2.6,0a1.3,1.3 0 1,0 -2.6,0M408.38,931.89a1.3,1.3 0 1,0 2.6,0a1.3,1.3 0 1,0 -2.6,0M409.29,911.82a1.3,1.3 0 1,0 2.6,0a1.3,1.3 0 1,0 -2.6,0M401.87,942.09a1.3,1.3 0 1,0 2.6,0a1.3,1.3 0 1,0 -2.6,0M394.50,932.66a1.3,1.3 0 1,0 2.6,0a1.3,1.3 0 1,0 -2.6,0M411.44,919.60a1.3,1.3 0 1,0 2.6,0a1.3,1.3 0 1,0 -2.6,0M392.83,928.48a1.3,1.3 0 1,0 2.6,0a1.3,1.3 0 1,0 -2.6,0M394.50,897.50a1.3,1.3 0 1,0 2.6,0a1.3,1.3 0 1,0 -2.6,0M392.09,902.17a1.3,1.3 0 1,0 2.6,0a1.3,1.3 0 1,0 -2.6,0M403.50,913.61a1.3,1.3 0 1,0 2.6,0a1.3,1.3 0 1,0 -2.6,0M398.12,914.09a1.3,1.3 0 1,0 2.6,0a1.3,1.3 0 1,0 -2.6,0M399.69,923.32a1.3,1.3 0 1,0 2.6,0a1.3,1.3 0 1,0 -2.6,0M402.52,933.62a1.3,1.3 0 1,0 2.6,0a1.3,1.3 0 1,0 -2.6,0M406.87,927.69a1.3,1.3 0 1,0 2.6,0a1.3,1.3 0 1,0 -2.6,0M394.84,916.51a1.3,1.3 0 1,0 2.6,0a1.3,1.3 0 1,0 -2.6,0M391.15,942.79a1.3,1.3 0 1,0 2.6,0a1.3,1.3 0 1,0 -2.6,0M405.89,931.12a1.3,1.3 0 1,0 2.6,0a1.3,1.3 0 1,0 -2.6,0M402.73,920.52a1.3,1.3 0 1,0 2.6,0a1.3,1.3 0 1,0 -2.6,0M407.46,900.80a1.3,1.3 0 1,0 2.6,0a1.3,1.3 0 1,0 -2.6,0M391.31,931.37a1.3,1.3 0 1,0 2.6,0a1.3,1.3 0 1,0 -2.6,0M399.95,934.74a1.3,1.3 0 1,0 2.6,0a1.3,1.3 0 1,0 -2.6,0M395.48,911.86a1.3,1.3 0 1,0 2.6,0a1.3,1.3 0 1,0 -2.6,0M393.43,940.58a1.3,1.3 0 1,0 2.6,0a1.3,1.3 0 1,0 -2.6,0M405.75,908.46a1.3,1.3 0 1,0 2.6,0a1.3,1.3 0 1,0 -2.6,0M403.64,929.67a1.3,1.3 0 1,0 2.6,0a1.3,1.3 0 1,0 -2.6,0M401.73,903.79a1.3,1.3 0 1,0 2.6,0a1.3,1.3 0 1,0 -2.6,0M406.77,929.61a1.3,1.3 0 1,0 2.6,0a1.3,1.3 0 1,0 -2.6,0M389.04,951.06a1.3,1.3 0 1,0 2.6,0a1.3,1.3 0 1,0 -2.6,0M405.49,906.73a1.3,1.3 0 1,0 2.6,0a1.3,1.3 0 1,0 -2.6,0M391.75,935.36a1.3,1.3 0 1,0 2.6,0a1.3,1.3 0 1,0 -2.6,0M408.58,943.95a1.3,1.3 0 1,0 2.6,0a1.3,1.3 0 1,0 -2.6,0M387.44,924.39a1.3,1.3 0 1,0 2.6,0a1.3,1.3 0 1,0 -2.6,0M395.88,927.90a1.3,1.3 0 1,0 2.6,0a1.3,1.3 0 1,0 -2.6,0M403.14,919.70a1.3,1.3 0 1,0 2.6,0a1.3,1.3 0 1,0 -2.6,0M398.42,918.22a1.3,1.3 0 1,0 2.6,0a1.3,1.3 0 1,0 -2.6,0M407.75,919.56a1.3,1.3 0 1,0 2.6,0a1.3,1.3 0 1,0 -2.6,0M395.65,936.88a1.3,1.3 0 1,0 2.6,0a1.3,1.3 0 1,0 -2.6,0M407.61,930.84a1.3,1.3 0 1,0 2.6,0a1.3,1.3 0 1,0 -2.6,0M403.10,935.20a1.3,1.3 0 1,0 2.6,0a1.3,1.3 0 1,0 -2.6,0M386.39,919.05a1.3,1.3 0 1,0 2.6,0a1.3,1.3 0 1,0 -2.6,0M398.19,926.58a1.3,1.3 0 1,0 2.6,0a1.3,1.3 0 1,0 -2.6,0M401.14,924.66a1.3,1.3 0 1,0 2.6,0a1.3,1.3 0 1,0 -2.6,0M402.61,907.08a1.3,1.3 0 1,0 2.6,0a1.3,1.3 0 1,0 -2.6,0M404.65,915.00a1.3,1.3 0 1,0 2.6,0a1.3,1.3 0 1,0 -2.6,0M407.15,917.24a1.3,1.3 0 1,0 2.6,0a1.3,1.3 0 1,0 -2.6,0M391.24,921.83a1.3,1.3 0 1,0 2.6,0a1.3,1.3 0 1,0 -2.6,0M406.87,939.43a1.3,1.3 0 1,0 2.6,0a1.3,1.3 0 1,0 -2.6,0M391.02,929.12a1.3,1.3 0 1,0 2.6,0a1.3,1.3 0 1,0 -2.6,0M409.95,929.76a1.3,1.3 0 1,0 2.6,0a1.3,1.3 0 1,0 -2.6,0M388.57,937.94a1.3,1.3 0 1,0 2.6,0a1.3,1.3 0 1,0 -2.6,0M387.38,933.48a1.3,1.3 0 1,0 2.6,0a1.3,1.3 0 1,0 -2.6,0M410.03,893.19a1.3,1.3 0 1,0 2.6,0a1.3,1.3 0 1,0 -2.6,0M396.21,914.27a1.3,1.3 0 1,0 2.6,0a1.3,1.3 0 1,0 -2.6,0M397.11,921.08a1.3,1.3 0 1,0 2.6,0a1.3,1.3 0 1,0 -2.6,0M402.59,922.90a1.3,1.3 0 1,0 2.6,0a1.3,1.3 0 1,0 -2.6,0M387.92,902.86a1.3,1.3 0 1,0 2.6,0a1.3,1.3 0 1,0 -2.6,0M386.63,924.61a1.3,1.3 0 1,0 2.6,0a1.3,1.3 0 1,0 -2.6,0M394.57,927.41a1.3,1.3 0 1,0 2.6,0a1.3,1.3 0 1,0 -2.6,0M396.40,922.34a1.3,1.3 0 1,0 2.6,0a1.3,1.3 0 1,0 -2.6,0M387.86,927.91a1.3,1.3 0 1,0 2.6,0a1.3,1.3 0 1,0 -2.6,0M393.83,900.89a1.3,1.3 0 1,0 2.6,0a1.3,1.3 0 1,0 -2.6,0M402.70,919.69a1.3,1.3 0 1,0 2.6,0a1.3,1.3 0 1,0 -2.6,0M395.61,890.49a1.3,1.3 0 1,0 2.6,0a1.3,1.3 0 1,0 -2.6,0M393.55,936.48a1.3,1.3 0 1,0 2.6,0a1.3,1.3 0 1,0 -2.6,0M398.87,898.90a1.3,1.3 0 1,0 2.6,0a1.3,1.3 0 1,0 -2.6,0M403.85,905.51a1.3,1.3 0 1,0 2.6,0a1.3,1.3 0 1,0 -2.6,0M407.95,910.19a1.3,1.3 0 1,0 2.6,0a1.3,1.3 0 1,0 -2.6,0M395.84,903.64a1.3,1.3 0 1,0 2.6,0a1.3,1.3 0 1,0 -2.6,0M410.90,852.30a1.3,1.3 0 1,0 2.6,0a1.3,1.3 0 1,0 -2.6,0M399.20,876.50a1.3,1.3 0 1,0 2.6,0a1.3,1.3 0 1,0 -2.6,0M407.30,877.30a1.3,1.3 0 1,0 2.6,0a1.3,1.3 0 1,0 -2.6,0M387.20,959.20a1.3,1.3 0 1,0 2.6,0a1.3,1.3 0 1,0 -2.6,0M395.70,957.20a1.3,1.3 0 1,0 2.6,0a1.3,1.3 0 1,0 -2.6,0" fill="#000"/>
<rect x="376.10" y="910.00" width="47.70" height="21.20" fill="rgba(232,80,60,0.36)" stroke="#3a3a3a" stroke-width="0.9"/>
<line x1="378.10" y1="910.00" x2="378.10" y2="931.20" stroke="rgba(40,40,60,0.45)" stroke-width="0.8" />
<line x1="421.80" y1="910.00" x2="421.80" y2="931.20" stroke="rgba(40,40,60,0.3)" stroke-width="0.8" />
<line x1="376.10" y1="922.30" x2="423.80" y2="922.30" stroke="#333" stroke-width="1.3" />
<text x="385.01" y="985.30" font-size="11" fill="#000" textLength="27.71" lengthAdjust="spacingAndGlyphs" stroke="#000" stroke-width="0.2">N2-N3</text>
<line x1="400.20" y1="973.30" x2="400.20" y2="974.90" stroke="#333" stroke-width="0.8" />
<line x1="298.50" y1="840.40" x2="438.30" y2="840.40" stroke="#8a8a8a" stroke-width="1.2" />
<line x1="438.30" y1="840.40" x2="438.30" y2="973.30" stroke="#c4c4c4" stroke-width="1.2" />
<line x1="298.50" y1="973.30" x2="438.30" y2="973.30" stroke="#4a4a4a" stroke-width="1.2" />
<line x1="298.50" y1="839.80" x2="298.50" y2="973.90" stroke="#9a9a9a" stroke-width="1.2" />
<line x1="296.70" y1="951.90" x2="298.50" y2="951.90" stroke="#333" stroke-width="0.8" />
<text x="281.34" y="955.70" font-size="10.8" fill="#000" textLength="12.82" lengthAdjust="spacingAndGlyphs" stroke="#000" stroke-width="0.08">2.0</text>
<line x1="296.70" y1="925.60" x2="298.50" y2="925.60" stroke="#333" stroke-width="0.8" />
<text x="281.33" y="929.40" font-size="10.8" fill="#000" textLength="12.85" lengthAdjust="spacingAndGlyphs" stroke="#000" stroke-width="0.08">2.5</text>
<line x1="296.70" y1="899.30" x2="298.50" y2="899.30" stroke="#333" stroke-width="0.8" />
<text x="281.45" y="903.10" font-size="10.8" fill="#000" textLength="12.71" lengthAdjust="spacingAndGlyphs" stroke="#000" stroke-width="0.08">3.0</text>
<line x1="296.70" y1="873.00" x2="298.50" y2="873.00" stroke="#333" stroke-width="0.8" />
<text x="281.45" y="876.80" font-size="10.8" fill="#000" textLength="12.73" lengthAdjust="spacingAndGlyphs" stroke="#000" stroke-width="0.08">3.5</text>
<line x1="296.70" y1="846.70" x2="298.50" y2="846.70" stroke="#333" stroke-width="0.8" />
<text x="281.59" y="850.50" font-size="10.8" fill="#000" textLength="12.56" lengthAdjust="spacingAndGlyphs" stroke="#000" stroke-width="0.08">4.0</text>
<path d="M336.40,850.30V846.70H400.20V850.30" fill="none" stroke="#333" stroke-width="0.8"/>
<polygon points="362.00,841.50 362.62,842.95 364.19,843.09 363.00,844.12 363.35,845.66 362.00,844.85 360.65,845.66 361.00,844.12 359.81,843.09 361.38,842.95" fill="#000"/>
<polygon points="365.60,841.50 366.22,842.95 367.79,843.09 366.60,844.12 366.95,845.66 365.60,844.85 364.25,845.66 364.60,844.12 363.41,843.09 364.98,842.95" fill="#000"/>
<polygon points="369.20,841.50 369.82,842.95 371.39,843.09 370.20,844.12 370.55,845.66 369.20,844.85 367.85,845.66 368.20,844.12 367.01,843.09 368.58,842.95" fill="#000"/>
<polygon points="372.80,841.50 373.42,842.95 374.99,843.09 373.80,844.12 374.15,845.66 372.80,844.85 371.45,845.66 371.80,844.12 370.61,843.09 372.18,842.95" fill="#000"/>
<text x="0" y="0" font-size="11" text-anchor="middle" transform="translate(279.80,906.85) rotate(-90)">Risk Score</text>
<line x1="506.40" y1="965.45" x2="646.50" y2="965.45" stroke="#F3F3F3" stroke-width="0.6" />
<line x1="506.40" y1="939.15" x2="646.50" y2="939.15" stroke="#F3F3F3" stroke-width="0.6" />
<line x1="506.40" y1="912.85" x2="646.50" y2="912.85" stroke="#F3F3F3" stroke-width="0.6" />
<line x1="506.40" y1="886.55" x2="646.50" y2="886.55" stroke="#F3F3F3" stroke-width="0.6" />
<line x1="506.40" y1="860.25" x2="646.50" y2="860.25" stroke="#F3F3F3" stroke-width="0.6" />
<line x1="506.40" y1="952.30" x2="646.50" y2="952.30" stroke="#E6E6E6" stroke-width="0.9" />
<line x1="506.40" y1="926.00" x2="646.50" y2="926.00" stroke="#E6E6E6" stroke-width="0.9" />
<line x1="506.40" y1="899.70" x2="646.50" y2="899.70" stroke="#E6E6E6" stroke-width="0.9" />
<line x1="506.40" y1="873.40" x2="646.50" y2="873.40" stroke="#E6E6E6" stroke-width="0.9" />
<line x1="506.40" y1="847.10" x2="646.50" y2="847.10" stroke="#E6E6E6" stroke-width="0.9" />
<line x1="544.20" y1="840.40" x2="544.20" y2="972.90" stroke="#E6E6E6" stroke-width="0.9" />
<line x1="608.10" y1="840.40" x2="608.10" y2="972.90" stroke="#E6E6E6" stroke-width="0.9" />
<line x1="544.20" y1="873.00" x2="544.20" y2="910.40" stroke="#333" stroke-width="0.9" />
<line x1="544.20" y1="934.20" x2="544.20" y2="968.00" stroke="#333" stroke-width="0.9" />
<circle cx="544.30" cy="852.20" r="1.1" fill="#C8C8C8"/>
<path d="M549.57,898.14a1.3,1.3 0 1,0 2.6,0a1.3,1.3 0 1,0 -2.6,0M540.83,923.97a1.3,1.3 0 1,0 2.6,0a1.3,1.3 0 1,0 -2.6,0M536.27,923.56a1.3,1.3 0 1,0 2.6,0a1.3,1.3 0 1,0 -2.6,0M555.04,890.73a1.3,1.3 0 1,0 2.6,0a1.3,1.3 0 1,0 -2.6,0M550.40,931.39a1.3,1.3 0 1,0 2.6,0a1.3,1.3 0 1,0 -2.6,0M540.07,924.84a1.3,1.3 0 1,0 2.6,0a1.3,1.3 0 1,0 -2.6,0M546.30,942.05a1.3,1.3 0 1,0 2.6,0a1.3,1.3 0 1,0 -2.6,0M552.24,889.57a1.3,1.3 0 1,0 2.6,0a1.3,1.3 0 1,0 -2.6,0M546.51,954.64a1.3,1.3 0 1,0 2.6,0a1.3,1.3 0 1,0 -2.6,0M530.32,908.71a1.3,1.3 0 1,0 2.6,0a1.3,1.3 0 1,0 -2.6,0M543.45,955.20a1.3,1.3 0 1,0 2.6,0a1.3,1.3 0 1,0 -2.6,0M534.26,910.94a1.3,1.3 0 1,0 2.6,0a1.3,1.3 0 1,0 -2.6,0M536.83,956.38a1.3,1.3 0 1,0 2.6,0a1.3,1.3 0 1,0 -2.6,0M532.26,921.32a1.3,1.3 0 1,0 2.6,0a1.3,1.3 0 1,0 -2.6,0M549.55,933.80a1.3,1.3 0 1,0 2.6,0a1.3,1.3 0 1,0 -2.6,0M543.06,922.81a1.3,1.3 0 1,0 2.6,0a1.3,1.3 0 1,0 -2.6,0M536.78,903.66a1.3,1.3 0 1,0 2.6,0a1.3,1.3 0 1,0 -2.6,0M553.30,931.42a1.3,1.3 0 1,0 2.6,0a1.3,1.3 0 1,0 -2.6,0M544.11,925.03a1.3,1.3 0 1,0 2.6,0a1.3,1.3 0 1,0 -2.6,0M552.20,899.32a1.3,1.3 0 1,0 2.6,0a1.3,1.3 0 1,0 -2.6,0M535.69,926.47a1.3,1.3 0 1,0 2.6,0a1.3,1.3 0 1,0 -2.6,0M551.75,923.01a1.3,1.3 0 1,0 2.6,0a1.3,1.3 0 1,0 -2.6,0M533.71,902.09a1.3,1.3 0 1,0 2.6,0a1.3,1.3 0 1,0 -2.6,0M534.93,895.97a1.3,1.3 0 1,0 2.6,0a1.3,1.3 0 1,0 -2.6,0M551.59,940.16a1.3,1.3 0 1,0 2.6,0a1.3,1.3 0 1,0 -2.6,0M531.27,927.08a1.3,1.3 0 1,0 2.6,0a1.3,1.3 0 1,0 -2.6,0M533.63,955.62a1.3,1.3 0 1,0 2.6,0a1.3,1.3 0 1,0 -2.6,0M542.15,933.83a1.3,1.3 0 1,0 2.6,0a1.3,1.3 0 1,0 -2.6,0M533.28,928.43a1.3,1.3 0 1,0 2.6,0a1.3,1.3 0 1,0 -2.6,0M541.37,945.85a1.3,1.3 0 1,0 2.6,0a1.3,1.3 0 1,0 -2.6,0M555.07,913.56a1.3,1.3 0 1,0 2.6,0a1.3,1.3 0 1,0 -2.6,0M551.31,951.14a1.3,1.3 0 1,0 2.6,0a1.3,1.3 0 1,0 -2.6,0M544.13,934.03a1.3,1.3 0 1,0 2.6,0a1.3,1.3 0 1,0 -2.6,0M548.61,924.07a1.3,1.3 0 1,0 2.6,0a1.3,1.3 0 1,0 -2.6,0M533.22,947.35a1.3,1.3 0 1,0 2.6,0a1.3,1.3 0 1,0 -2.6,0M545.16,925.91a1.3,1.3 0 1,0 2.6,0a1.3,1.3 0 1,0 -2.6,0M538.90,926.64a1.3,1.3 0 1,0 2.6,0a1.3,1.3 0 1,0 -2.6,0M550.74,893.30a1.3,1.3 0 1,0 2.6,0a1.3,1.3 0 1,0 -2.6,0M554.73,876.23a1.3,1.3 0 1,0 2.6,0a1.3,1.3 0 1,0 -2.6,0M548.48,943.11a1.3,1.3 0 1,0 2.6,0a1.3,1.3 0 1,0 -2.6,0M534.75,878.56a1.3,1.3 0 1,0 2.6,0a1.3,1.3 0 1,0 -2.6,0M542.74,929.46a1.3,1.3 0 1,0 2.6,0a1.3,1.3 0 1,0 -2.6,0M546.05,919.63a1.3,1.3 0 1,0 2.6,0a1.3,1.3 0 1,0 -2.6,0M546.80,917.47a1.3,1.3 0 1,0 2.6,0a1.3,1.3 0 1,0 -2.6,0M545.49,907.21a1.3,1.3 0 1,0 2.6,0a1.3,1.3 0 1,0 -2.6,0M531.34,929.89a1.3,1.3 0 1,0 2.6,0a1.3,1.3 0 1,0 -2.6,0M540.62,925.22a1.3,1.3 0 1,0 2.6,0a1.3,1.3 0 1,0 -2.6,0M547.33,891.39a1.3,1.3 0 1,0 2.6,0a1.3,1.3 0 1,0 -2.6,0M540.84,918.00a1.3,1.3 0 1,0 2.6,0a1.3,1.3 0 1,0 -2.6,0M554.59,923.51a1.3,1.3 0 1,0 2.6,0a1.3,1.3 0 1,0 -2.6,0M540.06,898.24a1.3,1.3 0 1,0 2.6,0a1.3,1.3 0 1,0 -2.6,0M543.77,956.23a1.3,1.3 0 1,0 2.6,0a1.3,1.3 0 1,0 -2.6,0M545.52,932.65a1.3,1.3 0 1,0 2.6,0a1.3,1.3 0 1,0 -2.6,0M545.18,927.82a1.3,1.3 0 1,0 2.6,0a1.3,1.3 0 1,0 -2.6,0M545.21,882.78a1.3,1.3 0 1,0 2.6,0a1.3,1.3 0 1,0 -2.6,0M554.99,893.52a1.3,1.3 0 1,0 2.6,0a1.3,1.3 0 1,0 -2.6,0M551.28,917.67a1.3,1.3 0 1,0 2.6,0a1.3,1.3 0 1,0 -2.6,0M541.61,937.52a1.3,1.3 0 1,0 2.6,0a1.3,1.3 0 1,0 -2.6,0M544.75,926.21a1.3,1.3 0 1,0 2.6,0a1.3,1.3 0 1,0 -2.6,0M530.55,959.77a1.3,1.3 0 1,0 2.6,0a1.3,1.3 0 1,0 -2.6,0M531.73,936.08a1.3,1.3 0 1,0 2.6,0a1.3,1.3 0 1,0 -2.6,0M539.93,951.94a1.3,1.3 0 1,0 2.6,0a1.3,1.3 0 1,0 -2.6,0M541.87,917.42a1.3,1.3 0 1,0 2.6,0a1.3,1.3 0 1,0 -2.6,0M530.82,929.94a1.3,1.3 0 1,0 2.6,0a1.3,1.3 0 1,0 -2.6,0M544.44,928.83a1.3,1.3 0 1,0 2.6,0a1.3,1.3 0 1,0 -2.6,0M548.49,912.88a1.3,1.3 0 1,0 2.6,0a1.3,1.3 0 1,0 -2.6,0M545.46,922.74a1.3,1.3 0 1,0 2.6,0a1.3,1.3 0 1,0 -2.6,0M549.87,926.96a1.3,1.3 0 1,0 2.6,0a1.3,1.3 0 1,0 -2.6,0M533.56,937.06a1.3,1.3 0 1,0 2.6,0a1.3,1.3 0 1,0 -2.6,0M536.55,910.80a1.3,1.3 0 1,0 2.6,0a1.3,1.3 0 1,0 -2.6,0M552.79,930.93a1.3,1.3 0 1,0 2.6,0a1.3,1.3 0 1,0 -2.6,0M549.40,928.20a1.3,1.3 0 1,0 2.6,0a1.3,1.3 0 1,0 -2.6,0M538.85,921.16a1.3,1.3 0 1,0 2.6,0a1.3,1.3 0 1,0 -2.6,0M547.96,915.10a1.3,1.3 0 1,0 2.6,0a1.3,1.3 0 1,0 -2.6,0M540.82,939.98a1.3,1.3 0 1,0 2.6,0a1.3,1.3 0 1,0 -2.6,0M539.26,917.11a1.3,1.3 0 1,0 2.6,0a1.3,1.3 0 1,0 -2.6,0M552.42,955.58a1.3,1.3 0 1,0 2.6,0a1.3,1.3 0 1,0 -2.6,0M535.12,932.08a1.3,1.3 0 1,0 2.6,0a1.3,1.3 0 1,0 -2.6,0M531.66,907.62a1.3,1.3 0 1,0 2.6,0a1.3,1.3 0 1,0 -2.6,0M554.12,940.63a1.3,1.3 0 1,0 2.6,0a1.3,1.3 0 1,0 -2.6,0M550.10,927.94a1.3,1.3 0 1,0 2.6,0a1.3,1.3 0 1,0 -2.6,0M545.02,952.43a1.3,1.3 0 1,0 2.6,0a1.3,1.3 0 1,0 -2.6,0M531.33,922.57a1.3,1.3 0 1,0 2.6,0a1.3,1.3 0 1,0 -2.6,0M543.95,913.50a1.3,1.3 0 1,0 2.6,0a1.3,1.3 0 1,0 -2.6,0M542.05,942.41a1.3,1.3 0 1,0 2.6,0a1.3,1.3 0 1,0 -2.6,0M553.26,905.97a1.3,1.3 0 1,0 2.6,0a1.3,1.3 0 1,0 -2.6,0M544.86,908.97a1.3,1.3 0 1,0 2.6,0a1.3,1.3 0 1,0 -2.6,0M545.12,909.82a1.3,1.3 0 1,0 2.6,0a1.3,1.3 0 1,0 -2.6,0M530.15,927.43a1.3,1.3 0 1,0 2.6,0a1.3,1.3 0 1,0 -2.6,0M534.22,888.23a1.3,1.3 0 1,0 2.6,0a1.3,1.3 0 1,0 -2.6,0M536.33,911.77a1.3,1.3 0 1,0 2.6,0a1.3,1.3 0 1,0 -2.6,0M547.47,919.30a1.3,1.3 0 1,0 2.6,0a1.3,1.3 0 1,0 -2.6,0M540.49,935.53a1.3,1.3 0 1,0 2.6,0a1.3,1.3 0 1,0 -2.6,0M552.31,940.85a1.3,1.3 0 1,0 2.6,0a1.3,1.3 0 1,0 -2.6,0M538.55,928.88a1.3,1.3 0 1,0 2.6,0a1.3,1.3 0 1,0 -2.6,0M535.41,932.99a1.3,1.3 0 1,0 2.6,0a1.3,1.3 0 1,0 -2.6,0M540.72,897.04a1.3,1.3 0 1,0 2.6,0a1.3,1.3 0 1,0 -2.6,0M549.02,910.73a1.3,1.3 0 1,0 2.6,0a1.3,1.3 0 1,0 -2.6,0M553.96,928.03a1.3,1.3 0 1,0 2.6,0a1.3,1.3 0 1,0 -2.6,0M555.01,920.38a1.3,1.3 0 1,0 2.6,0a1.3,1.3 0 1,0 -2.6,0M544.81,920.75a1.3,1.3 0 1,0 2.6,0a1.3,1.3 0 1,0 -2.6,0M546.62,926.62a1.3,1.3 0 1,0 2.6,0a1.3,1.3 0 1,0 -2.6,0M546.49,955.67a1.3,1.3 0 1,0 2.6,0a1.3,1.3 0 1,0 -2.6,0M545.90,911.56a1.3,1.3 0 1,0 2.6,0a1.3,1.3 0 1,0 -2.6,0M555.03,918.07a1.3,1.3 0 1,0 2.6,0a1.3,1.3 0 1,0 -2.6,0M540.22,913.19a1.3,1.3 0 1,0 2.6,0a1.3,1.3 0 1,0 -2.6,0M551.88,943.02a1.3,1.3 0 1,0 2.6,0a1.3,1.3 0 1,0 -2.6,0M543.04,926.74a1.3,1.3 0 1,0 2.6,0a1.3,1.3 0 1,0 -2.6,0M543.16,947.88a1.3,1.3 0 1,0 2.6,0a1.3,1.3 0 1,0 -2.6,0M548.93,891.40a1.3,1.3 0 1,0 2.6,0a1.3,1.3 0 1,0 -2.6,0M535.65,939.50a1.3,1.3 0 1,0 2.6,0a1.3,1.3 0 1,0 -2.6,0M541.05,926.18a1.3,1.3 0 1,0 2.6,0a1.3,1.3 0 1,0 -2.6,0M536.32,927.47a1.3,1.3 0 1,0 2.6,0a1.3,1.3 0 1,0 -2.6,0M542.45,920.38a1.3,1.3 0 1,0 2.6,0a1.3,1.3 0 1,0 -2.6,0M537.96,922.99a1.3,1.3 0 1,0 2.6,0a1.3,1.3 0 1,0 -2.6,0M550.41,929.70a1.3,1.3 0 1,0 2.6,0a1.3,1.3 0 1,0 -2.6,0M538.53,907.58a1.3,1.3 0 1,0 2.6,0a1.3,1.3 0 1,0 -2.6,0M549.02,886.87a1.3,1.3 0 1,0 2.6,0a1.3,1.3 0 1,0 -2.6,0M554.70,908.44a1.3,1.3 0 1,0 2.6,0a1.3,1.3 0 1,0 -2.6,0M538.89,924.99a1.3,1.3 0 1,0 2.6,0a1.3,1.3 0 1,0 -2.6,0M541.28,940.00a1.3,1.3 0 1,0 2.6,0a1.3,1.3 0 1,0 -2.6,0M531.77,920.27a1.3,1.3 0 1,0 2.6,0a1.3,1.3 0 1,0 -2.6,0M536.43,927.91a1.3,1.3 0 1,0 2.6,0a1.3,1.3 0 1,0 -2.6,0M539.97,908.60a1.3,1.3 0 1,0 2.6,0a1.3,1.3 0 1,0 -2.6,0M531.79,948.46a1.3,1.3 0 1,0 2.6,0a1.3,1.3 0 1,0 -2.6,0M543.25,888.20a1.3,1.3 0 1,0 2.6,0a1.3,1.3 0 1,0 -2.6,0M535.83,921.37a1.3,1.3 0 1,0 2.6,0a1.3,1.3 0 1,0 -2.6,0M550.97,889.33a1.3,1.3 0 1,0 2.6,0a1.3,1.3 0 1,0 -2.6,0M532.37,930.57a1.3,1.3 0 1,0 2.6,0a1.3,1.3 0 1,0 -2.6,0M532.64,926.94a1.3,1.3 0 1,0 2.6,0a1.3,1.3 0 1,0 -2.6,0M546.74,951.39a1.3,1.3 0 1,0 2.6,0a1.3,1.3 0 1,0 -2.6,0M541.77,898.18a1.3,1.3 0 1,0 2.6,0a1.3,1.3 0 1,0 -2.6,0M531.78,890.53a1.3,1.3 0 1,0 2.6,0a1.3,1.3 0 1,0 -2.6,0M530.52,910.54a1.3,1.3 0 1,0 2.6,0a1.3,1.3 0 1,0 -2.6,0M539.46,909.51a1.3,1.3 0 1,0 2.6,0a1.3,1.3 0 1,0 -2.6,0M531.63,941.67a1.3,1.3 0 1,0 2.6,0a1.3,1.3 0 1,0 -2.6,0M547.96,905.05a1.3,1.3 0 1,0 2.6,0a1.3,1.3 0 1,0 -2.6,0M549.74,910.45a1.3,1.3 0 1,0 2.6,0a1.3,1.3 0 1,0 -2.6,0M531.51,916.71a1.3,1.3 0 1,0 2.6,0a1.3,1.3 0 1,0 -2.6,0M536.53,928.89a1.3,1.3 0 1,0 2.6,0a1.3,1.3 0 1,0 -2.6,0M550.61,915.57a1.3,1.3 0 1,0 2.6,0a1.3,1.3 0 1,0 -2.6,0M531.63,878.91a1.3,1.3 0 1,0 2.6,0a1.3,1.3 0 1,0 -2.6,0M545.66,924.23a1.3,1.3 0 1,0 2.6,0a1.3,1.3 0 1,0 -2.6,0M551.91,935.74a1.3,1.3 0 1,0 2.6,0a1.3,1.3 0 1,0 -2.6,0M535.32,921.70a1.3,1.3 0 1,0 2.6,0a1.3,1.3 0 1,0 -2.6,0M537.53,878.65a1.3,1.3 0 1,0 2.6,0a1.3,1.3 0 1,0 -2.6,0M553.22,903.63a1.3,1.3 0 1,0 2.6,0a1.3,1.3 0 1,0 -2.6,0M533.93,926.21a1.3,1.3 0 1,0 2.6,0a1.3,1.3 0 1,0 -2.6,0M534.64,941.19a1.3,1.3 0 1,0 2.6,0a1.3,1.3 0 1,0 -2.6,0M545.41,927.51a1.3,1.3 0 1,0 2.6,0a1.3,1.3 0 1,0 -2.6,0M534.77,901.17a1.3,1.3 0 1,0 2.6,0a1.3,1.3 0 1,0 -2.6,0M534.15,908.98a1.3,1.3 0 1,0 2.6,0a1.3,1.3 0 1,0 -2.6,0M554.33,939.20a1.3,1.3 0 1,0 2.6,0a1.3,1.3 0 1,0 -2.6,0M537.28,937.60a1.3,1.3 0 1,0 2.6,0a1.3,1.3 0 1,0 -2.6,0M539.52,959.53a1.3,1.3 0 1,0 2.6,0a1.3,1.3 0 1,0 -2.6,0M543.32,916.40a1.3,1.3 0 1,0 2.6,0a1.3,1.3 0 1,0 -2.6,0M534.59,936.20a1.3,1.3 0 1,0 2.6,0a1.3,1.3 0 1,0 -2.6,0M533.25,936.81a1.3,1.3 0 1,0 2.6,0a1.3,1.3 0 1,0 -2.6,0M554.68,902.82a1.3,1.3 0 1,0 2.6,0a1.3,1.3 0 1,0 -2.6,0M543.50,923.04a1.3,1.3 0 1,0 2.6,0a1.3,1.3 0 1,0 -2.6,0M552.05,888.90a1.3,1.3 0 1,0 2.6,0a1.3,1.3 0 1,0 -2.6,0M552.74,904.31a1.3,1.3 0 1,0 2.6,0a1.3,1.3 0 1,0 -2.6,0M535.13,918.37a1.3,1.3 0 1,0 2.6,0a1.3,1.3 0 1,0 -2.6,0M531.95,929.45a1.3,1.3 0 1,0 2.6,0a1.3,1.3 0 1,0 -2.6,0M530.81,946.81a1.3,1.3 0 1,0 2.6,0a1.3,1.3 0 1,0 -2.6,0M535.44,942.44a1.3,1.3 0 1,0 2.6,0a1.3,1.3 0 1,0 -2.6,0M548.19,946.86a1.3,1.3 0 1,0 2.6,0a1.3,1.3 0 1,0 -2.6,0M541.98,910.73a1.3,1.3 0 1,0 2.6,0a1.3,1.3 0 1,0 -2.6,0M543.90,933.06a1.3,1.3 0 1,0 2.6,0a1.3,1.3 0 1,0 -2.6,0M540.05,910.47a1.3,1.3 0 1,0 2.6,0a1.3,1.3 0 1,0 -2.6,0M540.11,927.32a1.3,1.3 0 1,0 2.6,0a1.3,1.3 0 1,0 -2.6,0M535.57,914.96a1.3,1.3 0 1,0 2.6,0a1.3,1.3 0 1,0 -2.6,0M532.75,889.34a1.3,1.3 0 1,0 2.6,0a1.3,1.3 0 1,0 -2.6,0M530.75,925.23a1.3,1.3 0 1,0 2.6,0a1.3,1.3 0 1,0 -2.6,0M544.59,911.18a1.3,1.3 0 1,0 2.6,0a1.3,1.3 0 1,0 -2.6,0M535.90,951.75a1.3,1.3 0 1,0 2.6,0a1.3,1.3 0 1,0 -2.6,0M530.33,930.70a1.3,1.3 0 1,0 2.6,0a1.3,1.3 0 1,0 -2.6,0M545.71,934.07a1.3,1.3 0 1,0 2.6,0a1.3,1.3 0 1,0 -2.6,0M554.01,913.54a1.3,1.3 0 1,0 2.6,0a1.3,1.3 0 1,0 -2.6,0M538.18,889.78a1.3,1.3 0 1,0 2.6,0a1.3,1.3 0 1,0 -2.6,0M540.64,930.98a1.3,1.3 0 1,0 2.6,0a1.3,1.3 0 1,0 -2.6,0M533.32,929.34a1.3,1.3 0 1,0 2.6,0a1.3,1.3 0 1,0 -2.6,0M535.37,958.60a1.3,1.3 0 1,0 2.6,0a1.3,1.3 0 1,0 -2.6,0M547.57,885.43a1.3,1.3 0 1,0 2.6,0a1.3,1.3 0 1,0 -2.6,0M537.17,923.14a1.3,1.3 0 1,0 2.6,0a1.3,1.3 0 1,0 -2.6,0M533.04,941.89a1.3,1.3 0 1,0 2.6,0a1.3,1.3 0 1,0 -2.6,0M541.21,951.86a1.3,1.3 0 1,0 2.6,0a1.3,1.3 0 1,0 -2.6,0M533.35,917.53a1.3,1.3 0 1,0 2.6,0a1.3,1.3 0 1,0 -2.6,0M537.34,927.85a1.3,1.3 0 1,0 2.6,0a1.3,1.3 0 1,0 -2.6,0M533.37,878.94a1.3,1.3 0 1,0 2.6,0a1.3,1.3 0 1,0 -2.6,0M540.66,910.81a1.3,1.3 0 1,0 2.6,0a1.3,1.3 0 1,0 -2.6,0M547.76,949.38a1.3,1.3 0 1,0 2.6,0a1.3,1.3 0 1,0 -2.6,0M553.54,912.99a1.3,1.3 0 1,0 2.6,0a1.3,1.3 0 1,0 -2.6,0M555.23,920.65a1.3,1.3 0 1,0 2.6,0a1.3,1.3 0 1,0 -2.6,0M534.32,923.43a1.3,1.3 0 1,0 2.6,0a1.3,1.3 0 1,0 -2.6,0M538.94,924.76a1.3,1.3 0 1,0 2.6,0a1.3,1.3 0 1,0 -2.6,0M534.75,926.02a1.3,1.3 0 1,0 2.6,0a1.3,1.3 0 1,0 -2.6,0M546.78,886.22a1.3,1.3 0 1,0 2.6,0a1.3,1.3 0 1,0 -2.6,0M543.93,933.35a1.3,1.3 0 1,0 2.6,0a1.3,1.3 0 1,0 -2.6,0M530.42,923.06a1.3,1.3 0 1,0 2.6,0a1.3,1.3 0 1,0 -2.6,0M551.94,901.70a1.3,1.3 0 1,0 2.6,0a1.3,1.3 0 1,0 -2.6,0M546.28,949.99a1.3,1.3 0 1,0 2.6,0a1.3,1.3 0 1,0 -2.6,0M533.85,882.42a1.3,1.3 0 1,0 2.6,0a1.3,1.3 0 1,0 -2.6,0M534.56,953.52a1.3,1.3 0 1,0 2.6,0a1.3,1.3 0 1,0 -2.6,0M531.08,941.64a1.3,1.3 0 1,0 2.6,0a1.3,1.3 0 1,0 -2.6,0M552.54,960.54a1.3,1.3 0 1,0 2.6,0a1.3,1.3 0 1,0 -2.6,0M541.58,929.73a1.3,1.3 0 1,0 2.6,0a1.3,1.3 0 1,0 -2.6,0M533.11,903.74a1.3,1.3 0 1,0 2.6,0a1.3,1.3 0 1,0 -2.6,0M551.52,898.58a1.3,1.3 0 1,0 2.6,0a1.3,1.3 0 1,0 -2.6,0M535.88,898.36a1.3,1.3 0 1,0 2.6,0a1.3,1.3 0 1,0 -2.6,0M537.86,922.96a1.3,1.3 0 1,0 2.6,0a1.3,1.3 0 1,0 -2.6,0M555.34,916.80a1.3,1.3 0 1,0 2.6,0a1.3,1.3 0 1,0 -2.6,0M551.44,929.58a1.3,1.3 0 1,0 2.6,0a1.3,1.3 0 1,0 -2.6,0M543.70,928.12a1.3,1.3 0 1,0 2.6,0a1.3,1.3 0 1,0 -2.6,0M543.80,926.11a1.3,1.3 0 1,0 2.6,0a1.3,1.3 0 1,0 -2.6,0M552.40,951.46a1.3,1.3 0 1,0 2.6,0a1.3,1.3 0 1,0 -2.6,0M539.50,930.40a1.3,1.3 0 1,0 2.6,0a1.3,1.3 0 1,0 -2.6,0M553.68,908.60a1.3,1.3 0 1,0 2.6,0a1.3,1.3 0 1,0 -2.6,0M530.32,928.91a1.3,1.3 0 1,0 2.6,0a1.3,1.3 0 1,0 -2.6,0M538.76,908.77a1.3,1.3 0 1,0 2.6,0a1.3,1.3 0 1,0 -2.6,0M551.26,944.48a1.3,1.3 0 1,0 2.6,0a1.3,1.3 0 1,0 -2.6,0M546.57,944.01a1.3,1.3 0 1,0 2.6,0a1.3,1.3 0 1,0 -2.6,0M546.28,910.37a1.3,1.3 0 1,0 2.6,0a1.3,1.3 0 1,0 -2.6,0M543.56,919.99a1.3,1.3 0 1,0 2.6,0a1.3,1.3 0 1,0 -2.6,0M549.15,929.56a1.3,1.3 0 1,0 2.6,0a1.3,1.3 0 1,0 -2.6,0M554.67,893.98a1.3,1.3 0 1,0 2.6,0a1.3,1.3 0 1,0 -2.6,0M552.28,881.85a1.3,1.3 0 1,0 2.6,0a1.3,1.3 0 1,0 -2.6,0M553.11,913.32a1.3,1.3 0 1,0 2.6,0a1.3,1.3 0 1,0 -2.6,0M544.00,932.58a1.3,1.3 0 1,0 2.6,0a1.3,1.3 0 1,0 -2.6,0M541.85,928.81a1.3,1.3 0 1,0 2.6,0a1.3,1.3 0 1,0 -2.6,0M554.09,937.52a1.3,1.3 0 1,0 2.6,0a1.3,1.3 0 1,0 -2.6,0M537.54,940.12a1.3,1.3 0 1,0 2.6,0a1.3,1.3 0 1,0 -2.6,0M548.73,928.79a1.3,1.3 0 1,0 2.6,0a1.3,1.3 0 1,0 -2.6,0M547.25,928.84a1.3,1.3 0 1,0 2.6,0a1.3,1.3 0 1,0 -2.6,0M550.40,910.96a1.3,1.3 0 1,0 2.6,0a1.3,1.3 0 1,0 -2.6,0M542.72,905.56a1.3,1.3 0 1,0 2.6,0a1.3,1.3 0 1,0 -2.6,0M538.04,921.33a1.3,1.3 0 1,0 2.6,0a1.3,1.3 0 1,0 -2.6,0M540.34,935.30a1.3,1.3 0 1,0 2.6,0a1.3,1.3 0 1,0 -2.6,0M550.14,908.43a1.3,1.3 0 1,0 2.6,0a1.3,1.3 0 1,0 -2.6,0M533.59,923.35a1.3,1.3 0 1,0 2.6,0a1.3,1.3 0 1,0 -2.6,0M530.43,936.00a1.3,1.3 0 1,0 2.6,0a1.3,1.3 0 1,0 -2.6,0M548.72,879.98a1.3,1.3 0 1,0 2.6,0a1.3,1.3 0 1,0 -2.6,0M547.31,945.94a1.3,1.3 0 1,0 2.6,0a1.3,1.3 0 1,0 -2.6,0M545.24,905.00a1.3,1.3 0 1,0 2.6,0a1.3,1.3 0 1,0 -2.6,0M546.32,906.00a1.3,1.3 0 1,0 2.6,0a1.3,1.3 0 1,0 -2.6,0M540.71,910.41a1.3,1.3 0 1,0 2.6,0a1.3,1.3 0 1,0 -2.6,0M553.68,920.81a1.3,1.3 0 1,0 2.6,0a1.3,1.3 0 1,0 -2.6,0M538.75,943.08a1.3,1.3 0 1,0 2.6,0a1.3,1.3 0 1,0 -2.6,0M535.58,907.52a1.3,1.3 0 1,0 2.6,0a1.3,1.3 0 1,0 -2.6,0M536.74,953.03a1.3,1.3 0 1,0 2.6,0a1.3,1.3 0 1,0 -2.6,0M547.34,896.26a1.3,1.3 0 1,0 2.6,0a1.3,1.3 0 1,0 -2.6,0M549.29,917.19a1.3,1.3 0 1,0 2.6,0a1.3,1.3 0 1,0 -2.6,0M536.74,916.82a1.3,1.3 0 1,0 2.6,0a1.3,1.3 0 1,0 -2.6,0M538.10,933.63a1.3,1.3 0 1,0 2.6,0a1.3,1.3 0 1,0 -2.6,0M551.78,926.24a1.3,1.3 0 1,0 2.6,0a1.3,1.3 0 1,0 -2.6,0M545.86,890.89a1.3,1.3 0 1,0 2.6,0a1.3,1.3 0 1,0 -2.6,0M553.25,883.03a1.3,1.3 0 1,0 2.6,0a1.3,1.3 0 1,0 -2.6,0M547.75,907.95a1.3,1.3 0 1,0 2.6,0a1.3,1.3 0 1,0 -2.6,0M554.51,945.17a1.3,1.3 0 1,0 2.6,0a1.3,1.3 0 1,0 -2.6,0M552.40,907.64a1.3,1.3 0 1,0 2.6,0a1.3,1.3 0 1,0 -2.6,0M532.97,926.23a1.3,1.3 0 1,0 2.6,0a1.3,1.3 0 1,0 -2.6,0M543.27,921.48a1.3,1.3 0 1,0 2.6,0a1.3,1.3 0 1,0 -2.6,0M542.78,945.87a1.3,1.3 0 1,0 2.6,0a1.3,1.3 0 1,0 -2.6,0M532.44,904.21a1.3,1.3 0 1,0 2.6,0a1.3,1.3 0 1,0 -2.6,0M534.75,935.88a1.3,1.3 0 1,0 2.6,0a1.3,1.3 0 1,0 -2.6,0M536.24,904.95a1.3,1.3 0 1,0 2.6,0a1.3,1.3 0 1,0 -2.6,0M533.30,930.39a1.3,1.3 0 1,0 2.6,0a1.3,1.3 0 1,0 -2.6,0M547.71,936.03a1.3,1.3 0 1,0 2.6,0a1.3,1.3 0 1,0 -2.6,0M540.14,933.76a1.3,1.3 0 1,0 2.6,0a1.3,1.3 0 1,0 -2.6,0M554.90,950.99a1.3,1.3 0 1,0 2.6,0a1.3,1.3 0 1,0 -2.6,0M533.44,936.94a1.3,1.3 0 1,0 2.6,0a1.3,1.3 0 1,0 -2.6,0M534.21,922.05a1.3,1.3 0 1,0 2.6,0a1.3,1.3 0 1,0 -2.6,0M547.80,945.52a1.3,1.3 0 1,0 2.6,0a1.3,1.3 0 1,0 -2.6,0M538.68,938.69a1.3,1.3 0 1,0 2.6,0a1.3,1.3 0 1,0 -2.6,0M534.84,941.29a1.3,1.3 0 1,0 2.6,0a1.3,1.3 0 1,0 -2.6,0M541.22,918.93a1.3,1.3 0 1,0 2.6,0a1.3,1.3 0 1,0 -2.6,0M543.42,903.33a1.3,1.3 0 1,0 2.6,0a1.3,1.3 0 1,0 -2.6,0M545.88,932.90a1.3,1.3 0 1,0 2.6,0a1.3,1.3 0 1,0 -2.6,0M536.25,931.96a1.3,1.3 0 1,0 2.6,0a1.3,1.3 0 1,0 -2.6,0M549.78,942.61a1.3,1.3 0 1,0 2.6,0a1.3,1.3 0 1,0 -2.6,0M530.61,942.64a1.3,1.3 0 1,0 2.6,0a1.3,1.3 0 1,0 -2.6,0M554.66,937.42a1.3,1.3 0 1,0 2.6,0a1.3,1.3 0 1,0 -2.6,0M539.76,925.88a1.3,1.3 0 1,0 2.6,0a1.3,1.3 0 1,0 -2.6,0M554.71,931.76a1.3,1.3 0 1,0 2.6,0a1.3,1.3 0 1,0 -2.6,0M555.22,907.41a1.3,1.3 0 1,0 2.6,0a1.3,1.3 0 1,0 -2.6,0M534.92,928.16a1.3,1.3 0 1,0 2.6,0a1.3,1.3 0 1,0 -2.6,0M545.46,918.10a1.3,1.3 0 1,0 2.6,0a1.3,1.3 0 1,0 -2.6,0M552.44,898.18a1.3,1.3 0 1,0 2.6,0a1.3,1.3 0 1,0 -2.6,0M537.27,933.66a1.3,1.3 0 1,0 2.6,0a1.3,1.3 0 1,0 -2.6,0M546.73,948.07a1.3,1.3 0 1,0 2.6,0a1.3,1.3 0 1,0 -2.6,0M542.22,898.77a1.3,1.3 0 1,0 2.6,0a1.3,1.3 0 1,0 -2.6,0M553.06,912.37a1.3,1.3 0 1,0 2.6,0a1.3,1.3 0 1,0 -2.6,0M538.79,918.09a1.3,1.3 0 1,0 2.6,0a1.3,1.3 0 1,0 -2.6,0M534.11,899.68a1.3,1.3 0 1,0 2.6,0a1.3,1.3 0 1,0 -2.6,0M541.96,936.75a1.3,1.3 0 1,0 2.6,0a1.3,1.3 0 1,0 -2.6,0M531.81,913.64a1.3,1.3 0 1,0 2.6,0a1.3,1.3 0 1,0 -2.6,0M545.43,901.42a1.3,1.3 0 1,0 2.6,0a1.3,1.3 0 1,0 -2.6,0M536.38,918.16a1.3,1.3 0 1,0 2.6,0a1.3,1.3 0 1,0 -2.6,0M549.65,923.96a1.3,1.3 0 1,0 2.6,0a1.3,1.3 0 1,0 -2.6,0M536.89,912.11a1.3,1.3 0 1,0 2.6,0a1.3,1.3 0 1,0 -2.6,0M538.47,939.76a1.3,1.3 0 1,0 2.6,0a1.3,1.3 0 1,0 -2.6,0M545.21,956.49a1.3,1.3 0 1,0 2.6,0a1.3,1.3 0 1,0 -2.6,0M535.41,937.53a1.3,1.3 0 1,0 2.6,0a1.3,1.3 0 1,0 -2.6,0M542.01,955.70a1.3,1.3 0 1,0 2.6,0a1.3,1.3 0 1,0 -2.6,0M535.30,921.97a1.3,1.3 0 1,0 2.6,0a1.3,1.3 0 1,0 -2.6,0M549.66,916.02a1.3,1.3 0 1,0 2.6,0a1.3,1.3 0 1,0 -2.6,0M542.00,938.64a1.3,1.3 0 1,0 2.6,0a1.3,1.3 0 1,0 -2.6,0M537.98,886.49a1.3,1.3 0 1,0 2.6,0a1.3,1.3 0 1,0 -2.6,0M548.34,935.58a1.3,1.3 0 1,0 2.6,0a1.3,1.3 0 1,0 -2.6,0M538.02,927.20a1.3,1.3 0 1,0 2.6,0a1.3,1.3 0 1,0 -2.6,0M530.46,925.03a1.3,1.3 0 1,0 2.6,0a1.3,1.3 0 1,0 -2.6,0M535.29,914.47a1.3,1.3 0 1,0 2.6,0a1.3,1.3 0 1,0 -2.6,0M541.23,903.84a1.3,1.3 0 1,0 2.6,0a1.3,1.3 0 1,0 -2.6,0M553.89,930.01a1.3,1.3 0 1,0 2.6,0a1.3,1.3 0 1,0 -2.6,0M555.02,906.33a1.3,1.3 0 1,0 2.6,0a1.3,1.3 0 1,0 -2.6,0M535.51,952.90a1.3,1.3 0 1,0 2.6,0a1.3,1.3 0 1,0 -2.6,0M531.13,921.72a1.3,1.3 0 1,0 2.6,0a1.3,1.3 0 1,0 -2.6,0M537.72,943.11a1.3,1.3 0 1,0 2.6,0a1.3,1.3 0 1,0 -2.6,0M548.34,923.94a1.3,1.3 0 1,0 2.6,0a1.3,1.3 0 1,0 -2.6,0M534.96,899.85a1.3,1.3 0 1,0 2.6,0a1.3,1.3 0 1,0 -2.6,0M549.67,896.03a1.3,1.3 0 1,0 2.6,0a1.3,1.3 0 1,0 -2.6,0M552.77,886.85a1.3,1.3 0 1,0 2.6,0a1.3,1.3 0 1,0 -2.6,0M537.97,931.31a1.3,1.3 0 1,0 2.6,0a1.3,1.3 0 1,0 -2.6,0M538.51,938.12a1.3,1.3 0 1,0 2.6,0a1.3,1.3 0 1,0 -2.6,0M539.13,932.73a1.3,1.3 0 1,0 2.6,0a1.3,1.3 0 1,0 -2.6,0M533.89,925.60a1.3,1.3 0 1,0 2.6,0a1.3,1.3 0 1,0 -2.6,0M531.61,932.92a1.3,1.3 0 1,0 2.6,0a1.3,1.3 0 1,0 -2.6,0M552.21,905.69a1.3,1.3 0 1,0 2.6,0a1.3,1.3 0 1,0 -2.6,0M545.71,918.10a1.3,1.3 0 1,0 2.6,0a1.3,1.3 0 1,0 -2.6,0M530.55,924.08a1.3,1.3 0 1,0 2.6,0a1.3,1.3 0 1,0 -2.6,0M538.72,933.31a1.3,1.3 0 1,0 2.6,0a1.3,1.3 0 1,0 -2.6,0M548.22,931.07a1.3,1.3 0 1,0 2.6,0a1.3,1.3 0 1,0 -2.6,0M554.14,909.66a1.3,1.3 0 1,0 2.6,0a1.3,1.3 0 1,0 -2.6,0M543.87,920.61a1.3,1.3 0 1,0 2.6,0a1.3,1.3 0 1,0 -2.6,0M543.33,920.83a1.3,1.3 0 1,0 2.6,0a1.3,1.3 0 1,0 -2.6,0M533.13,948.76a1.3,1.3 0 1,0 2.6,0a1.3,1.3 0 1,0 -2.6,0M543.00,923.29a1.3,1.3 0 1,0 2.6,0a1.3,1.3 0 1,0 -2.6,0M537.77,930.48a1.3,1.3 0 1,0 2.6,0a1.3,1.3 0 1,0 -2.6,0M545.88,927.31a1.3,1.3 0 1,0 2.6,0a1.3,1.3 0 1,0 -2.6,0M548.94,944.86a1.3,1.3 0 1,0 2.6,0a1.3,1.3 0 1,0 -2.6,0M546.28,913.54a1.3,1.3 0 1,0 2.6,0a1.3,1.3 0 1,0 -2.6,0M541.04,935.24a1.3,1.3 0 1,0 2.6,0a1.3,1.3 0 1,0 -2.6,0M537.80,939.04a1.3,1.3 0 1,0 2.6,0a1.3,1.3 0 1,0 -2.6,0M551.42,920.54a1.3,1.3 0 1,0 2.6,0a1.3,1.3 0 1,0 -2.6,0M534.10,908.38a1.3,1.3 0 1,0 2.6,0a1.3,1.3 0 1,0 -2.6,0M553.50,929.14a1.3,1.3 0 1,0 2.6,0a1.3,1.3 0 1,0 -2.6,0M542.21,928.73a1.3,1.3 0 1,0 2.6,0a1.3,1.3 0 1,0 -2.6,0M551.92,926.12a1.3,1.3 0 1,0 2.6,0a1.3,1.3 0 1,0 -2.6,0M545.79,925.71a1.3,1.3 0 1,0 2.6,0a1.3,1.3 0 1,0 -2.6,0M541.19,914.43a1.3,1.3 0 1,0 2.6,0a1.3,1.3 0 1,0 -2.6,0M550.92,892.71a1.3,1.3 0 1,0 2.6,0a1.3,1.3 0 1,0 -2.6,0M548.40,958.59a1.3,1.3 0 1,0 2.6,0a1.3,1.3 0 1,0 -2.6,0M546.30,928.13a1.3,1.3 0 1,0 2.6,0a1.3,1.3 0 1,0 -2.6,0M539.63,912.26a1.3,1.3 0 1,0 2.6,0a1.3,1.3 0 1,0 -2.6,0M552.78,890.39a1.3,1.3 0 1,0 2.6,0a1.3,1.3 0 1,0 -2.6,0M548.53,898.73a1.3,1.3 0 1,0 2.6,0a1.3,1.3 0 1,0 -2.6,0M550.18,926.81a1.3,1.3 0 1,0 2.6,0a1.3,1.3 0 1,0 -2.6,0M553.17,922.82a1.3,1.3 0 1,0 2.6,0a1.3,1.3 0 1,0 -2.6,0M545.53,912.19a1.3,1.3 0 1,0 2.6,0a1.3,1.3 0 1,0 -2.6,0M545.83,942.76a1.3,1.3 0 1,0 2.6,0a1.3,1.3 0 1,0 -2.6,0M532.31,879.63a1.3,1.3 0 1,0 2.6,0a1.3,1.3 0 1,0 -2.6,0M547.64,926.88a1.3,1.3 0 1,0 2.6,0a1.3,1.3 0 1,0 -2.6,0M555.65,895.53a1.3,1.3 0 1,0 2.6,0a1.3,1.3 0 1,0 -2.6,0M550.79,930.34a1.3,1.3 0 1,0 2.6,0a1.3,1.3 0 1,0 -2.6,0M553.86,911.16a1.3,1.3 0 1,0 2.6,0a1.3,1.3 0 1,0 -2.6,0M547.73,925.88a1.3,1.3 0 1,0 2.6,0a1.3,1.3 0 1,0 -2.6,0M550.65,888.07a1.3,1.3 0 1,0 2.6,0a1.3,1.3 0 1,0 -2.6,0M539.54,928.82a1.3,1.3 0 1,0 2.6,0a1.3,1.3 0 1,0 -2.6,0M553.20,925.62a1.3,1.3 0 1,0 2.6,0a1.3,1.3 0 1,0 -2.6,0M543.22,941.23a1.3,1.3 0 1,0 2.6,0a1.3,1.3 0 1,0 -2.6,0M545.28,933.75a1.3,1.3 0 1,0 2.6,0a1.3,1.3 0 1,0 -2.6,0M536.22,932.32a1.3,1.3 0 1,0 2.6,0a1.3,1.3 0 1,0 -2.6,0M537.92,950.23a1.3,1.3 0 1,0 2.6,0a1.3,1.3 0 1,0 -2.6,0M544.20,896.94a1.3,1.3 0 1,0 2.6,0a1.3,1.3 0 1,0 -2.6,0M537.53,929.70a1.3,1.3 0 1,0 2.6,0a1.3,1.3 0 1,0 -2.6,0M537.22,938.41a1.3,1.3 0 1,0 2.6,0a1.3,1.3 0 1,0 -2.6,0M545.31,928.51a1.3,1.3 0 1,0 2.6,0a1.3,1.3 0 1,0 -2.6,0M542.41,896.32a1.3,1.3 0 1,0 2.6,0a1.3,1.3 0 1,0 -2.6,0M538.22,905.03a1.3,1.3 0 1,0 2.6,0a1.3,1.3 0 1,0 -2.6,0M554.24,942.00a1.3,1.3 0 1,0 2.6,0a1.3,1.3 0 1,0 -2.6,0M549.99,880.64a1.3,1.3 0 1,0 2.6,0a1.3,1.3 0 1,0 -2.6,0M553.41,953.57a1.3,1.3 0 1,0 2.6,0a1.3,1.3 0 1,0 -2.6,0M530.31,901.23a1.3,1.3 0 1,0 2.6,0a1.3,1.3 0 1,0 -2.6,0M531.91,888.12a1.3,1.3 0 1,0 2.6,0a1.3,1.3 0 1,0 -2.6,0M534.51,923.46a1.3,1.3 0 1,0 2.6,0a1.3,1.3 0 1,0 -2.6,0M553.57,927.27a1.3,1.3 0 1,0 2.6,0a1.3,1.3 0 1,0 -2.6,0M546.71,921.82a1.3,1.3 0 1,0 2.6,0a1.3,1.3 0 1,0 -2.6,0M549.33,894.06a1.3,1.3 0 1,0 2.6,0a1.3,1.3 0 1,0 -2.6,0M534.76,925.47a1.3,1.3 0 1,0 2.6,0a1.3,1.3 0 1,0 -2.6,0M541.65,901.74a1.3,1.3 0 1,0 2.6,0a1.3,1.3 0 1,0 -2.6,0M548.50,892.10a1.3,1.3 0 1,0 2.6,0a1.3,1.3 0 1,0 -2.6,0M551.29,938.60a1.3,1.3 0 1,0 2.6,0a1.3,1.3 0 1,0 -2.6,0M552.76,934.06a1.3,1.3 0 1,0 2.6,0a1.3,1.3 0 1,0 -2.6,0M538.29,931.99a1.3,1.3 0 1,0 2.6,0a1.3,1.3 0 1,0 -2.6,0M530.10,934.11a1.3,1.3 0 1,0 2.6,0a1.3,1.3 0 1,0 -2.6,0M548.53,910.88a1.3,1.3 0 1,0 2.6,0a1.3,1.3 0 1,0 -2.6,0M535.37,925.39a1.3,1.3 0 1,0 2.6,0a1.3,1.3 0 1,0 -2.6,0M536.98,914.36a1.3,1.3 0 1,0 2.6,0a1.3,1.3 0 1,0 -2.6,0M554.14,884.74a1.3,1.3 0 1,0 2.6,0a1.3,1.3 0 1,0 -2.6,0M534.80,925.50a1.3,1.3 0 1,0 2.6,0a1.3,1.3 0 1,0 -2.6,0M554.00,889.62a1.3,1.3 0 1,0 2.6,0a1.3,1.3 0 1,0 -2.6,0M532.37,933.74a1.3,1.3 0 1,0 2.6,0a1.3,1.3 0 1,0 -2.6,0M550.28,893.79a1.3,1.3 0 1,0 2.6,0a1.3,1.3 0 1,0 -2.6,0M546.06,915.68a1.3,1.3 0 1,0 2.6,0a1.3,1.3 0 1,0 -2.6,0M531.00,921.16a1.3,1.3 0 1,0 2.6,0a1.3,1.3 0 1,0 -2.6,0M544.58,933.16a1.3,1.3 0 1,0 2.6,0a1.3,1.3 0 1,0 -2.6,0M538.27,916.94a1.3,1.3 0 1,0 2.6,0a1.3,1.3 0 1,0 -2.6,0M551.66,919.28a1.3,1.3 0 1,0 2.6,0a1.3,1.3 0 1,0 -2.6,0M548.64,939.70a1.3,1.3 0 1,0 2.6,0a1.3,1.3 0 1,0 -2.6,0M536.80,917.20a1.3,1.3 0 1,0 2.6,0a1.3,1.3 0 1,0 -2.6,0M531.26,946.48a1.3,1.3 0 1,0 2.6,0a1.3,1.3 0 1,0 -2.6,0M537.96,902.50a1.3,1.3 0 1,0 2.6,0a1.3,1.3 0 1,0 -2.6,0M553.76,943.40a1.3,1.3 0 1,0 2.6,0a1.3,1.3 0 1,0 -2.6,0M545.36,918.19a1.3,1.3 0 1,0 2.6,0a1.3,1.3 0 1,0 -2.6,0M553.33,910.08a1.3,1.3 0 1,0 2.6,0a1.3,1.3 0 1,0 -2.6,0M531.83,923.98a1.3,1.3 0 1,0 2.6,0a1.3,1.3 0 1,0 -2.6,0M555.04,933.42a1.3,1.3 0 1,0 2.6,0a1.3,1.3 0 1,0 -2.6,0M550.67,945.25a1.3,1.3 0 1,0 2.6,0a1.3,1.3 0 1,0 -2.6,0M531.61,948.35a1.3,1.3 0 1,0 2.6,0a1.3,1.3 0 1,0 -2.6,0M552.41,919.58a1.3,1.3 0 1,0 2.6,0a1.3,1.3 0 1,0 -2.6,0M555.20,852.20a1.3,1.3 0 1,0 2.6,0a1.3,1.3 0 1,0 -2.6,0M538.70,968.30a1.3,1.3 0 1,0 2.6,0a1.3,1.3 0 1,0 -2.6,0M550.70,964.30a1.3,1.3 0 1,0 2.6,0a1.3,1.3 0 1,0 -2.6,0" fill="#000"/>
<rect x="520.00" y="910.40" width="48.20" height="23.80" fill="rgba(60,120,185,0.38)" stroke="#3a3a3a" stroke-width="0.9"/>
<line x1="522.00" y1="910.40" x2="522.00" y2="934.20" stroke="rgba(40,40,60,0.45)" stroke-width="0.8" />
<line x1="566.20" y1="910.40" x2="566.20" y2="934.20" stroke="rgba(40,40,60,0.3)" stroke-width="0.8" />
<line x1="520.00" y1="924.50" x2="568.20" y2="924.50" stroke="#333" stroke-width="1.3" />
<text x="536.84" y="985.30" font-size="11" fill="#000" textLength="14.57" lengthAdjust="spacingAndGlyphs" stroke="#000" stroke-width="0.2">M0</text>
<line x1="544.20" y1="972.90" x2="544.20" y2="974.50" stroke="#333" stroke-width="0.8" />
<line x1="608.10" y1="880.10" x2="608.10" y2="905.00" stroke="#333" stroke-width="0.9" />
<line x1="608.10" y1="926.70" x2="608.10" y2="953.70" stroke="#333" stroke-width="0.9" />
<path d="M605.90,880.10a1.3,1.3 0 1,0 2.6,0a1.3,1.3 0 1,0 -2.6,0M611.70,887.40a1.3,1.3 0 1,0 2.6,0a1.3,1.3 0 1,0 -2.6,0M596.90,895.80a1.3,1.3 0 1,0 2.6,0a1.3,1.3 0 1,0 -2.6,0M609.10,900.10a1.3,1.3 0 1,0 2.6,0a1.3,1.3 0 1,0 -2.6,0M600.00,903.10a1.3,1.3 0 1,0 2.6,0a1.3,1.3 0 1,0 -2.6,0M609.80,906.40a1.3,1.3 0 1,0 2.6,0a1.3,1.3 0 1,0 -2.6,0M599.60,910.80a1.3,1.3 0 1,0 2.6,0a1.3,1.3 0 1,0 -2.6,0M597.80,913.70a1.3,1.3 0 1,0 2.6,0a1.3,1.3 0 1,0 -2.6,0M614.20,912.80a1.3,1.3 0 1,0 2.6,0a1.3,1.3 0 1,0 -2.6,0M619.30,912.80a1.3,1.3 0 1,0 2.6,0a1.3,1.3 0 1,0 -2.6,0M601.00,917.70a1.3,1.3 0 1,0 2.6,0a1.3,1.3 0 1,0 -2.6,0M602.50,918.10a1.3,1.3 0 1,0 2.6,0a1.3,1.3 0 1,0 -2.6,0M606.10,922.80a1.3,1.3 0 1,0 2.6,0a1.3,1.3 0 1,0 -2.6,0M619.70,923.80a1.3,1.3 0 1,0 2.6,0a1.3,1.3 0 1,0 -2.6,0M599.60,926.00a1.3,1.3 0 1,0 2.6,0a1.3,1.3 0 1,0 -2.6,0M608.30,927.90a1.3,1.3 0 1,0 2.6,0a1.3,1.3 0 1,0 -2.6,0M613.40,927.90a1.3,1.3 0 1,0 2.6,0a1.3,1.3 0 1,0 -2.6,0M607.20,935.90a1.3,1.3 0 1,0 2.6,0a1.3,1.3 0 1,0 -2.6,0M610.50,935.60a1.3,1.3 0 1,0 2.6,0a1.3,1.3 0 1,0 -2.6,0M601.00,942.20a1.3,1.3 0 1,0 2.6,0a1.3,1.3 0 1,0 -2.6,0M617.10,954.20a1.3,1.3 0 1,0 2.6,0a1.3,1.3 0 1,0 -2.6,0" fill="#000"/>
<rect x="584.40" y="905.00" width="47.40" height="21.70" fill="rgba(240,70,70,0.44)" stroke="#3a3a3a" stroke-width="0.9"/>
<line x1="586.40" y1="905.00" x2="586.40" y2="926.70" stroke="rgba(40,40,60,0.45)" stroke-width="0.8" />
<line x1="629.80" y1="905.00" x2="629.80" y2="926.70" stroke="rgba(40,40,60,0.3)" stroke-width="0.8" />
<line x1="584.40" y1="913.50" x2="631.80" y2="913.50" stroke="#333" stroke-width="1.3" />
<text x="600.79" y="985.30" font-size="11" fill="#000" textLength="13.80" lengthAdjust="spacingAndGlyphs" stroke="#000" stroke-width="0.2">M1</text>
<line x1="608.10" y1="972.90" x2="608.10" y2="974.50" stroke="#333" stroke-width="0.8" />
<line x1="506.40" y1="840.40" x2="646.50" y2="840.40" stroke="#8a8a8a" stroke-width="1.2" />
<line x1="646.50" y1="840.40" x2="646.50" y2="972.90" stroke="#8a8a8a" stroke-width="1.2" />
<line x1="506.40" y1="972.90" x2="646.50" y2="972.90" stroke="#555" stroke-width="1.2" />
<line x1="506.40" y1="839.80" x2="506.40" y2="973.50" stroke="#a0a0a0" stroke-width="1.2" />
<line x1="504.60" y1="952.30" x2="506.40" y2="952.30" stroke="#333" stroke-width="0.8" />
<text x="489.49" y="956.10" font-size="10.8" fill="#000" textLength="14.11" lengthAdjust="spacingAndGlyphs" stroke="#000" stroke-width="0.08">2.0</text>
<line x1="504.60" y1="926.00" x2="506.40" y2="926.00" stroke="#333" stroke-width="0.8" />
<text x="489.49" y="929.80" font-size="10.8" fill="#000" textLength="14.14" lengthAdjust="spacingAndGlyphs" stroke="#000" stroke-width="0.08">2.5</text>
<line x1="504.60" y1="899.70" x2="506.40" y2="899.70" stroke="#333" stroke-width="0.8" />
<text x="489.62" y="903.50" font-size="10.8" fill="#000" textLength="13.98" lengthAdjust="spacingAndGlyphs" stroke="#000" stroke-width="0.08">3.0</text>
<line x1="504.60" y1="873.40" x2="506.40" y2="873.40" stroke="#333" stroke-width="0.8" />
<text x="489.62" y="877.20" font-size="10.8" fill="#000" textLength="14.01" lengthAdjust="spacingAndGlyphs" stroke="#000" stroke-width="0.08">3.5</text>
<line x1="504.60" y1="847.10" x2="506.40" y2="847.10" stroke="#333" stroke-width="0.8" />
<text x="489.77" y="850.90" font-size="10.8" fill="#000" textLength="13.82" lengthAdjust="spacingAndGlyphs" stroke="#000" stroke-width="0.08">4.0</text>
<path d="M544.30,849.50V846.60H608.30V849.50" fill="none" stroke="#333" stroke-width="0.8"/>
<text x="573.01" y="845.30" font-size="6.0" fill="#000" textLength="6.20" lengthAdjust="spacingAndGlyphs">ns</text>
<text x="0" y="0" font-size="11" text-anchor="middle" transform="translate(487.80,906.65) rotate(-90)">Risk Score</text>
<text x="25.90" y="249.30" font-size="17.0" fill="#000" textLength="59.04" lengthAdjust="spacingAndGlyphs" stroke="#000" stroke-width="0.2">p=0.00048</text>
<text x="187.90" y="249.30" font-size="17.0" fill="#000" textLength="45.22" lengthAdjust="spacingAndGlyphs" stroke="#000" stroke-width="0.2">p=0.012</text>
<text x="374.99" y="256.60" font-size="17.0" fill="#000" textLength="45.86" lengthAdjust="spacingAndGlyphs" stroke="#000" stroke-width="0.2">p=0.056</text>
<text x="536.33" y="256.60" font-size="17.0" fill="#000" textLength="7.54" lengthAdjust="spacingAndGlyphs" stroke="#000" stroke-width="0.2">p</text>
<text x="558.13" y="256.60" font-size="17.0" fill="#000" textLength="36.86" lengthAdjust="spacingAndGlyphs" stroke="#000" stroke-width="0.2">0.0001</text>
<path d="M556.1,246.7L545.6,251.5L556.1,256.2" fill="none" stroke="#000" stroke-width="1.0"/>
<text x="27.80" y="535.80" font-size="17.0" fill="#000" textLength="59.02" lengthAdjust="spacingAndGlyphs" stroke="#000" stroke-width="0.2">p=0.00067</text>
<text x="248.17" y="535.90" font-size="17.0" fill="#000" textLength="47.10" lengthAdjust="spacingAndGlyphs" stroke="#000" stroke-width="0.2">p=0.016</text>
<text x="382.08" y="534.60" font-size="17.0" fill="#000" textLength="32.16" lengthAdjust="spacingAndGlyphs" stroke="#000" stroke-width="0.2">p=0.2</text>
<text x="536.32" y="529.30" font-size="17.0" fill="#000" textLength="57.26" lengthAdjust="spacingAndGlyphs" stroke="#000" stroke-width="0.2">p=0.00011</text>
<text x="213.00" y="785.50" font-size="17.0" fill="#000" textLength="59.12" lengthAdjust="spacingAndGlyphs" stroke="#000" stroke-width="0.2">p=0.00065</text>
<text x="407.99" y="786.50" font-size="17.0" fill="#000" textLength="38.97" lengthAdjust="spacingAndGlyphs" stroke="#000" stroke-width="0.2">p=0.06</text>
</svg>
</body></html>
